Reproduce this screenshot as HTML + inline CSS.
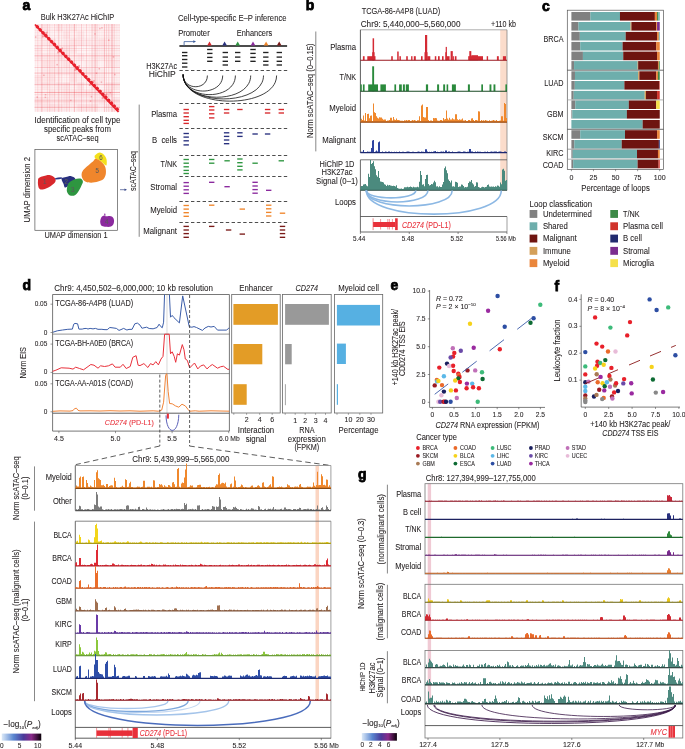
<!DOCTYPE html>
<html><head><meta charset="utf-8"><style>
html,body{margin:0;padding:0;background:#fff;width:685px;height:749px;overflow:hidden}
svg{display:block;will-change:transform}
svg{font-family:"Liberation Sans",sans-serif}
</style></head><body>
<svg width="685" height="749" viewBox="0 0 685 749">
<rect width="685" height="749" fill="#fff"/>
<text x="22.60" y="10.30" font-size="14" fill="#000" font-weight="bold" stroke="#000" stroke-width="0.75">a</text>
<text x="77.50" y="20.30" font-size="8.5" text-anchor="middle" fill="#231f20" stroke="#231f20" stroke-width="0.08" textLength="73.4" lengthAdjust="spacingAndGlyphs">Bulk H3K27Ac HiChIP</text>
<rect x="34.50" y="24.00" width="85.50" height="88.00" fill="#fef6f7"/>
<rect x="34.50" y="24.00" width="7.10" height="7.30" fill="rgba(236,60,72,0.02)"/>
<rect x="34.50" y="31.30" width="7.10" height="7.30" fill="rgba(236,60,72,0.04)"/>
<rect x="34.50" y="38.60" width="7.10" height="7.30" fill="rgba(236,60,72,0.03)"/>
<rect x="34.50" y="45.90" width="7.10" height="7.30" fill="rgba(236,60,72,0.05)"/>
<rect x="34.50" y="53.20" width="7.10" height="7.30" fill="rgba(236,60,72,0.05)"/>
<rect x="34.50" y="60.50" width="7.10" height="7.30" fill="rgba(236,60,72,0.01)"/>
<rect x="34.50" y="67.80" width="7.10" height="7.30" fill="rgba(236,60,72,0.00)"/>
<rect x="34.50" y="75.10" width="7.10" height="7.30" fill="rgba(236,60,72,0.07)"/>
<rect x="34.50" y="82.40" width="7.10" height="7.30" fill="rgba(236,60,72,0.02)"/>
<rect x="34.50" y="89.70" width="7.10" height="7.30" fill="rgba(236,60,72,0.02)"/>
<rect x="34.50" y="97.00" width="7.10" height="7.30" fill="rgba(236,60,72,0.08)"/>
<rect x="34.50" y="104.30" width="7.10" height="7.30" fill="rgba(236,60,72,0.04)"/>
<rect x="41.60" y="24.00" width="7.10" height="7.30" fill="rgba(236,60,72,0.07)"/>
<rect x="41.60" y="31.30" width="7.10" height="7.30" fill="rgba(236,60,72,0.04)"/>
<rect x="41.60" y="38.60" width="7.10" height="7.30" fill="rgba(236,60,72,0.05)"/>
<rect x="41.60" y="45.90" width="7.10" height="7.30" fill="rgba(236,60,72,0.01)"/>
<rect x="41.60" y="53.20" width="7.10" height="7.30" fill="rgba(236,60,72,0.05)"/>
<rect x="41.60" y="60.50" width="7.10" height="7.30" fill="rgba(236,60,72,0.07)"/>
<rect x="41.60" y="67.80" width="7.10" height="7.30" fill="rgba(236,60,72,0.04)"/>
<rect x="41.60" y="75.10" width="7.10" height="7.30" fill="rgba(236,60,72,0.06)"/>
<rect x="41.60" y="82.40" width="7.10" height="7.30" fill="rgba(236,60,72,0.05)"/>
<rect x="41.60" y="89.70" width="7.10" height="7.30" fill="rgba(236,60,72,0.01)"/>
<rect x="41.60" y="97.00" width="7.10" height="7.30" fill="rgba(236,60,72,0.06)"/>
<rect x="41.60" y="104.30" width="7.10" height="7.30" fill="rgba(236,60,72,0.05)"/>
<rect x="48.70" y="24.00" width="7.10" height="7.30" fill="rgba(236,60,72,0.02)"/>
<rect x="48.70" y="31.30" width="7.10" height="7.30" fill="rgba(236,60,72,0.00)"/>
<rect x="48.70" y="38.60" width="7.10" height="7.30" fill="rgba(236,60,72,0.07)"/>
<rect x="48.70" y="45.90" width="7.10" height="7.30" fill="rgba(236,60,72,0.04)"/>
<rect x="48.70" y="53.20" width="7.10" height="7.30" fill="rgba(236,60,72,0.06)"/>
<rect x="48.70" y="60.50" width="7.10" height="7.30" fill="rgba(236,60,72,0.07)"/>
<rect x="48.70" y="67.80" width="7.10" height="7.30" fill="rgba(236,60,72,0.06)"/>
<rect x="48.70" y="75.10" width="7.10" height="7.30" fill="rgba(236,60,72,0.07)"/>
<rect x="48.70" y="82.40" width="7.10" height="7.30" fill="rgba(236,60,72,0.03)"/>
<rect x="48.70" y="89.70" width="7.10" height="7.30" fill="rgba(236,60,72,0.06)"/>
<rect x="48.70" y="97.00" width="7.10" height="7.30" fill="rgba(236,60,72,0.04)"/>
<rect x="48.70" y="104.30" width="7.10" height="7.30" fill="rgba(236,60,72,0.07)"/>
<rect x="55.80" y="24.00" width="7.10" height="7.30" fill="rgba(236,60,72,0.07)"/>
<rect x="55.80" y="31.30" width="7.10" height="7.30" fill="rgba(236,60,72,0.01)"/>
<rect x="55.80" y="38.60" width="7.10" height="7.30" fill="rgba(236,60,72,0.01)"/>
<rect x="55.80" y="45.90" width="7.10" height="7.30" fill="rgba(236,60,72,0.02)"/>
<rect x="55.80" y="53.20" width="7.10" height="7.30" fill="rgba(236,60,72,0.08)"/>
<rect x="55.80" y="60.50" width="7.10" height="7.30" fill="rgba(236,60,72,0.03)"/>
<rect x="55.80" y="67.80" width="7.10" height="7.30" fill="rgba(236,60,72,0.05)"/>
<rect x="55.80" y="75.10" width="7.10" height="7.30" fill="rgba(236,60,72,0.02)"/>
<rect x="55.80" y="82.40" width="7.10" height="7.30" fill="rgba(236,60,72,0.04)"/>
<rect x="55.80" y="89.70" width="7.10" height="7.30" fill="rgba(236,60,72,0.03)"/>
<rect x="55.80" y="97.00" width="7.10" height="7.30" fill="rgba(236,60,72,0.03)"/>
<rect x="55.80" y="104.30" width="7.10" height="7.30" fill="rgba(236,60,72,0.05)"/>
<rect x="62.90" y="24.00" width="7.10" height="7.30" fill="rgba(236,60,72,0.05)"/>
<rect x="62.90" y="31.30" width="7.10" height="7.30" fill="rgba(236,60,72,0.07)"/>
<rect x="62.90" y="38.60" width="7.10" height="7.30" fill="rgba(236,60,72,0.05)"/>
<rect x="62.90" y="45.90" width="7.10" height="7.30" fill="rgba(236,60,72,0.07)"/>
<rect x="62.90" y="53.20" width="7.10" height="7.30" fill="rgba(236,60,72,0.07)"/>
<rect x="62.90" y="60.50" width="7.10" height="7.30" fill="rgba(236,60,72,0.08)"/>
<rect x="62.90" y="67.80" width="7.10" height="7.30" fill="rgba(236,60,72,0.05)"/>
<rect x="62.90" y="75.10" width="7.10" height="7.30" fill="rgba(236,60,72,0.01)"/>
<rect x="62.90" y="82.40" width="7.10" height="7.30" fill="rgba(236,60,72,0.07)"/>
<rect x="62.90" y="89.70" width="7.10" height="7.30" fill="rgba(236,60,72,0.08)"/>
<rect x="62.90" y="97.00" width="7.10" height="7.30" fill="rgba(236,60,72,0.07)"/>
<rect x="62.90" y="104.30" width="7.10" height="7.30" fill="rgba(236,60,72,0.05)"/>
<rect x="70.00" y="24.00" width="7.10" height="7.30" fill="rgba(236,60,72,0.06)"/>
<rect x="70.00" y="31.30" width="7.10" height="7.30" fill="rgba(236,60,72,0.02)"/>
<rect x="70.00" y="38.60" width="7.10" height="7.30" fill="rgba(236,60,72,0.07)"/>
<rect x="70.00" y="45.90" width="7.10" height="7.30" fill="rgba(236,60,72,0.05)"/>
<rect x="70.00" y="53.20" width="7.10" height="7.30" fill="rgba(236,60,72,0.02)"/>
<rect x="70.00" y="60.50" width="7.10" height="7.30" fill="rgba(236,60,72,0.01)"/>
<rect x="70.00" y="67.80" width="7.10" height="7.30" fill="rgba(236,60,72,0.07)"/>
<rect x="70.00" y="75.10" width="7.10" height="7.30" fill="rgba(236,60,72,0.08)"/>
<rect x="70.00" y="82.40" width="7.10" height="7.30" fill="rgba(236,60,72,0.01)"/>
<rect x="70.00" y="89.70" width="7.10" height="7.30" fill="rgba(236,60,72,0.06)"/>
<rect x="70.00" y="97.00" width="7.10" height="7.30" fill="rgba(236,60,72,0.03)"/>
<rect x="70.00" y="104.30" width="7.10" height="7.30" fill="rgba(236,60,72,0.01)"/>
<rect x="77.10" y="24.00" width="7.10" height="7.30" fill="rgba(236,60,72,0.02)"/>
<rect x="77.10" y="31.30" width="7.10" height="7.30" fill="rgba(236,60,72,0.06)"/>
<rect x="77.10" y="38.60" width="7.10" height="7.30" fill="rgba(236,60,72,0.07)"/>
<rect x="77.10" y="45.90" width="7.10" height="7.30" fill="rgba(236,60,72,0.00)"/>
<rect x="77.10" y="53.20" width="7.10" height="7.30" fill="rgba(236,60,72,0.05)"/>
<rect x="77.10" y="60.50" width="7.10" height="7.30" fill="rgba(236,60,72,0.00)"/>
<rect x="77.10" y="67.80" width="7.10" height="7.30" fill="rgba(236,60,72,0.06)"/>
<rect x="77.10" y="75.10" width="7.10" height="7.30" fill="rgba(236,60,72,0.03)"/>
<rect x="77.10" y="82.40" width="7.10" height="7.30" fill="rgba(236,60,72,0.07)"/>
<rect x="77.10" y="89.70" width="7.10" height="7.30" fill="rgba(236,60,72,0.08)"/>
<rect x="77.10" y="97.00" width="7.10" height="7.30" fill="rgba(236,60,72,0.04)"/>
<rect x="77.10" y="104.30" width="7.10" height="7.30" fill="rgba(236,60,72,0.08)"/>
<rect x="84.20" y="24.00" width="7.10" height="7.30" fill="rgba(236,60,72,0.02)"/>
<rect x="84.20" y="31.30" width="7.10" height="7.30" fill="rgba(236,60,72,0.01)"/>
<rect x="84.20" y="38.60" width="7.10" height="7.30" fill="rgba(236,60,72,0.05)"/>
<rect x="84.20" y="45.90" width="7.10" height="7.30" fill="rgba(236,60,72,0.00)"/>
<rect x="84.20" y="53.20" width="7.10" height="7.30" fill="rgba(236,60,72,0.02)"/>
<rect x="84.20" y="60.50" width="7.10" height="7.30" fill="rgba(236,60,72,0.03)"/>
<rect x="84.20" y="67.80" width="7.10" height="7.30" fill="rgba(236,60,72,0.05)"/>
<rect x="84.20" y="75.10" width="7.10" height="7.30" fill="rgba(236,60,72,0.01)"/>
<rect x="84.20" y="82.40" width="7.10" height="7.30" fill="rgba(236,60,72,0.00)"/>
<rect x="84.20" y="89.70" width="7.10" height="7.30" fill="rgba(236,60,72,0.07)"/>
<rect x="84.20" y="97.00" width="7.10" height="7.30" fill="rgba(236,60,72,0.03)"/>
<rect x="84.20" y="104.30" width="7.10" height="7.30" fill="rgba(236,60,72,0.08)"/>
<rect x="91.30" y="24.00" width="7.10" height="7.30" fill="rgba(236,60,72,0.07)"/>
<rect x="91.30" y="31.30" width="7.10" height="7.30" fill="rgba(236,60,72,0.03)"/>
<rect x="91.30" y="38.60" width="7.10" height="7.30" fill="rgba(236,60,72,0.04)"/>
<rect x="91.30" y="45.90" width="7.10" height="7.30" fill="rgba(236,60,72,0.04)"/>
<rect x="91.30" y="53.20" width="7.10" height="7.30" fill="rgba(236,60,72,0.05)"/>
<rect x="91.30" y="60.50" width="7.10" height="7.30" fill="rgba(236,60,72,0.05)"/>
<rect x="91.30" y="67.80" width="7.10" height="7.30" fill="rgba(236,60,72,0.04)"/>
<rect x="91.30" y="75.10" width="7.10" height="7.30" fill="rgba(236,60,72,0.05)"/>
<rect x="91.30" y="82.40" width="7.10" height="7.30" fill="rgba(236,60,72,0.08)"/>
<rect x="91.30" y="89.70" width="7.10" height="7.30" fill="rgba(236,60,72,0.04)"/>
<rect x="91.30" y="97.00" width="7.10" height="7.30" fill="rgba(236,60,72,0.03)"/>
<rect x="91.30" y="104.30" width="7.10" height="7.30" fill="rgba(236,60,72,0.06)"/>
<rect x="98.40" y="24.00" width="7.10" height="7.30" fill="rgba(236,60,72,0.02)"/>
<rect x="98.40" y="31.30" width="7.10" height="7.30" fill="rgba(236,60,72,0.02)"/>
<rect x="98.40" y="38.60" width="7.10" height="7.30" fill="rgba(236,60,72,0.08)"/>
<rect x="98.40" y="45.90" width="7.10" height="7.30" fill="rgba(236,60,72,0.04)"/>
<rect x="98.40" y="53.20" width="7.10" height="7.30" fill="rgba(236,60,72,0.04)"/>
<rect x="98.40" y="60.50" width="7.10" height="7.30" fill="rgba(236,60,72,0.00)"/>
<rect x="98.40" y="67.80" width="7.10" height="7.30" fill="rgba(236,60,72,0.03)"/>
<rect x="98.40" y="75.10" width="7.10" height="7.30" fill="rgba(236,60,72,0.05)"/>
<rect x="98.40" y="82.40" width="7.10" height="7.30" fill="rgba(236,60,72,0.00)"/>
<rect x="98.40" y="89.70" width="7.10" height="7.30" fill="rgba(236,60,72,0.05)"/>
<rect x="98.40" y="97.00" width="7.10" height="7.30" fill="rgba(236,60,72,0.05)"/>
<rect x="98.40" y="104.30" width="7.10" height="7.30" fill="rgba(236,60,72,0.00)"/>
<rect x="105.50" y="24.00" width="7.10" height="7.30" fill="rgba(236,60,72,0.05)"/>
<rect x="105.50" y="31.30" width="7.10" height="7.30" fill="rgba(236,60,72,0.04)"/>
<rect x="105.50" y="38.60" width="7.10" height="7.30" fill="rgba(236,60,72,0.05)"/>
<rect x="105.50" y="45.90" width="7.10" height="7.30" fill="rgba(236,60,72,0.03)"/>
<rect x="105.50" y="53.20" width="7.10" height="7.30" fill="rgba(236,60,72,0.06)"/>
<rect x="105.50" y="60.50" width="7.10" height="7.30" fill="rgba(236,60,72,0.06)"/>
<rect x="105.50" y="67.80" width="7.10" height="7.30" fill="rgba(236,60,72,0.00)"/>
<rect x="105.50" y="75.10" width="7.10" height="7.30" fill="rgba(236,60,72,0.00)"/>
<rect x="105.50" y="82.40" width="7.10" height="7.30" fill="rgba(236,60,72,0.05)"/>
<rect x="105.50" y="89.70" width="7.10" height="7.30" fill="rgba(236,60,72,0.08)"/>
<rect x="105.50" y="97.00" width="7.10" height="7.30" fill="rgba(236,60,72,0.02)"/>
<rect x="105.50" y="104.30" width="7.10" height="7.30" fill="rgba(236,60,72,0.04)"/>
<rect x="112.60" y="24.00" width="7.10" height="7.30" fill="rgba(236,60,72,0.05)"/>
<rect x="112.60" y="31.30" width="7.10" height="7.30" fill="rgba(236,60,72,0.03)"/>
<rect x="112.60" y="38.60" width="7.10" height="7.30" fill="rgba(236,60,72,0.03)"/>
<rect x="112.60" y="45.90" width="7.10" height="7.30" fill="rgba(236,60,72,0.03)"/>
<rect x="112.60" y="53.20" width="7.10" height="7.30" fill="rgba(236,60,72,0.03)"/>
<rect x="112.60" y="60.50" width="7.10" height="7.30" fill="rgba(236,60,72,0.05)"/>
<rect x="112.60" y="67.80" width="7.10" height="7.30" fill="rgba(236,60,72,0.02)"/>
<rect x="112.60" y="75.10" width="7.10" height="7.30" fill="rgba(236,60,72,0.03)"/>
<rect x="112.60" y="82.40" width="7.10" height="7.30" fill="rgba(236,60,72,0.06)"/>
<rect x="112.60" y="89.70" width="7.10" height="7.30" fill="rgba(236,60,72,0.00)"/>
<rect x="112.60" y="97.00" width="7.10" height="7.30" fill="rgba(236,60,72,0.05)"/>
<rect x="112.60" y="104.30" width="7.10" height="7.30" fill="rgba(236,60,72,0.06)"/>
<rect x="35.10" y="24.00" width="0.80" height="88.00" fill="rgba(232,32,44,0.05)"/>
<rect x="37.43" y="24.00" width="0.80" height="88.00" fill="rgba(232,32,44,0.15)"/>
<rect x="39.78" y="24.00" width="0.80" height="88.00" fill="rgba(232,32,44,0.04)"/>
<rect x="42.24" y="24.00" width="0.80" height="88.00" fill="rgba(232,32,44,0.12)"/>
<rect x="44.50" y="24.00" width="0.80" height="88.00" fill="rgba(232,32,44,0.05)"/>
<rect x="46.90" y="24.00" width="0.80" height="88.00" fill="rgba(232,32,44,0.16)"/>
<rect x="49.36" y="24.00" width="0.80" height="88.00" fill="rgba(232,32,44,0.17)"/>
<rect x="51.66" y="24.00" width="0.80" height="88.00" fill="rgba(232,32,44,0.05)"/>
<rect x="54.25" y="24.00" width="0.80" height="88.00" fill="rgba(232,32,44,0.18)"/>
<rect x="56.72" y="24.00" width="0.80" height="88.00" fill="rgba(232,32,44,0.04)"/>
<rect x="59.00" y="24.00" width="0.80" height="88.00" fill="rgba(232,32,44,0.08)"/>
<rect x="61.31" y="24.00" width="0.80" height="88.00" fill="rgba(232,32,44,0.15)"/>
<rect x="64.01" y="24.00" width="0.80" height="88.00" fill="rgba(232,32,44,0.03)"/>
<rect x="66.38" y="24.00" width="0.80" height="88.00" fill="rgba(232,32,44,0.15)"/>
<rect x="68.97" y="24.00" width="0.80" height="88.00" fill="rgba(232,32,44,0.15)"/>
<rect x="71.37" y="24.00" width="0.80" height="88.00" fill="rgba(232,32,44,0.03)"/>
<rect x="73.75" y="24.00" width="0.80" height="88.00" fill="rgba(232,32,44,0.15)"/>
<rect x="76.11" y="24.00" width="0.80" height="88.00" fill="rgba(232,32,44,0.05)"/>
<rect x="78.56" y="24.00" width="0.80" height="88.00" fill="rgba(232,32,44,0.06)"/>
<rect x="81.01" y="24.00" width="0.80" height="88.00" fill="rgba(232,32,44,0.20)"/>
<rect x="83.30" y="24.00" width="0.80" height="88.00" fill="rgba(232,32,44,0.03)"/>
<rect x="86.07" y="24.00" width="0.80" height="88.00" fill="rgba(232,32,44,0.18)"/>
<rect x="88.86" y="24.00" width="0.80" height="88.00" fill="rgba(232,32,44,0.06)"/>
<rect x="91.63" y="24.00" width="0.80" height="88.00" fill="rgba(232,32,44,0.20)"/>
<rect x="93.96" y="24.00" width="0.80" height="88.00" fill="rgba(232,32,44,0.13)"/>
<rect x="96.67" y="24.00" width="0.80" height="88.00" fill="rgba(232,32,44,0.11)"/>
<rect x="99.18" y="24.00" width="0.80" height="88.00" fill="rgba(232,32,44,0.04)"/>
<rect x="101.58" y="24.00" width="0.80" height="88.00" fill="rgba(232,32,44,0.04)"/>
<rect x="103.82" y="24.00" width="0.80" height="88.00" fill="rgba(232,32,44,0.09)"/>
<rect x="106.19" y="24.00" width="0.80" height="88.00" fill="rgba(232,32,44,0.16)"/>
<rect x="108.42" y="24.00" width="0.80" height="88.00" fill="rgba(232,32,44,0.19)"/>
<rect x="111.04" y="24.00" width="0.80" height="88.00" fill="rgba(232,32,44,0.20)"/>
<rect x="113.78" y="24.00" width="0.80" height="88.00" fill="rgba(232,32,44,0.19)"/>
<rect x="116.32" y="24.00" width="0.80" height="88.00" fill="rgba(232,32,44,0.03)"/>
<rect x="118.97" y="24.00" width="0.80" height="88.00" fill="rgba(232,32,44,0.03)"/>
<rect x="34.50" y="24.60" width="85.50" height="0.80" fill="rgba(232,32,44,0.11)"/>
<rect x="34.50" y="27.11" width="85.50" height="0.80" fill="rgba(232,32,44,0.06)"/>
<rect x="34.50" y="29.88" width="85.50" height="0.80" fill="rgba(232,32,44,0.10)"/>
<rect x="34.50" y="32.28" width="85.50" height="0.80" fill="rgba(232,32,44,0.04)"/>
<rect x="34.50" y="35.00" width="85.50" height="0.80" fill="rgba(232,32,44,0.07)"/>
<rect x="34.50" y="37.67" width="85.50" height="0.80" fill="rgba(232,32,44,0.05)"/>
<rect x="34.50" y="39.99" width="85.50" height="0.80" fill="rgba(232,32,44,0.08)"/>
<rect x="34.50" y="42.68" width="85.50" height="0.80" fill="rgba(232,32,44,0.03)"/>
<rect x="34.50" y="45.35" width="85.50" height="0.80" fill="rgba(232,32,44,0.20)"/>
<rect x="34.50" y="48.04" width="85.50" height="0.80" fill="rgba(232,32,44,0.16)"/>
<rect x="34.50" y="50.24" width="85.50" height="0.80" fill="rgba(232,32,44,0.10)"/>
<rect x="34.50" y="52.96" width="85.50" height="0.80" fill="rgba(232,32,44,0.03)"/>
<rect x="34.50" y="55.32" width="85.50" height="0.80" fill="rgba(232,32,44,0.04)"/>
<rect x="34.50" y="57.84" width="85.50" height="0.80" fill="rgba(232,32,44,0.06)"/>
<rect x="34.50" y="60.32" width="85.50" height="0.80" fill="rgba(232,32,44,0.14)"/>
<rect x="34.50" y="62.52" width="85.50" height="0.80" fill="rgba(232,32,44,0.03)"/>
<rect x="34.50" y="64.80" width="85.50" height="0.80" fill="rgba(232,32,44,0.03)"/>
<rect x="34.50" y="67.04" width="85.50" height="0.80" fill="rgba(232,32,44,0.22)"/>
<rect x="34.50" y="69.75" width="85.50" height="0.80" fill="rgba(232,32,44,0.03)"/>
<rect x="34.50" y="72.25" width="85.50" height="0.80" fill="rgba(232,32,44,0.05)"/>
<rect x="34.50" y="74.64" width="85.50" height="0.80" fill="rgba(232,32,44,0.05)"/>
<rect x="34.50" y="77.23" width="85.50" height="0.80" fill="rgba(232,32,44,0.09)"/>
<rect x="34.50" y="79.65" width="85.50" height="0.80" fill="rgba(232,32,44,0.04)"/>
<rect x="34.50" y="82.04" width="85.50" height="0.80" fill="rgba(232,32,44,0.03)"/>
<rect x="34.50" y="84.58" width="85.50" height="0.80" fill="rgba(232,32,44,0.13)"/>
<rect x="34.50" y="87.01" width="85.50" height="0.80" fill="rgba(232,32,44,0.03)"/>
<rect x="34.50" y="89.31" width="85.50" height="0.80" fill="rgba(232,32,44,0.05)"/>
<rect x="34.50" y="91.88" width="85.50" height="0.80" fill="rgba(232,32,44,0.15)"/>
<rect x="34.50" y="94.30" width="85.50" height="0.80" fill="rgba(232,32,44,0.15)"/>
<rect x="34.50" y="96.88" width="85.50" height="0.80" fill="rgba(232,32,44,0.06)"/>
<rect x="34.50" y="99.30" width="85.50" height="0.80" fill="rgba(232,32,44,0.07)"/>
<rect x="34.50" y="101.92" width="85.50" height="0.80" fill="rgba(232,32,44,0.06)"/>
<rect x="34.50" y="104.54" width="85.50" height="0.80" fill="rgba(232,32,44,0.07)"/>
<rect x="34.50" y="106.89" width="85.50" height="0.80" fill="rgba(232,32,44,0.08)"/>
<rect x="34.50" y="109.50" width="85.50" height="0.80" fill="rgba(232,32,44,0.03)"/>
<rect x="34.50" y="55.40" width="85.50" height="0.90" fill="rgba(232,32,44,0.25)"/>
<rect x="34.50" y="72.70" width="85.50" height="0.90" fill="rgba(232,32,44,0.25)"/>
<rect x="34.50" y="83.80" width="85.50" height="0.90" fill="rgba(232,32,44,0.25)"/>
<rect x="34.50" y="92.10" width="85.50" height="0.90" fill="rgba(232,32,44,0.25)"/>
<rect x="34.50" y="100.50" width="85.50" height="0.90" fill="rgba(232,32,44,0.25)"/>
<rect x="34.50" y="106.80" width="85.50" height="0.90" fill="rgba(232,32,44,0.25)"/>
<rect x="41.00" y="24.00" width="0.90" height="88.00" fill="rgba(232,32,44,0.18)"/>
<rect x="58.00" y="24.00" width="0.90" height="88.00" fill="rgba(232,32,44,0.18)"/>
<rect x="74.00" y="24.00" width="0.90" height="88.00" fill="rgba(232,32,44,0.18)"/>
<rect x="95.00" y="24.00" width="0.90" height="88.00" fill="rgba(232,32,44,0.18)"/>
<rect x="104.00" y="24.00" width="0.90" height="88.00" fill="rgba(232,32,44,0.18)"/>
<rect x="112.00" y="24.00" width="0.90" height="88.00" fill="rgba(232,32,44,0.18)"/>
<rect x="70.06" y="99.65" width="1.50" height="1.50" fill="rgba(232,40,52,0.3)"/>
<rect x="112.70" y="56.18" width="1.50" height="1.50" fill="rgba(232,40,52,0.3)"/>
<rect x="109.47" y="92.02" width="1.50" height="1.50" fill="rgba(232,40,52,0.3)"/>
<rect x="56.39" y="63.92" width="1.50" height="1.50" fill="rgba(232,40,52,0.3)"/>
<rect x="44.78" y="93.94" width="1.50" height="1.50" fill="rgba(232,40,52,0.3)"/>
<rect x="89.80" y="100.31" width="1.50" height="1.50" fill="rgba(232,40,52,0.3)"/>
<rect x="100.67" y="81.41" width="1.50" height="1.50" fill="rgba(232,40,52,0.3)"/>
<rect x="95.77" y="72.49" width="1.50" height="1.50" fill="rgba(232,40,52,0.3)"/>
<rect x="43.11" y="74.55" width="1.50" height="1.50" fill="rgba(232,40,52,0.3)"/>
<rect x="34.91" y="36.34" width="1.50" height="1.50" fill="rgba(232,40,52,0.3)"/>
<rect x="99.15" y="27.81" width="1.50" height="1.50" fill="rgba(232,40,52,0.3)"/>
<rect x="42.17" y="32.54" width="1.50" height="1.50" fill="rgba(232,40,52,0.3)"/>
<rect x="108.02" y="39.41" width="1.50" height="1.50" fill="rgba(232,40,52,0.3)"/>
<rect x="36.46" y="96.37" width="1.50" height="1.50" fill="rgba(232,40,52,0.3)"/>
<rect x="44.63" y="96.58" width="1.50" height="1.50" fill="rgba(232,40,52,0.3)"/>
<rect x="90.74" y="95.91" width="1.50" height="1.50" fill="rgba(232,40,52,0.3)"/>
<rect x="114.03" y="73.80" width="1.50" height="1.50" fill="rgba(232,40,52,0.3)"/>
<rect x="101.20" y="27.12" width="1.50" height="1.50" fill="rgba(232,40,52,0.3)"/>
<rect x="98.58" y="67.97" width="1.50" height="1.50" fill="rgba(232,40,52,0.3)"/>
<rect x="94.22" y="33.18" width="1.50" height="1.50" fill="rgba(232,40,52,0.3)"/>
<path d="M35.0,24.5L118.5,112.0" stroke="#e8202c" fill="none" stroke-width="1.7"/>
<ellipse cx="37.4" cy="26.9" rx="1.9" ry="1.7" transform="rotate(45 37.4 26.9)" fill="#e8202c"/>
<ellipse cx="40.2" cy="29.9" rx="1.9" ry="1.7" transform="rotate(45 40.2 29.9)" fill="#e8202c"/>
<ellipse cx="43.0" cy="32.8" rx="1.9" ry="1.7" transform="rotate(45 43.0 32.8)" fill="#e8202c"/>
<ellipse cx="45.9" cy="35.7" rx="1.9" ry="1.7" transform="rotate(45 45.9 35.7)" fill="#e8202c"/>
<ellipse cx="48.8" cy="38.7" rx="1.9" ry="1.7" transform="rotate(45 48.8 38.7)" fill="#e8202c"/>
<ellipse cx="51.6" cy="41.6" rx="1.9" ry="1.7" transform="rotate(45 51.6 41.6)" fill="#e8202c"/>
<ellipse cx="54.5" cy="44.5" rx="1.9" ry="1.7" transform="rotate(45 54.5 44.5)" fill="#e8202c"/>
<ellipse cx="57.3" cy="47.5" rx="1.9" ry="1.7" transform="rotate(45 57.3 47.5)" fill="#e8202c"/>
<ellipse cx="60.1" cy="50.4" rx="1.9" ry="1.7" transform="rotate(45 60.1 50.4)" fill="#e8202c"/>
<ellipse cx="63.0" cy="53.3" rx="1.9" ry="1.7" transform="rotate(45 63.0 53.3)" fill="#e8202c"/>
<ellipse cx="65.8" cy="56.3" rx="1.9" ry="1.7" transform="rotate(45 65.8 56.3)" fill="#e8202c"/>
<ellipse cx="68.7" cy="59.2" rx="1.9" ry="1.7" transform="rotate(45 68.7 59.2)" fill="#e8202c"/>
<ellipse cx="71.6" cy="62.1" rx="1.9" ry="1.7" transform="rotate(45 71.6 62.1)" fill="#e8202c"/>
<ellipse cx="74.4" cy="65.1" rx="1.9" ry="1.7" transform="rotate(45 74.4 65.1)" fill="#e8202c"/>
<ellipse cx="77.2" cy="68.0" rx="1.9" ry="1.7" transform="rotate(45 77.2 68.0)" fill="#e8202c"/>
<ellipse cx="80.1" cy="70.9" rx="1.9" ry="1.7" transform="rotate(45 80.1 70.9)" fill="#e8202c"/>
<ellipse cx="82.9" cy="73.9" rx="1.9" ry="1.7" transform="rotate(45 82.9 73.9)" fill="#e8202c"/>
<ellipse cx="85.8" cy="76.8" rx="1.9" ry="1.7" transform="rotate(45 85.8 76.8)" fill="#e8202c"/>
<ellipse cx="88.7" cy="79.7" rx="1.9" ry="1.7" transform="rotate(45 88.7 79.7)" fill="#e8202c"/>
<ellipse cx="91.5" cy="82.7" rx="1.9" ry="1.7" transform="rotate(45 91.5 82.7)" fill="#e8202c"/>
<ellipse cx="94.3" cy="85.6" rx="1.9" ry="1.7" transform="rotate(45 94.3 85.6)" fill="#e8202c"/>
<ellipse cx="97.2" cy="88.5" rx="1.9" ry="1.7" transform="rotate(45 97.2 88.5)" fill="#e8202c"/>
<ellipse cx="100.1" cy="91.5" rx="1.9" ry="1.7" transform="rotate(45 100.1 91.5)" fill="#e8202c"/>
<ellipse cx="102.9" cy="94.4" rx="1.9" ry="1.7" transform="rotate(45 102.9 94.4)" fill="#e8202c"/>
<ellipse cx="105.8" cy="97.3" rx="1.9" ry="1.7" transform="rotate(45 105.8 97.3)" fill="#e8202c"/>
<ellipse cx="108.6" cy="100.3" rx="1.9" ry="1.7" transform="rotate(45 108.6 100.3)" fill="#e8202c"/>
<ellipse cx="111.5" cy="103.2" rx="1.9" ry="1.7" transform="rotate(45 111.5 103.2)" fill="#e8202c"/>
<ellipse cx="114.3" cy="106.1" rx="1.9" ry="1.7" transform="rotate(45 114.3 106.1)" fill="#e8202c"/>
<ellipse cx="117.2" cy="109.1" rx="1.9" ry="1.7" transform="rotate(45 117.2 109.1)" fill="#e8202c"/>
<ellipse cx="44.8" cy="34.6" rx="4" ry="1.2" transform="rotate(-45 44.8 34.6)" fill="rgba(232,40,52,0.35)"/>
<ellipse cx="60.1" cy="50.4" rx="4" ry="1.2" transform="rotate(-45 60.1 50.4)" fill="rgba(232,40,52,0.35)"/>
<ellipse cx="77.2" cy="68.0" rx="4" ry="1.2" transform="rotate(-45 77.2 68.0)" fill="rgba(232,40,52,0.35)"/>
<ellipse cx="91.8" cy="83.0" rx="4" ry="1.2" transform="rotate(-45 91.8 83.0)" fill="rgba(232,40,52,0.35)"/>
<ellipse cx="104.6" cy="96.2" rx="4" ry="1.2" transform="rotate(-45 104.6 96.2)" fill="rgba(232,40,52,0.35)"/>
<text x="77.50" y="123.10" font-size="8.5" text-anchor="middle" fill="#231f20" stroke="#231f20" stroke-width="0.08" textLength="86" lengthAdjust="spacingAndGlyphs">Identification of cell type</text>
<text x="77.50" y="131.90" font-size="8.5" text-anchor="middle" fill="#231f20" stroke="#231f20" stroke-width="0.08" textLength="67" lengthAdjust="spacingAndGlyphs">specific peaks from</text>
<text x="77.50" y="140.80" font-size="8.5" text-anchor="middle" fill="#231f20" stroke="#231f20" stroke-width="0.08" textLength="42" lengthAdjust="spacingAndGlyphs">scATAC–seq</text>
<rect x="34.90" y="149.40" width="82.50" height="80.90" fill="none" stroke="#555" stroke-width="0.7"/>
<path d="M38.6,178.2C39.3,177.5 40.8,177.1 42.0,176.6C43.2,176.1 44.8,175.7 46.0,175.4C47.2,175.1 48.4,174.9 49.5,175.0C50.6,175.1 51.8,175.6 52.8,176.2C53.8,176.8 54.7,177.6 55.2,178.4C55.7,179.2 55.8,180.1 55.6,181.0C55.4,181.9 54.9,182.7 54.0,183.6C53.1,184.5 51.8,185.4 50.5,186.2C49.2,187.0 47.5,188.0 46.0,188.6C44.5,189.2 42.7,189.7 41.5,189.6C40.3,189.5 39.6,189.0 39.0,188.2C38.4,187.3 38.2,185.7 38.0,184.5C37.8,183.3 37.9,182.1 38.0,181.0C38.1,179.9 37.9,178.9 38.6,178.2Z" stroke="none" fill="#d8282c" stroke-width="0.8"/>
<path d="M55,178.2 L58,177.4 L61.5,177.2 L62.5,178.6 L59,179.2 L55.4,179.4Z" stroke="none" fill="#2a3486" stroke-width="0.8"/>
<path d="M61.9,178.0C62.5,177.3 64.7,177.2 66.0,176.9C67.3,176.6 68.8,175.9 70.0,175.9C71.2,175.9 72.6,176.6 73.5,177.1C74.4,177.6 75.5,178.5 75.3,179.2C75.1,179.9 73.3,180.7 72.4,181.5C71.5,182.3 70.9,183.0 70.0,183.9C69.1,184.8 68.0,186.2 67.1,186.8C66.2,187.4 65.4,187.9 64.8,187.4C64.2,186.9 64.0,185.0 63.6,183.9C63.2,182.8 62.4,182.0 62.1,181.0C61.8,180.0 61.2,178.7 61.9,178.0Z" stroke="none" fill="#28307e" stroke-width="0.8"/>
<path d="M68.9,182.7C70.2,181.3 72.8,179.9 74.7,179.2C76.6,178.5 79.1,178.2 80.5,178.6C81.9,179.0 82.7,180.4 82.9,181.5C83.1,182.6 82.3,183.6 81.7,185.0C81.1,186.4 80.5,188.0 79.4,189.7C78.3,191.4 76.9,194.0 75.3,195.0C73.7,196.0 71.4,196.0 70.0,195.5C68.6,195.0 67.6,193.3 67.1,192.0C66.6,190.7 66.8,189.0 67.1,187.4C67.4,185.8 67.6,184.1 68.9,182.7Z" stroke="none" fill="#2e9640" stroke-width="0.8"/>
<path d="M95.7,154.7C96.6,154.1 98.4,152.6 99.8,152.6C101.2,152.6 102.8,153.6 103.9,154.7C105.0,155.8 106.1,157.6 106.5,159.3C106.9,161.1 106.9,164.4 106.5,165.2C106.1,166.0 104.9,164.7 103.9,164.0C102.9,163.3 101.8,162.0 100.4,161.1C99.0,160.2 96.7,159.6 95.7,158.8C94.7,158.0 94.6,157.1 94.6,156.4C94.6,155.7 94.8,155.3 95.7,154.7Z" stroke="none" fill="#f4e01c" stroke-width="0.8"/>
<path d="M81.7,173.4C82.0,172.0 82.6,170.9 84.0,169.3C85.4,167.7 88.3,165.4 89.9,164.0C91.5,162.6 92.4,162.0 93.4,161.1C94.4,160.2 94.5,158.8 95.7,158.8C96.9,158.8 99.0,160.1 100.4,161.1C101.8,162.1 103.0,163.3 103.9,164.6C104.8,165.9 105.4,167.0 105.7,168.7C106.0,170.3 106.1,172.8 105.7,174.5C105.3,176.2 104.6,178.0 103.3,179.2C102.0,180.4 100.1,180.9 98.1,181.5C96.1,182.1 93.2,182.7 91.1,182.7C88.9,182.7 86.7,182.3 85.2,181.5C83.7,180.7 82.9,179.3 82.3,178.0C81.7,176.7 81.4,174.8 81.7,173.4Z" stroke="none" fill="#f0862c" stroke-width="0.8"/>
<path d="M100.5,219.5C100.8,218.4 101.3,217.2 102.0,216.5C102.7,215.8 103.8,215.5 104.5,215.5C105.2,215.5 105.2,216.2 106.0,216.3C106.8,216.4 107.9,215.9 109.0,216.0C110.1,216.1 111.7,216.3 112.5,217.0C113.3,217.7 113.8,218.8 114.0,220.0C114.2,221.2 114.0,222.9 113.5,224.0C113.0,225.1 112.2,226.0 111.0,226.5C109.8,227.0 107.5,226.9 106.0,226.8C104.5,226.7 103.0,226.6 102.0,226.0C101.0,225.4 100.5,224.1 100.3,223.0C100.0,221.9 100.2,220.6 100.5,219.5Z" stroke="none" fill="#8b2a9e" stroke-width="0.8"/>
<path d="M104.5,215.6 L104,213.8 L105.2,213.6 L105.6,215.5Z" stroke="none" fill="#8b2a9e" stroke-width="0.8"/>
<text x="44.60" y="183.80" font-size="6.65" text-anchor="middle" fill="#5a5a5a" stroke="#5a5a5a" stroke-width="0.08" textLength="3.42" lengthAdjust="spacingAndGlyphs">1</text>
<text x="66.30" y="183.50" font-size="6.65" text-anchor="middle" fill="#5a5a5a" stroke="#5a5a5a" stroke-width="0.08" textLength="3.42" lengthAdjust="spacingAndGlyphs">2</text>
<text x="72.60" y="191.70" font-size="6.65" text-anchor="middle" fill="#5a5a5a" stroke="#5a5a5a" stroke-width="0.08" textLength="3.42" lengthAdjust="spacingAndGlyphs">3</text>
<text x="106.70" y="223.70" font-size="6.65" text-anchor="middle" fill="#5a5a5a" stroke="#5a5a5a" stroke-width="0.08" textLength="3.42" lengthAdjust="spacingAndGlyphs">4</text>
<text x="97.20" y="172.80" font-size="6.65" text-anchor="middle" fill="#5a5a5a" stroke="#5a5a5a" stroke-width="0.08" textLength="3.42" lengthAdjust="spacingAndGlyphs">5</text>
<text x="101.00" y="160.20" font-size="6.65" text-anchor="middle" fill="#5a5a5a" stroke="#5a5a5a" stroke-width="0.08" textLength="3.42" lengthAdjust="spacingAndGlyphs">6</text>
<text x="30.50" y="189.70" font-size="8.5" text-anchor="middle" fill="#231f20" stroke="#231f20" stroke-width="0.08" textLength="65.4" lengthAdjust="spacingAndGlyphs" transform="rotate(-90 30.50 189.70)">UMAP dimension 2</text>
<text x="76.00" y="238.40" font-size="8.5" text-anchor="middle" fill="#231f20" stroke="#231f20" stroke-width="0.08" textLength="63.2" lengthAdjust="spacingAndGlyphs">UMAP dimension 1</text>
<line x1="120.00" y1="189.70" x2="125.50" y2="189.70" stroke="#3a4a8a" stroke-width="0.7"/>
<path d="M127,189.7 L124.5,188.5 L124.5,190.9Z" stroke="none" fill="#3a4a8a" stroke-width="0.8"/>
<text x="135.60" y="171.00" font-size="8.5" text-anchor="middle" fill="#231f20" stroke="#231f20" stroke-width="0.08" textLength="40" lengthAdjust="spacingAndGlyphs" transform="rotate(-90 135.60 171.00)">scATAC–seq</text>
<line x1="139.20" y1="104.60" x2="139.20" y2="236.80" stroke="#555" stroke-width="0.7"/>
<text x="178.00" y="21.20" font-size="8.5" fill="#231f20" stroke="#231f20" stroke-width="0.08" textLength="108.5" lengthAdjust="spacingAndGlyphs">Cell-type-specific E–P inference</text>
<text x="178.20" y="35.60" font-size="8.5" fill="#231f20" stroke="#231f20" stroke-width="0.08" textLength="31.5" lengthAdjust="spacingAndGlyphs">Promoter</text>
<text x="236.70" y="35.50" font-size="8.5" fill="#231f20" stroke="#231f20" stroke-width="0.08" textLength="35.5" lengthAdjust="spacingAndGlyphs">Enhancers</text>
<line x1="179.40" y1="46.00" x2="287.10" y2="46.00" stroke="#111" stroke-width="1.3"/>
<path d="M184.1,46 L184.1,41.6 L194,41.6" stroke="#3a5a9a" fill="none" stroke-width="0.8"/>
<path d="M196,41.6 L193.3,40.3 L193.3,42.9Z" stroke="none" fill="#3a5a9a" stroke-width="0.8"/>
<path d="M207.2,45.6 L209.5,41.6 L211.8,45.6Z" stroke="none" fill="#d8282c" stroke-width="0.8"/>
<path d="M222.29999999999998,45.6 L224.6,41.6 L226.9,45.6Z" stroke="none" fill="#28307e" stroke-width="0.8"/>
<path d="M235.39999999999998,45.6 L237.7,41.6 L240.0,45.6Z" stroke="none" fill="#2e9640" stroke-width="0.8"/>
<path d="M250.7,45.6 L253.0,41.6 L255.3,45.6Z" stroke="none" fill="#8b2a9e" stroke-width="0.8"/>
<path d="M263.8,45.6 L266.1,41.6 L268.40000000000003,45.6Z" stroke="none" fill="#f0862c" stroke-width="0.8"/>
<path d="M276.9,45.6 L279.2,41.6 L281.5,45.6Z" stroke="none" fill="#7a1a18" stroke-width="0.8"/>
<line x1="182.00" y1="52.50" x2="187.40" y2="52.50" stroke="#222" stroke-width="1.35"/>
<line x1="182.00" y1="55.70" x2="187.40" y2="55.70" stroke="#222" stroke-width="1.35"/>
<line x1="182.00" y1="59.50" x2="187.40" y2="59.50" stroke="#222" stroke-width="1.35"/>
<line x1="182.00" y1="63.20" x2="187.40" y2="63.20" stroke="#222" stroke-width="1.35"/>
<line x1="182.00" y1="67.00" x2="187.40" y2="67.00" stroke="#222" stroke-width="1.35"/>
<line x1="207.10" y1="49.50" x2="212.50" y2="49.50" stroke="#222" stroke-width="1.35"/>
<line x1="207.10" y1="53.40" x2="212.50" y2="53.40" stroke="#222" stroke-width="1.35"/>
<line x1="207.10" y1="57.40" x2="212.50" y2="57.40" stroke="#222" stroke-width="1.35"/>
<line x1="207.10" y1="61.30" x2="212.50" y2="61.30" stroke="#222" stroke-width="1.35"/>
<line x1="222.60" y1="52.50" x2="228.00" y2="52.50" stroke="#222" stroke-width="1.35"/>
<line x1="222.60" y1="57.10" x2="228.00" y2="57.10" stroke="#222" stroke-width="1.35"/>
<line x1="222.60" y1="61.30" x2="228.00" y2="61.30" stroke="#222" stroke-width="1.35"/>
<line x1="222.60" y1="65.00" x2="228.00" y2="65.00" stroke="#222" stroke-width="1.35"/>
<line x1="235.00" y1="52.50" x2="240.40" y2="52.50" stroke="#222" stroke-width="1.35"/>
<line x1="235.00" y1="57.10" x2="240.40" y2="57.10" stroke="#222" stroke-width="1.35"/>
<line x1="235.00" y1="61.30" x2="240.40" y2="61.30" stroke="#222" stroke-width="1.35"/>
<line x1="250.30" y1="49.50" x2="255.70" y2="49.50" stroke="#222" stroke-width="1.35"/>
<line x1="250.30" y1="53.40" x2="255.70" y2="53.40" stroke="#222" stroke-width="1.35"/>
<line x1="250.30" y1="57.40" x2="255.70" y2="57.40" stroke="#222" stroke-width="1.35"/>
<line x1="250.30" y1="61.30" x2="255.70" y2="61.30" stroke="#222" stroke-width="1.35"/>
<line x1="263.10" y1="52.50" x2="268.50" y2="52.50" stroke="#222" stroke-width="1.35"/>
<line x1="263.10" y1="57.10" x2="268.50" y2="57.10" stroke="#222" stroke-width="1.35"/>
<line x1="263.10" y1="61.30" x2="268.50" y2="61.30" stroke="#222" stroke-width="1.35"/>
<line x1="263.10" y1="65.00" x2="268.50" y2="65.00" stroke="#222" stroke-width="1.35"/>
<line x1="276.60" y1="52.50" x2="282.00" y2="52.50" stroke="#222" stroke-width="1.35"/>
<line x1="276.60" y1="57.10" x2="282.00" y2="57.10" stroke="#222" stroke-width="1.35"/>
<line x1="276.60" y1="61.30" x2="282.00" y2="61.30" stroke="#222" stroke-width="1.35"/>
<line x1="276.60" y1="65.00" x2="282.00" y2="65.00" stroke="#222" stroke-width="1.35"/>
<text x="177.20" y="68.60" font-size="8.5" text-anchor="end" fill="#231f20" stroke="#231f20" stroke-width="0.08" textLength="31" lengthAdjust="spacingAndGlyphs">H3K27Ac</text>
<text x="162.30" y="77.40" font-size="8.5" text-anchor="middle" fill="#231f20" stroke="#231f20" stroke-width="0.08" textLength="27" lengthAdjust="spacingAndGlyphs">HiChIP</text>
<line x1="179.40" y1="70.50" x2="287.50" y2="70.50" stroke="#3a3a3a" stroke-width="0.9" stroke-dasharray="3.4,2.4"/>
<line x1="179.40" y1="103.50" x2="287.50" y2="103.50" stroke="#3a3a3a" stroke-width="0.9" stroke-dasharray="3.4,2.4"/>
<line x1="179.40" y1="128.50" x2="287.50" y2="128.50" stroke="#3a3a3a" stroke-width="0.9" stroke-dasharray="3.4,2.4"/>
<line x1="179.40" y1="155.50" x2="287.50" y2="155.50" stroke="#3a3a3a" stroke-width="0.9" stroke-dasharray="3.4,2.4"/>
<line x1="179.40" y1="176.50" x2="287.50" y2="176.50" stroke="#3a3a3a" stroke-width="0.9" stroke-dasharray="3.4,2.4"/>
<line x1="179.40" y1="201.50" x2="287.50" y2="201.50" stroke="#3a3a3a" stroke-width="0.9" stroke-dasharray="3.4,2.4"/>
<line x1="179.40" y1="222.50" x2="287.50" y2="222.50" stroke="#3a3a3a" stroke-width="0.9" stroke-dasharray="3.4,2.4"/>
<path d="M183.1,74.5 C183.1,90.5 207.4,90.8 207.4,75.5" stroke="#111" fill="none" stroke-width="0.8"/>
<path d="M183.1,74.5 C183.1,96.4 222.7,96.4 222.7,75.5" stroke="#111" fill="none" stroke-width="0.8"/>
<path d="M183.1,74.5 C183.1,101.3 235.4,101.1 235.4,75.5" stroke="#111" fill="none" stroke-width="0.8"/>
<path d="M183.1,74.5 C183.1,104.8 250.7,104.5 250.7,75.5" stroke="#111" fill="none" stroke-width="0.8"/>
<path d="M183.1,74.5 C183.1,107.1 263.5,106.7 263.5,75.5" stroke="#111" fill="none" stroke-width="0.8"/>
<path d="M183.1,74.5 C183.1,110.1 276.6,109.6 276.6,75.5" stroke="#111" fill="none" stroke-width="0.8"/>
<text x="177.00" y="116.80" font-size="8.5" text-anchor="end" fill="#231f20" stroke="#231f20" stroke-width="0.08" textLength="25.86" lengthAdjust="spacingAndGlyphs">Plasma</text>
<line x1="183.50" y1="109.50" x2="188.90" y2="109.50" stroke="#d8282c" stroke-width="1.35"/>
<line x1="183.50" y1="113.00" x2="188.90" y2="113.00" stroke="#d8282c" stroke-width="1.35"/>
<line x1="183.50" y1="116.70" x2="188.90" y2="116.70" stroke="#d8282c" stroke-width="1.35"/>
<line x1="183.50" y1="120.30" x2="188.90" y2="120.30" stroke="#d8282c" stroke-width="1.35"/>
<line x1="183.50" y1="123.40" x2="188.90" y2="123.40" stroke="#d8282c" stroke-width="1.35"/>
<line x1="209.00" y1="106.60" x2="214.40" y2="106.60" stroke="#d8282c" stroke-width="1.35"/>
<line x1="209.00" y1="110.00" x2="214.40" y2="110.00" stroke="#d8282c" stroke-width="1.35"/>
<line x1="209.00" y1="113.80" x2="214.40" y2="113.80" stroke="#d8282c" stroke-width="1.35"/>
<line x1="209.00" y1="117.90" x2="214.40" y2="117.90" stroke="#d8282c" stroke-width="1.35"/>
<line x1="223.90" y1="109.50" x2="229.30" y2="109.50" stroke="#d8282c" stroke-width="1.35"/>
<line x1="223.90" y1="113.00" x2="229.30" y2="113.00" stroke="#d8282c" stroke-width="1.35"/>
<line x1="237.20" y1="109.50" x2="242.60" y2="109.50" stroke="#d8282c" stroke-width="1.35"/>
<line x1="264.90" y1="109.50" x2="270.30" y2="109.50" stroke="#d8282c" stroke-width="1.35"/>
<line x1="264.90" y1="113.00" x2="270.30" y2="113.00" stroke="#d8282c" stroke-width="1.35"/>
<line x1="278.60" y1="109.50" x2="284.00" y2="109.50" stroke="#d8282c" stroke-width="1.35"/>
<line x1="278.60" y1="113.00" x2="284.00" y2="113.00" stroke="#d8282c" stroke-width="1.35"/>
<text x="177.00" y="142.80" font-size="8.5" text-anchor="end" fill="#231f20" stroke="#231f20" stroke-width="0.08" textLength="25.0" lengthAdjust="spacingAndGlyphs">B  cells</text>
<line x1="183.50" y1="133.50" x2="188.90" y2="133.50" stroke="#28307e" stroke-width="1.35"/>
<line x1="183.50" y1="137.10" x2="188.90" y2="137.10" stroke="#28307e" stroke-width="1.35"/>
<line x1="183.50" y1="140.80" x2="188.90" y2="140.80" stroke="#28307e" stroke-width="1.35"/>
<line x1="183.50" y1="144.90" x2="188.90" y2="144.90" stroke="#28307e" stroke-width="1.35"/>
<line x1="223.90" y1="132.80" x2="229.30" y2="132.80" stroke="#28307e" stroke-width="1.35"/>
<line x1="223.90" y1="136.40" x2="229.30" y2="136.40" stroke="#28307e" stroke-width="1.35"/>
<line x1="223.90" y1="140.00" x2="229.30" y2="140.00" stroke="#28307e" stroke-width="1.35"/>
<line x1="223.90" y1="143.70" x2="229.30" y2="143.70" stroke="#28307e" stroke-width="1.35"/>
<line x1="237.20" y1="132.80" x2="242.60" y2="132.80" stroke="#28307e" stroke-width="1.35"/>
<line x1="237.20" y1="136.40" x2="242.60" y2="136.40" stroke="#28307e" stroke-width="1.35"/>
<line x1="252.40" y1="134.00" x2="257.80" y2="134.00" stroke="#28307e" stroke-width="1.35"/>
<line x1="264.90" y1="134.00" x2="270.30" y2="134.00" stroke="#28307e" stroke-width="1.35"/>
<text x="177.00" y="167.30" font-size="8.5" text-anchor="end" fill="#231f20" stroke="#231f20" stroke-width="0.08" textLength="16.46" lengthAdjust="spacingAndGlyphs">T/NK</text>
<line x1="183.50" y1="159.50" x2="188.90" y2="159.50" stroke="#2e9640" stroke-width="1.35"/>
<line x1="183.50" y1="163.20" x2="188.90" y2="163.20" stroke="#2e9640" stroke-width="1.35"/>
<line x1="183.50" y1="166.80" x2="188.90" y2="166.80" stroke="#2e9640" stroke-width="1.35"/>
<line x1="183.50" y1="170.40" x2="188.90" y2="170.40" stroke="#2e9640" stroke-width="1.35"/>
<line x1="183.50" y1="173.50" x2="188.90" y2="173.50" stroke="#2e9640" stroke-width="1.35"/>
<line x1="209.00" y1="159.50" x2="214.40" y2="159.50" stroke="#2e9640" stroke-width="1.35"/>
<line x1="209.00" y1="163.20" x2="214.40" y2="163.20" stroke="#2e9640" stroke-width="1.35"/>
<line x1="224.40" y1="160.80" x2="229.80" y2="160.80" stroke="#2e9640" stroke-width="1.35"/>
<line x1="237.20" y1="159.00" x2="242.60" y2="159.00" stroke="#2e9640" stroke-width="1.35"/>
<line x1="237.20" y1="162.70" x2="242.60" y2="162.70" stroke="#2e9640" stroke-width="1.35"/>
<line x1="237.20" y1="166.30" x2="242.60" y2="166.30" stroke="#2e9640" stroke-width="1.35"/>
<line x1="237.20" y1="169.90" x2="242.60" y2="169.90" stroke="#2e9640" stroke-width="1.35"/>
<line x1="252.40" y1="163.20" x2="257.80" y2="163.20" stroke="#2e9640" stroke-width="1.35"/>
<line x1="278.60" y1="160.80" x2="284.00" y2="160.80" stroke="#2e9640" stroke-width="1.35"/>
<text x="177.00" y="190.40" font-size="8.5" text-anchor="end" fill="#231f20" stroke="#231f20" stroke-width="0.08" textLength="26.77" lengthAdjust="spacingAndGlyphs">Stromal</text>
<line x1="183.50" y1="182.60" x2="188.90" y2="182.60" stroke="#8b2a9e" stroke-width="1.35"/>
<line x1="183.50" y1="186.20" x2="188.90" y2="186.20" stroke="#8b2a9e" stroke-width="1.35"/>
<line x1="183.50" y1="189.80" x2="188.90" y2="189.80" stroke="#8b2a9e" stroke-width="1.35"/>
<line x1="183.50" y1="193.40" x2="188.90" y2="193.40" stroke="#8b2a9e" stroke-width="1.35"/>
<line x1="209.00" y1="182.30" x2="214.40" y2="182.30" stroke="#8b2a9e" stroke-width="1.35"/>
<line x1="224.40" y1="186.70" x2="229.80" y2="186.70" stroke="#8b2a9e" stroke-width="1.35"/>
<line x1="252.40" y1="182.30" x2="257.80" y2="182.30" stroke="#8b2a9e" stroke-width="1.35"/>
<line x1="252.40" y1="186.00" x2="257.80" y2="186.00" stroke="#8b2a9e" stroke-width="1.35"/>
<line x1="252.40" y1="189.60" x2="257.80" y2="189.60" stroke="#8b2a9e" stroke-width="1.35"/>
<line x1="252.40" y1="193.20" x2="257.80" y2="193.20" stroke="#8b2a9e" stroke-width="1.35"/>
<line x1="266.00" y1="190.30" x2="271.40" y2="190.30" stroke="#8b2a9e" stroke-width="1.35"/>
<text x="177.00" y="212.80" font-size="8.5" text-anchor="end" fill="#231f20" stroke="#231f20" stroke-width="0.08" textLength="26.78" lengthAdjust="spacingAndGlyphs">Myeloid</text>
<line x1="183.50" y1="205.50" x2="188.90" y2="205.50" stroke="#f0862c" stroke-width="1.35"/>
<line x1="183.50" y1="209.10" x2="188.90" y2="209.10" stroke="#f0862c" stroke-width="1.35"/>
<line x1="183.50" y1="212.70" x2="188.90" y2="212.70" stroke="#f0862c" stroke-width="1.35"/>
<line x1="183.50" y1="216.30" x2="188.90" y2="216.30" stroke="#f0862c" stroke-width="1.35"/>
<line x1="209.00" y1="205.20" x2="214.40" y2="205.20" stroke="#f0862c" stroke-width="1.35"/>
<line x1="239.60" y1="209.10" x2="245.00" y2="209.10" stroke="#f0862c" stroke-width="1.35"/>
<line x1="266.00" y1="205.20" x2="271.40" y2="205.20" stroke="#f0862c" stroke-width="1.35"/>
<line x1="266.00" y1="208.80" x2="271.40" y2="208.80" stroke="#f0862c" stroke-width="1.35"/>
<line x1="266.00" y1="212.40" x2="271.40" y2="212.40" stroke="#f0862c" stroke-width="1.35"/>
<line x1="266.00" y1="216.00" x2="271.40" y2="216.00" stroke="#f0862c" stroke-width="1.35"/>
<line x1="279.80" y1="213.20" x2="285.20" y2="213.20" stroke="#f0862c" stroke-width="1.35"/>
<text x="177.00" y="233.70" font-size="8.5" text-anchor="end" fill="#231f20" stroke="#231f20" stroke-width="0.08" textLength="33.78" lengthAdjust="spacingAndGlyphs">Malignant</text>
<line x1="183.50" y1="226.40" x2="188.90" y2="226.40" stroke="#7a1a18" stroke-width="1.35"/>
<line x1="183.50" y1="230.00" x2="188.90" y2="230.00" stroke="#7a1a18" stroke-width="1.35"/>
<line x1="183.50" y1="233.60" x2="188.90" y2="233.60" stroke="#7a1a18" stroke-width="1.35"/>
<line x1="183.50" y1="237.30" x2="188.90" y2="237.30" stroke="#7a1a18" stroke-width="1.35"/>
<line x1="209.00" y1="226.40" x2="214.40" y2="226.40" stroke="#7a1a18" stroke-width="1.35"/>
<line x1="225.90" y1="230.00" x2="231.30" y2="230.00" stroke="#7a1a18" stroke-width="1.35"/>
<line x1="239.60" y1="234.10" x2="245.00" y2="234.10" stroke="#7a1a18" stroke-width="1.35"/>
<line x1="279.80" y1="226.40" x2="285.20" y2="226.40" stroke="#7a1a18" stroke-width="1.35"/>
<line x1="279.80" y1="230.00" x2="285.20" y2="230.00" stroke="#7a1a18" stroke-width="1.35"/>
<line x1="279.80" y1="233.60" x2="285.20" y2="233.60" stroke="#7a1a18" stroke-width="1.35"/>
<line x1="279.80" y1="237.30" x2="285.20" y2="237.30" stroke="#7a1a18" stroke-width="1.35"/>
<text x="305.80" y="10.20" font-size="14" fill="#000" font-weight="bold" stroke="#000" stroke-width="0.75">b</text>
<text x="361.70" y="14.20" font-size="8.5" fill="#231f20" stroke="#231f20" stroke-width="0.08" textLength="78.6" lengthAdjust="spacingAndGlyphs">TCGA-86-A4P8 (LUAD)</text>
<text x="360.70" y="26.80" font-size="8.5" fill="#231f20" stroke="#231f20" stroke-width="0.08" textLength="99.8" lengthAdjust="spacingAndGlyphs">Chr9: 5,440,000–5,560,000</text>
<text x="516.00" y="26.80" font-size="8.5" text-anchor="end" fill="#231f20" stroke="#231f20" stroke-width="0.08" textLength="25" lengthAdjust="spacingAndGlyphs">+110 kb</text>
<rect x="500.20" y="30.00" width="6.80" height="160.40" fill="#fbdccb"/>
<line x1="360.40" y1="29.80" x2="507.00" y2="29.80" stroke="#999" stroke-width="0.8"/>
<line x1="507.00" y1="29.80" x2="507.00" y2="190.40" stroke="#777" stroke-width="0.7"/>
<line x1="360.40" y1="29.80" x2="360.40" y2="152.90" stroke="#333" stroke-width="0.8"/>
<rect x="362.90" y="56.20" width="1.70" height="4.00" fill="#d42a34"/>
<rect x="367.30" y="56.20" width="8.20" height="4.00" fill="#d42a34"/>
<rect x="372.60" y="38.30" width="1.50" height="21.90" fill="#d42a34"/>
<rect x="372.20" y="52.20" width="2.40" height="8.00" fill="#d42a34"/>
<rect x="391.20" y="56.20" width="1.60" height="4.00" fill="#d42a34"/>
<rect x="397.20" y="51.50" width="1.50" height="8.70" fill="#d42a34"/>
<rect x="399.40" y="56.20" width="1.50" height="4.00" fill="#d42a34"/>
<rect x="406.20" y="56.20" width="1.60" height="4.00" fill="#d42a34"/>
<rect x="411.10" y="56.20" width="1.40" height="4.00" fill="#d42a34"/>
<rect x="413.80" y="56.20" width="2.00" height="4.00" fill="#d42a34"/>
<rect x="421.00" y="56.20" width="1.60" height="4.00" fill="#d42a34"/>
<rect x="425.00" y="35.00" width="2.20" height="25.20" fill="#d42a34"/>
<rect x="424.50" y="52.20" width="3.00" height="8.00" fill="#d42a34"/>
<rect x="427.20" y="56.20" width="3.10" height="4.00" fill="#d42a34"/>
<rect x="434.80" y="56.20" width="1.50" height="4.00" fill="#d42a34"/>
<rect x="438.00" y="56.20" width="1.70" height="4.00" fill="#d42a34"/>
<rect x="442.00" y="56.20" width="1.60" height="4.00" fill="#d42a34"/>
<rect x="445.30" y="52.20" width="1.50" height="8.00" fill="#d42a34"/>
<rect x="445.70" y="46.90" width="1.20" height="13.30" fill="#d42a34"/>
<rect x="446.80" y="56.20" width="2.80" height="4.00" fill="#d42a34"/>
<rect x="450.60" y="51.10" width="2.20" height="9.10" fill="#d42a34"/>
<rect x="452.80" y="56.20" width="1.10" height="4.00" fill="#d42a34"/>
<rect x="454.80" y="56.20" width="1.70" height="4.00" fill="#d42a34"/>
<rect x="468.20" y="56.20" width="14.80" height="4.00" fill="#d42a34"/>
<rect x="469.30" y="51.10" width="2.00" height="9.10" fill="#d42a34"/>
<rect x="471.30" y="55.20" width="6.70" height="5.00" fill="#d42a34"/>
<rect x="486.70" y="56.20" width="1.40" height="4.00" fill="#d42a34"/>
<rect x="496.90" y="56.20" width="1.90" height="4.00" fill="#d42a34"/>
<rect x="502.90" y="56.20" width="3.10" height="4.00" fill="#d42a34"/>
<line x1="360.40" y1="60.20" x2="507.00" y2="60.20" stroke="#9a1820" stroke-width="1.1"/>
<rect x="360.40" y="84.40" width="1.40" height="6.80" fill="#2a8a3c"/>
<rect x="362.90" y="84.40" width="1.70" height="6.80" fill="#2a8a3c"/>
<rect x="368.20" y="84.40" width="9.80" height="6.80" fill="#2a8a3c"/>
<rect x="372.20" y="66.30" width="1.90" height="24.90" fill="#2a8a3c"/>
<rect x="380.40" y="84.40" width="5.50" height="6.80" fill="#2a8a3c"/>
<rect x="394.40" y="84.40" width="1.70" height="6.80" fill="#2a8a3c"/>
<rect x="399.10" y="84.40" width="2.70" height="6.80" fill="#2a8a3c"/>
<rect x="402.90" y="84.40" width="2.00" height="6.80" fill="#2a8a3c"/>
<rect x="405.80" y="84.40" width="3.10" height="6.80" fill="#2a8a3c"/>
<rect x="425.90" y="84.40" width="2.20" height="6.80" fill="#2a8a3c"/>
<rect x="437.10" y="84.40" width="2.00" height="6.80" fill="#2a8a3c"/>
<rect x="443.20" y="84.40" width="1.90" height="6.80" fill="#2a8a3c"/>
<rect x="446.60" y="84.40" width="1.60" height="6.80" fill="#2a8a3c"/>
<rect x="451.90" y="84.40" width="4.00" height="6.80" fill="#2a8a3c"/>
<rect x="467.90" y="84.40" width="2.00" height="6.80" fill="#2a8a3c"/>
<rect x="481.30" y="84.40" width="1.70" height="6.80" fill="#2a8a3c"/>
<rect x="489.50" y="84.40" width="1.90" height="6.80" fill="#2a8a3c"/>
<rect x="493.50" y="84.40" width="1.90" height="6.80" fill="#2a8a3c"/>
<rect x="505.40" y="84.40" width="1.60" height="6.80" fill="#2a8a3c"/>
<line x1="360.40" y1="91.20" x2="507.00" y2="91.20" stroke="#1a4a24" stroke-width="1.1"/>
<path d="M360.4,122.2V120.6H361.0V118.8H362.0V120.0H363.0V115.4H364.0V120.5H365.0V113.0H366.0V120.9H367.0V113.9H368.0V113.8H369.0V118.2H370.0V115.7H371.0V115.6H372.0V121.0H373.0V103.6H374.0V112.3H375.0V113.0H376.0V116.3H377.0V117.7H378.0V118.4H379.0V117.2H380.0V117.5H381.0V117.6H382.0V118.7H383.0V119.8H384.0V119.5H385.0V119.4H386.0V121.1H387.0V120.5H388.0V120.6H389.0V120.1H390.0V117.8H391.0V117.7H392.0V120.5H393.0V116.9H394.0V119.6H395.0V119.9H396.0V118.6H397.0V119.9H398.0V120.1H399.0V120.3H400.0V120.7H401.0V120.8H402.0V120.8H403.0V121.0H404.0V120.2H405.0V120.6H406.0V120.1H407.0V120.6H408.0V120.0H409.0V120.1H410.0V121.1H411.0V120.8H412.0V120.0H413.0V120.5H414.0V119.9H415.0V120.6H416.0V121.0H417.0V120.3H418.0V120.2H419.0V116.2H420.0V121.0H421.0V105.6H422.0V104.4H423.0V117.0H424.0V117.4H425.0V117.4H426.0V106.9H427.0V107.0H428.0V120.1H429.0V120.9H430.0V120.4H431.0V120.6H432.0V120.9H433.0V118.0H434.0V118.3H435.0V118.0H436.0V118.3H437.0V120.6H438.0V120.8H439.0V120.8H440.0V119.9H441.0V120.1H442.0V120.7H443.0V118.0H444.0V119.6H445.0V119.1H446.0V110.6H447.0V118.6H448.0V119.8H449.0V117.8H450.0V119.6H451.0V119.5H452.0V118.3H453.0V119.3H454.0V119.4H455.0V114.3H456.0V114.3H457.0V119.3H458.0V120.0H459.0V119.3H460.0V119.7H461.0V119.6H462.0V118.6H463.0V120.5H464.0V120.4H465.0V120.1H466.0V120.9H467.0V120.9H468.0V120.0H469.0V120.1H470.0V120.8H471.0V118.4H472.0V118.2H473.0V120.0H474.0V120.9H475.0V120.0H476.0V120.0H477.0V120.4H478.0V111.2H479.0V111.6H480.0V121.0H481.0V119.9H482.0V120.8H483.0V120.3H484.0V120.8H485.0V120.1H486.0V120.4H487.0V120.7H488.0V120.9H489.0V120.2H490.0V121.0H491.0V120.8H492.0V120.4H493.0V120.1H494.0V120.4H495.0V120.8H496.0V120.0H497.0V120.9H498.0V121.1H499.0V120.8H500.0V120.6H501.0V116.3H502.0V116.2H503.0V120.7H504.0V103.0H505.0V104.0H506.0V117.9H507.0V122.2Z" stroke="none" fill="#f0882c" stroke-width="0.8"/>
<line x1="360.40" y1="122.20" x2="507.00" y2="122.20" stroke="#9a4a12" stroke-width="1.2"/>
<path d="M360.4,152.6V151.8H361.0V151.7H362.0V151.7H363.0V150.0H364.0V152.1H365.0V151.9H366.0V151.9H367.0V151.6H368.0V151.7H369.0V151.7H370.0V151.8H371.0V148.1H372.0V140.5H373.0V140.1H374.0V152.0H375.0V151.5H376.0V150.6H377.0V151.6H378.0V142.3H379.0V141.5H380.0V151.9H381.0V151.9H382.0V151.6H383.0V152.1H384.0V152.1H385.0V151.5H386.0V151.8H387.0V152.1H388.0V151.5H389.0V151.5H390.0V152.0H391.0V151.8H392.0V152.0H393.0V151.9H394.0V151.7H395.0V152.0H396.0V151.7H397.0V152.1H398.0V152.0H399.0V151.6H400.0V151.9H401.0V151.9H402.0V151.7H403.0V151.8H404.0V151.9H405.0V152.1H406.0V151.7H407.0V151.5H408.0V151.5H409.0V151.7H410.0V151.9H411.0V151.9H412.0V151.7H413.0V151.7H414.0V152.0H415.0V152.0H416.0V151.9H417.0V151.8H418.0V151.6H419.0V151.8H420.0V152.1H421.0V151.6H422.0V151.8H423.0V151.8H424.0V152.0H425.0V149.3H426.0V149.3H427.0V151.6H428.0V152.1H429.0V151.8H430.0V152.0H431.0V151.7H432.0V152.1H433.0V151.4H434.0V151.3H435.0V150.9H436.0V152.1H437.0V151.8H438.0V152.0H439.0V151.9H440.0V151.8H441.0V151.5H442.0V151.8H443.0V151.5H444.0V152.0H445.0V150.4H446.0V150.5H447.0V152.0H448.0V151.6H449.0V151.5H450.0V152.1H451.0V151.9H452.0V151.6H453.0V151.9H454.0V152.0H455.0V152.1H456.0V152.1H457.0V151.7H458.0V151.5H459.0V151.5H460.0V151.8H461.0V152.1H462.0V151.9H463.0V151.6H464.0V151.6H465.0V151.7H466.0V152.0H467.0V151.8H468.0V151.8H469.0V148.9H470.0V149.1H471.0V151.5H472.0V151.5H473.0V152.0H474.0V151.9H475.0V151.6H476.0V151.9H477.0V151.5H478.0V151.8H479.0V151.7H480.0V151.7H481.0V152.0H482.0V151.9H483.0V152.0H484.0V151.7H485.0V151.7H486.0V152.0H487.0V151.6H488.0V151.9H489.0V152.0H490.0V151.8H491.0V151.5H492.0V151.8H493.0V151.7H494.0V151.5H495.0V151.5H496.0V151.6H497.0V151.9H498.0V151.7H499.0V151.5H500.0V151.6H501.0V151.7H502.0V151.9H503.0V151.9H504.0V151.4H505.0V151.5H506.0V152.0H507.0V152.6Z" stroke="none" fill="#2e44a0" stroke-width="0.8"/>
<line x1="360.40" y1="152.60" x2="507.00" y2="152.60" stroke="#1c2870" stroke-width="1.1"/>
<line x1="360.40" y1="159.80" x2="507.00" y2="159.80" stroke="#555" stroke-width="0.8"/>
<line x1="360.40" y1="159.80" x2="360.40" y2="232.00" stroke="#444" stroke-width="0.8"/>
<path d="M360.4,190.3V186.7H361.0V186.0H362.0V186.0H363.0V184.4H364.0V184.3H365.0V184.1H366.0V185.4H367.0V186.3H368.0V173.8H369.0V177.0H370.0V160.0H371.0V164.1H372.0V163.0H373.0V161.2H374.0V166.3H375.0V169.3H376.0V175.2H377.0V176.8H378.0V170.9H379.0V178.1H380.0V181.5H381.0V181.7H382.0V182.0H383.0V182.5H384.0V184.3H385.0V184.7H386.0V185.9H387.0V184.7H388.0V185.5H389.0V185.0H390.0V185.4H391.0V185.7H392.0V185.9H393.0V185.8H394.0V186.1H395.0V186.5H396.0V185.2H397.0V188.0H398.0V188.5H399.0V188.7H400.0V188.8H401.0V188.6H402.0V189.0H403.0V188.7H404.0V187.2H405.0V187.3H406.0V187.3H407.0V186.8H408.0V187.2H409.0V186.9H410.0V186.6H411.0V187.0H412.0V187.4H413.0V186.8H414.0V187.2H415.0V187.2H416.0V187.3H417.0V186.8H418.0V187.2H419.0V181.8H420.0V171.1H421.0V175.1H422.0V184.8H423.0V184.3H424.0V186.3H425.0V178.9H426.0V175.0H427.0V174.8H428.0V184.0H429.0V185.4H430.0V185.0H431.0V184.1H432.0V184.3H433.0V182.4H434.0V180.7H435.0V182.2H436.0V186.6H437.0V186.2H438.0V187.3H439.0V186.2H440.0V187.0H441.0V187.0H442.0V184.5H443.0V181.9H444.0V168.2H445.0V166.4H446.0V170.2H447.0V173.2H448.0V179.4H449.0V180.9H450.0V182.6H451.0V180.6H452.0V186.6H453.0V186.3H454.0V186.7H455.0V181.8H456.0V182.1H457.0V182.8H458.0V187.1H459.0V186.4H460.0V186.6H461.0V184.4H462.0V184.7H463.0V186.0H464.0V187.4H465.0V187.1H466.0V187.2H467.0V186.7H468.0V183.0H469.0V181.4H470.0V181.8H471.0V180.0H472.0V183.3H473.0V184.5H474.0V186.8H475.0V186.1H476.0V182.2H477.0V182.4H478.0V187.1H479.0V187.6H480.0V187.9H481.0V187.3H482.0V186.8H483.0V187.0H484.0V187.6H485.0V187.1H486.0V186.8H487.0V184.9H488.0V184.4H489.0V186.5H490.0V186.7H491.0V186.6H492.0V186.7H493.0V186.4H494.0V186.9H495.0V186.2H496.0V186.7H497.0V185.4H498.0V185.7H499.0V186.8H500.0V182.5H501.0V184.3H502.0V169.5H503.0V168.8H504.0V170.8H505.0V180.8H506.0V180.1H507.0V190.3Z" stroke="none" fill="#4b8a7e" stroke-width="0.8"/>
<line x1="360.40" y1="190.30" x2="507.00" y2="190.30" stroke="#2b4a44" stroke-width="0.9"/>
<path d="M366.30,190.50C366.30,200.34 415.80,200.34 415.80,190.50" stroke="#8cb8e4" fill="none" stroke-width="1.6"/>
<path d="M366.30,190.50C366.30,205.80 427.90,205.80 427.90,190.50" stroke="#8cb8e4" fill="none" stroke-width="1.6"/>
<path d="M366.30,190.50C366.30,211.12 452.20,211.12 452.20,190.50" stroke="#8cb8e4" fill="none" stroke-width="1.6"/>
<path d="M366.30,190.50C366.30,222.02 501.30,222.02 501.30,190.50" stroke="#8cb8e4" fill="none" stroke-width="1.6"/>
<line x1="360.40" y1="216.50" x2="507.00" y2="216.50" stroke="#444" stroke-width="0.8"/>
<line x1="507.00" y1="216.50" x2="507.00" y2="232.00" stroke="#777" stroke-width="0.7"/>
<line x1="360.40" y1="232.00" x2="507.00" y2="232.00" stroke="#444" stroke-width="0.8"/>
<line x1="373.10" y1="218.30" x2="373.10" y2="230.10" stroke="#e8303a" stroke-width="0.6"/>
<rect x="373.10" y="222.00" width="22.00" height="5.00" fill="#e8303a"/>
<rect x="395.10" y="218.30" width="2.60" height="11.80" fill="#e8303a"/>
<line x1="380.60" y1="219.00" x2="380.60" y2="229.50" stroke="#e8303a" stroke-width="0.5"/>
<line x1="387.80" y1="219.00" x2="387.80" y2="229.50" stroke="#e8303a" stroke-width="0.5"/>
<line x1="389.40" y1="219.00" x2="389.40" y2="229.50" stroke="#e8303a" stroke-width="0.5"/>
<line x1="392.40" y1="219.00" x2="392.40" y2="229.50" stroke="#e8303a" stroke-width="0.5"/>
<text x="401.90" y="227.60" font-size="8.71" fill="#e8303a" stroke="#e8303a" stroke-width="0.08" textLength="49" lengthAdjust="spacingAndGlyphs"><tspan font-style="italic">CD274</tspan> (PD-L1)</text>
<line x1="360.40" y1="232.00" x2="360.40" y2="234.00" stroke="#444" stroke-width="0.6"/>
<text x="359.10" y="241.20" font-size="7.26" text-anchor="middle" fill="#231f20" stroke="#231f20" stroke-width="0.08" textLength="12.4" lengthAdjust="spacingAndGlyphs">5.44</text>
<line x1="409.25" y1="232.00" x2="409.25" y2="234.00" stroke="#444" stroke-width="0.6"/>
<text x="407.95" y="241.20" font-size="7.26" text-anchor="middle" fill="#231f20" stroke="#231f20" stroke-width="0.08" textLength="12.4" lengthAdjust="spacingAndGlyphs">5.48</text>
<line x1="458.10" y1="232.00" x2="458.10" y2="234.00" stroke="#444" stroke-width="0.6"/>
<text x="456.80" y="241.20" font-size="7.26" text-anchor="middle" fill="#231f20" stroke="#231f20" stroke-width="0.08" textLength="12.4" lengthAdjust="spacingAndGlyphs">5.52</text>
<line x1="506.95" y1="232.00" x2="506.95" y2="234.00" stroke="#444" stroke-width="0.6"/>
<text x="496.00" y="241.20" font-size="7.26" fill="#231f20" stroke="#231f20" stroke-width="0.08" textLength="19.8" lengthAdjust="spacingAndGlyphs">5.56 Mb</text>
<text x="356.00" y="49.50" font-size="8.5" text-anchor="end" fill="#231f20" stroke="#231f20" stroke-width="0.08" textLength="25.86" lengthAdjust="spacingAndGlyphs">Plasma</text>
<text x="356.00" y="79.60" font-size="8.5" text-anchor="end" fill="#231f20" stroke="#231f20" stroke-width="0.08" textLength="16.46" lengthAdjust="spacingAndGlyphs">T/NK</text>
<text x="356.00" y="110.90" font-size="8.5" text-anchor="end" fill="#231f20" stroke="#231f20" stroke-width="0.08" textLength="26.78" lengthAdjust="spacingAndGlyphs">Myeloid</text>
<text x="356.00" y="143.20" font-size="8.5" text-anchor="end" fill="#231f20" stroke="#231f20" stroke-width="0.08" textLength="33.78" lengthAdjust="spacingAndGlyphs">Malignant</text>
<text x="356.00" y="205.30" font-size="8.5" text-anchor="end" fill="#231f20" stroke="#231f20" stroke-width="0.08" textLength="21.07" lengthAdjust="spacingAndGlyphs">Loops</text>
<text x="337.00" y="166.60" font-size="8.5" text-anchor="middle" fill="#231f20" stroke="#231f20" stroke-width="0.08" textLength="34.85" lengthAdjust="spacingAndGlyphs">HiChIP 1D</text>
<text x="337.00" y="175.00" font-size="8.5" text-anchor="middle" fill="#231f20" stroke="#231f20" stroke-width="0.08" textLength="31.03" lengthAdjust="spacingAndGlyphs">H3K27ac</text>
<text x="337.00" y="183.80" font-size="8.5" text-anchor="middle" fill="#231f20" stroke="#231f20" stroke-width="0.08" textLength="41.82" lengthAdjust="spacingAndGlyphs">Signal (0–1)</text>
<line x1="315.80" y1="31.50" x2="315.80" y2="151.40" stroke="#555" stroke-width="0.7"/>
<text x="312.80" y="90.70" font-size="8.5" text-anchor="middle" fill="#231f20" stroke="#231f20" stroke-width="0.08" textLength="94.7" lengthAdjust="spacingAndGlyphs" transform="rotate(-90 312.80 90.70)">Norm scATAC–seq (0–0.15)</text>
<text x="542.00" y="10.50" font-size="14" fill="#000" font-weight="bold" stroke="#000" stroke-width="0.75">c</text>
<rect x="571.40" y="12.00" width="19.03" height="8.60" fill="#808080"/>
<rect x="590.38" y="12.00" width="29.63" height="8.60" fill="#6eaeac"/>
<rect x="619.97" y="12.00" width="34.93" height="8.60" fill="#6e1410"/>
<rect x="654.84" y="12.00" width="2.26" height="8.60" fill="#ea863c"/>
<rect x="657.05" y="12.00" width="1.37" height="8.60" fill="#3d8a47"/>
<rect x="658.38" y="12.00" width="1.37" height="8.60" fill="#6eaeac"/>
<rect x="571.40" y="22.00" width="7.11" height="8.60" fill="#808080"/>
<rect x="578.46" y="22.00" width="52.15" height="8.60" fill="#6eaeac"/>
<rect x="630.56" y="22.00" width="0.93" height="8.60" fill="#d4a05a"/>
<rect x="631.44" y="22.00" width="24.77" height="8.60" fill="#6e1410"/>
<rect x="656.17" y="22.00" width="0.93" height="8.60" fill="#ea863c"/>
<rect x="657.05" y="22.00" width="2.70" height="8.60" fill="#7b2d8e"/>
<rect x="571.40" y="31.90" width="8.44" height="8.60" fill="#808080"/>
<rect x="579.79" y="31.90" width="45.97" height="8.60" fill="#6eaeac"/>
<rect x="625.70" y="31.90" width="31.40" height="8.60" fill="#6e1410"/>
<rect x="657.05" y="31.90" width="1.82" height="8.60" fill="#ea863c"/>
<rect x="658.82" y="31.90" width="0.93" height="8.60" fill="#6eaeac"/>
<rect x="571.40" y="41.90" width="8.88" height="8.60" fill="#808080"/>
<rect x="580.23" y="41.90" width="42.43" height="8.60" fill="#6eaeac"/>
<rect x="622.61" y="41.90" width="33.60" height="8.60" fill="#6e1410"/>
<rect x="656.17" y="41.90" width="3.58" height="8.60" fill="#ea863c"/>
<rect x="571.40" y="51.60" width="11.53" height="8.60" fill="#808080"/>
<rect x="582.88" y="51.60" width="40.40" height="8.60" fill="#6eaeac"/>
<rect x="623.23" y="51.60" width="33.87" height="8.60" fill="#6e1410"/>
<rect x="657.05" y="51.60" width="2.70" height="8.60" fill="#ea863c"/>
<rect x="571.40" y="61.10" width="2.70" height="8.60" fill="#808080"/>
<rect x="574.05" y="61.10" width="63.63" height="8.60" fill="#6eaeac"/>
<rect x="637.62" y="61.10" width="0.58" height="8.60" fill="#d4a05a"/>
<rect x="638.15" y="61.10" width="19.83" height="8.60" fill="#6e1410"/>
<rect x="657.93" y="61.10" width="0.93" height="8.60" fill="#ea863c"/>
<rect x="658.82" y="61.10" width="0.93" height="8.60" fill="#3d8a47"/>
<rect x="571.40" y="71.30" width="3.58" height="8.60" fill="#808080"/>
<rect x="574.93" y="71.30" width="63.27" height="8.60" fill="#6eaeac"/>
<rect x="638.15" y="71.30" width="1.29" height="8.60" fill="#d4a05a"/>
<rect x="639.39" y="71.30" width="16.83" height="8.60" fill="#6e1410"/>
<rect x="656.17" y="71.30" width="1.82" height="8.60" fill="#ea863c"/>
<rect x="657.93" y="71.30" width="1.82" height="8.60" fill="#3d8a47"/>
<rect x="571.40" y="81.00" width="3.41" height="8.60" fill="#808080"/>
<rect x="574.76" y="81.00" width="49.67" height="8.60" fill="#6eaeac"/>
<rect x="624.38" y="81.00" width="34.93" height="8.60" fill="#6e1410"/>
<rect x="659.26" y="81.00" width="0.49" height="8.60" fill="#d0342c"/>
<rect x="571.40" y="90.90" width="2.35" height="8.60" fill="#808080"/>
<rect x="573.70" y="90.90" width="71.04" height="8.60" fill="#6eaeac"/>
<rect x="644.69" y="90.90" width="1.37" height="8.60" fill="#d4a05a"/>
<rect x="646.01" y="90.90" width="11.09" height="8.60" fill="#6e1410"/>
<rect x="657.05" y="90.90" width="2.70" height="8.60" fill="#d0342c"/>
<rect x="571.40" y="100.40" width="3.94" height="8.60" fill="#808080"/>
<rect x="575.29" y="100.40" width="53.56" height="8.60" fill="#6eaeac"/>
<rect x="628.80" y="100.40" width="27.42" height="8.60" fill="#6e1410"/>
<rect x="656.17" y="100.40" width="3.58" height="8.60" fill="#f5e04a"/>
<rect x="571.40" y="110.00" width="0.93" height="8.60" fill="#808080"/>
<rect x="572.28" y="110.00" width="54.62" height="8.60" fill="#6eaeac"/>
<rect x="626.85" y="110.00" width="32.90" height="8.60" fill="#6e1410"/>
<rect x="571.40" y="120.00" width="71.31" height="8.60" fill="#6eaeac"/>
<rect x="642.66" y="120.00" width="17.09" height="8.60" fill="#6e1410"/>
<rect x="571.40" y="130.20" width="8.88" height="8.60" fill="#808080"/>
<rect x="580.23" y="130.20" width="44.82" height="8.60" fill="#6eaeac"/>
<rect x="625.00" y="130.20" width="32.10" height="8.60" fill="#6e1410"/>
<rect x="657.05" y="130.20" width="2.70" height="8.60" fill="#ea863c"/>
<rect x="571.40" y="140.00" width="2.96" height="8.60" fill="#808080"/>
<rect x="574.31" y="140.00" width="47.47" height="8.60" fill="#6eaeac"/>
<rect x="621.73" y="140.00" width="37.14" height="8.60" fill="#6e1410"/>
<rect x="658.82" y="140.00" width="0.93" height="8.60" fill="#222a6e"/>
<rect x="571.40" y="149.70" width="1.37" height="8.60" fill="#808080"/>
<rect x="572.72" y="149.70" width="64.33" height="8.60" fill="#6eaeac"/>
<rect x="637.01" y="149.70" width="20.98" height="8.60" fill="#6e1410"/>
<rect x="657.93" y="149.70" width="1.82" height="8.60" fill="#ea863c"/>
<rect x="571.40" y="159.70" width="1.82" height="8.60" fill="#808080"/>
<rect x="573.17" y="159.70" width="64.51" height="8.60" fill="#6eaeac"/>
<rect x="637.62" y="159.70" width="20.89" height="8.60" fill="#6e1410"/>
<rect x="658.46" y="159.70" width="1.29" height="8.60" fill="#d0342c"/>
<rect x="567.30" y="10.20" width="96.20" height="159.20" fill="none" stroke="#555" stroke-width="0.7"/>
<line x1="567.30" y1="70.20" x2="663.50" y2="70.20" stroke="#333" stroke-width="0.7"/>
<line x1="567.30" y1="99.90" x2="663.50" y2="99.90" stroke="#999" stroke-width="0.7"/>
<line x1="567.30" y1="129.30" x2="663.50" y2="129.30" stroke="#333" stroke-width="0.7"/>
<line x1="567.30" y1="149.20" x2="663.50" y2="149.20" stroke="#777" stroke-width="0.7"/>
<line x1="567.30" y1="159.20" x2="663.50" y2="159.20" stroke="#999" stroke-width="0.7"/>
<text x="563.50" y="42.40" font-size="8.5" text-anchor="end" fill="#231f20" stroke="#231f20" stroke-width="0.08" textLength="20.07" lengthAdjust="spacingAndGlyphs">BRCA</text>
<text x="563.50" y="86.20" font-size="8.5" text-anchor="end" fill="#231f20" stroke="#231f20" stroke-width="0.08" textLength="19.27" lengthAdjust="spacingAndGlyphs">LUAD</text>
<text x="563.50" y="116.70" font-size="8.5" text-anchor="end" fill="#231f20" stroke="#231f20" stroke-width="0.08" textLength="16.46" lengthAdjust="spacingAndGlyphs">GBM</text>
<text x="563.50" y="140.40" font-size="8.5" text-anchor="end" fill="#231f20" stroke="#231f20" stroke-width="0.08" textLength="20.87" lengthAdjust="spacingAndGlyphs">SKCM</text>
<text x="563.50" y="155.50" font-size="8.5" text-anchor="end" fill="#231f20" stroke="#231f20" stroke-width="0.08" textLength="17.26" lengthAdjust="spacingAndGlyphs">KIRC</text>
<text x="563.50" y="167.60" font-size="8.5" text-anchor="end" fill="#231f20" stroke="#231f20" stroke-width="0.08" textLength="20.87" lengthAdjust="spacingAndGlyphs">COAD</text>
<line x1="571.40" y1="169.40" x2="571.40" y2="171.20" stroke="#555" stroke-width="0.6"/>
<text x="571.40" y="179.60" font-size="7.62" text-anchor="middle" fill="#231f20" stroke="#231f20" stroke-width="0.08" textLength="3.92" lengthAdjust="spacingAndGlyphs">0</text>
<line x1="593.48" y1="169.40" x2="593.48" y2="171.20" stroke="#555" stroke-width="0.6"/>
<text x="593.48" y="179.60" font-size="7.62" text-anchor="middle" fill="#231f20" stroke="#231f20" stroke-width="0.08" textLength="7.84" lengthAdjust="spacingAndGlyphs">25</text>
<line x1="615.55" y1="169.40" x2="615.55" y2="171.20" stroke="#555" stroke-width="0.6"/>
<text x="615.55" y="179.60" font-size="7.62" text-anchor="middle" fill="#231f20" stroke="#231f20" stroke-width="0.08" textLength="7.84" lengthAdjust="spacingAndGlyphs">50</text>
<line x1="637.62" y1="169.40" x2="637.62" y2="171.20" stroke="#555" stroke-width="0.6"/>
<text x="637.62" y="179.60" font-size="7.62" text-anchor="middle" fill="#231f20" stroke="#231f20" stroke-width="0.08" textLength="7.84" lengthAdjust="spacingAndGlyphs">75</text>
<line x1="659.70" y1="169.40" x2="659.70" y2="171.20" stroke="#555" stroke-width="0.6"/>
<text x="659.70" y="179.60" font-size="7.62" text-anchor="middle" fill="#231f20" stroke="#231f20" stroke-width="0.08" textLength="11.76" lengthAdjust="spacingAndGlyphs">100</text>
<text x="615.50" y="190.90" font-size="8.5" text-anchor="middle" fill="#231f20" stroke="#231f20" stroke-width="0.08" textLength="68.5" lengthAdjust="spacingAndGlyphs">Percentage of loops</text>
<text x="529.60" y="206.60" font-size="8.5" fill="#231f20" stroke="#231f20" stroke-width="0.08" textLength="62.5" lengthAdjust="spacingAndGlyphs">Loop classfication</text>
<rect x="529.60" y="210.00" width="7.70" height="7.90" fill="#808080"/>
<text x="542.90" y="216.60" font-size="8.5" fill="#231f20" stroke="#231f20" stroke-width="0.08" textLength="49.05" lengthAdjust="spacingAndGlyphs">Undetermined</text>
<rect x="610.30" y="210.00" width="7.70" height="7.90" fill="#3d8a47"/>
<text x="623.00" y="216.60" font-size="8.5" fill="#231f20" stroke="#231f20" stroke-width="0.08" textLength="16.46" lengthAdjust="spacingAndGlyphs">T/NK</text>
<rect x="529.60" y="222.30" width="7.70" height="7.90" fill="#6eaeac"/>
<text x="542.90" y="228.90" font-size="8.5" fill="#231f20" stroke="#231f20" stroke-width="0.08" textLength="25.01" lengthAdjust="spacingAndGlyphs">Shared</text>
<rect x="610.30" y="222.30" width="7.70" height="7.90" fill="#d0342c"/>
<text x="623.00" y="228.90" font-size="8.5" fill="#231f20" stroke="#231f20" stroke-width="0.08" textLength="39.87" lengthAdjust="spacingAndGlyphs">Plasma cell</text>
<rect x="529.60" y="234.60" width="7.70" height="7.90" fill="#6e1410"/>
<text x="542.90" y="241.20" font-size="8.5" fill="#231f20" stroke="#231f20" stroke-width="0.08" textLength="33.78" lengthAdjust="spacingAndGlyphs">Malignant</text>
<rect x="610.30" y="234.60" width="7.70" height="7.90" fill="#222a6e"/>
<text x="623.00" y="241.20" font-size="8.5" fill="#231f20" stroke="#231f20" stroke-width="0.08" textLength="18.91" lengthAdjust="spacingAndGlyphs">B cell</text>
<rect x="529.60" y="246.90" width="7.70" height="7.90" fill="#d4a05a"/>
<text x="542.90" y="253.50" font-size="8.5" fill="#231f20" stroke="#231f20" stroke-width="0.08" textLength="28.02" lengthAdjust="spacingAndGlyphs">Immune</text>
<rect x="610.30" y="246.90" width="7.70" height="7.90" fill="#7b2d8e"/>
<text x="623.00" y="253.50" font-size="8.5" fill="#231f20" stroke="#231f20" stroke-width="0.08" textLength="26.77" lengthAdjust="spacingAndGlyphs">Stromal</text>
<rect x="529.60" y="259.20" width="7.70" height="7.90" fill="#ea863c"/>
<text x="542.90" y="265.80" font-size="8.5" fill="#231f20" stroke="#231f20" stroke-width="0.08" textLength="26.78" lengthAdjust="spacingAndGlyphs">Myeloid</text>
<rect x="610.30" y="259.20" width="7.70" height="7.90" fill="#f5e04a"/>
<text x="623.00" y="265.80" font-size="8.5" fill="#231f20" stroke="#231f20" stroke-width="0.08" textLength="31.17" lengthAdjust="spacingAndGlyphs">Microglia</text>
<text x="22.40" y="290.00" font-size="14" fill="#000" font-weight="bold" stroke="#000" stroke-width="0.75">d</text>
<text x="54.30" y="290.70" font-size="8.5" fill="#231f20" stroke="#231f20" stroke-width="0.08" textLength="158.7" lengthAdjust="spacingAndGlyphs">Chr9: 4,450,502–6,000,000; 10 kb resolution</text>
<rect x="166.00" y="294.50" width="1.90" height="119.00" fill="#ebebeb"/>
<line x1="52.60" y1="294.50" x2="229.40" y2="294.50" stroke="#555" stroke-width="0.8"/>
<line x1="52.60" y1="334.10" x2="229.40" y2="334.10" stroke="#777" stroke-width="0.8"/>
<line x1="52.60" y1="373.60" x2="229.40" y2="373.60" stroke="#777" stroke-width="0.8"/>
<line x1="52.60" y1="413.20" x2="229.40" y2="413.20" stroke="#333" stroke-width="0.8"/>
<line x1="52.60" y1="294.50" x2="52.60" y2="431.10" stroke="#555" stroke-width="0.8"/>
<line x1="229.40" y1="294.50" x2="229.40" y2="431.10" stroke="#555" stroke-width="0.8"/>
<line x1="52.60" y1="431.10" x2="229.40" y2="431.10" stroke="#555" stroke-width="0.8"/>
<text x="47.30" y="306.20" font-size="7.02" text-anchor="end" fill="#231f20" stroke="#231f20" stroke-width="0.08" textLength="12.64" lengthAdjust="spacingAndGlyphs">0.05</text>
<text x="47.30" y="334.50" font-size="7.02" text-anchor="end" fill="#231f20" stroke="#231f20" stroke-width="0.08" textLength="3.61" lengthAdjust="spacingAndGlyphs">0</text>
<line x1="50.50" y1="304.20" x2="52.60" y2="304.20" stroke="#555" stroke-width="0.6"/>
<line x1="50.50" y1="332.50" x2="52.60" y2="332.50" stroke="#555" stroke-width="0.6"/>
<text x="55.20" y="306.00" font-size="8.5" fill="#231f20" stroke="#231f20" stroke-width="0.08" textLength="78" lengthAdjust="spacingAndGlyphs">TCGA-86-A4P8 (LUAD)</text>
<text x="47.30" y="346.10" font-size="7.02" text-anchor="end" fill="#231f20" stroke="#231f20" stroke-width="0.08" textLength="12.64" lengthAdjust="spacingAndGlyphs">0.05</text>
<text x="47.30" y="374.40" font-size="7.02" text-anchor="end" fill="#231f20" stroke="#231f20" stroke-width="0.08" textLength="3.61" lengthAdjust="spacingAndGlyphs">0</text>
<line x1="50.50" y1="344.10" x2="52.60" y2="344.10" stroke="#555" stroke-width="0.6"/>
<line x1="50.50" y1="372.40" x2="52.60" y2="372.40" stroke="#555" stroke-width="0.6"/>
<text x="55.20" y="345.90" font-size="8.5" fill="#231f20" stroke="#231f20" stroke-width="0.08" textLength="78" lengthAdjust="spacingAndGlyphs">TCGA-BH-A0E0 (BRCA)</text>
<text x="47.30" y="385.80" font-size="7.02" text-anchor="end" fill="#231f20" stroke="#231f20" stroke-width="0.08" textLength="12.64" lengthAdjust="spacingAndGlyphs">0.05</text>
<text x="47.30" y="413.80" font-size="7.02" text-anchor="end" fill="#231f20" stroke="#231f20" stroke-width="0.08" textLength="3.61" lengthAdjust="spacingAndGlyphs">0</text>
<line x1="50.50" y1="383.80" x2="52.60" y2="383.80" stroke="#555" stroke-width="0.6"/>
<line x1="50.50" y1="411.80" x2="52.60" y2="411.80" stroke="#555" stroke-width="0.6"/>
<text x="55.20" y="385.60" font-size="8.5" fill="#231f20" stroke="#231f20" stroke-width="0.08" textLength="78" lengthAdjust="spacingAndGlyphs">TCGA-AA-A01S (COAD)</text>
<text x="26.50" y="362.80" font-size="8.23" text-anchor="middle" fill="#231f20" stroke="#231f20" stroke-width="0.08" textLength="31.46" lengthAdjust="spacingAndGlyphs" transform="rotate(-90 26.50 362.80)">Norm EIS</text>
<clipPath id="cd"><rect x="52.6" y="294.5" width="176.8" height="136.6"/></clipPath>
<g clip-path="url(#cd)">
<path d="M52.70,332.30L57.30,330.80L62.50,330.00L67.80,329.30L72.40,329.10L73.70,324.20L75.00,323.40L77.60,323.80L78.90,329.10L82.20,329.10L84.00,328.60L86.20,328.40L88.00,329.00L90.10,328.40L93.00,328.90L95.40,328.40L98.00,329.30L101.90,329.30L104.00,329.60L107.20,329.70L109.80,327.50L113.00,327.90L116.40,328.40L119.00,330.40L121.00,329.60L123.60,328.40L126.90,330.00L129.00,329.40L132.10,329.30L134.80,323.80L137.40,323.10L140.00,325.10L142.00,328.40L142.60,328.10L146.60,327.20L149.20,328.50L153.10,328.80L157.10,327.50L159.10,324.20L161.00,326.80L162.30,327.70L163.60,322.20L164.70,290.00L169.20,290.00L170.50,317.20L172.20,315.40L173.90,317.60L179.40,322.90L182.70,295.90L189.30,326.80L191.90,327.20L194.00,326.60L196.50,327.50L202.40,330.40L205.00,328.00L208.30,326.40L211.00,327.00L214.20,326.40L217.50,330.10L226.70,330.10L228.70,328.10L229.50,328.00" stroke="#3a5ca8" fill="none" stroke-width="1.0" stroke-linejoin="round"/>
<path d="M52.00,371.50L55.90,370.20L61.20,367.80L69.10,368.20L73.00,369.10L75.70,367.20L79.60,368.50L83.50,369.80L88.10,366.50L90.80,364.50L94.00,365.20L98.00,368.20L100.60,365.80L104.60,366.50L108.50,365.80L112.40,363.90L115.10,367.20L120.30,367.20L123.00,364.30L126.20,368.50L130.20,366.50L132.80,357.30L136.10,355.70L138.10,365.20L140.00,365.60L143.90,363.60L147.90,367.50L150.50,363.60L153.10,364.90L155.80,361.60L158.40,364.90L161.00,359.00L163.00,356.40L164.60,334.20L169.20,334.20L170.50,353.80L172.20,351.80L174.20,356.40L175.70,362.30L177.40,353.80L179.40,355.10L182.30,344.60L184.00,349.80L185.30,359.00L187.30,360.30L189.70,367.90L194.50,363.00L197.80,368.90L200.50,366.00L203.70,364.90L207.00,368.90L209.50,366.50L212.30,364.50L217.50,368.20L220.50,366.80L223.40,366.20L228.00,369.50L229.50,369.00" stroke="#e8303a" fill="none" stroke-width="1.0" stroke-linejoin="round"/>
<path d="M52.70,411.30L60.00,410.90L70.00,411.10L73.00,410.60L74.50,408.70L76.40,408.20L78.00,410.30L80.00,410.90L90.00,410.80L100.00,411.00L110.00,410.70L120.00,411.00L130.00,410.80L140.00,411.20L153.10,410.80L158.40,411.20L161.70,410.10L163.60,402.20L165.60,376.00L166.30,373.80L166.90,374.00L168.20,391.70L169.60,403.50L172.20,403.80L175.50,405.90L178.80,407.20L182.00,404.20L185.30,405.90L188.00,409.40L189.70,411.20L195.20,410.80L199.10,411.20L211.00,410.80L229.50,411.20" stroke="#f08438" fill="none" stroke-width="1.0" stroke-linejoin="round"/>
</g>
<line x1="189.60" y1="295.00" x2="189.60" y2="446.00" stroke="#333" stroke-width="0.8" stroke-dasharray="3,2"/>
<line x1="159.80" y1="374.60" x2="159.80" y2="446.00" stroke="#333" stroke-width="0.8" stroke-dasharray="3,2"/>
<rect x="166.80" y="413.60" width="2.10" height="5.00" fill="#e8303a"/>
<path d="M166,415.4 C166.5,435.5 178.3,435.5 178.8,414.7" stroke="#4a50b0" fill="none" stroke-width="0.9"/>
<text x="153.80" y="424.60" font-size="7.99" text-anchor="end" fill="#e8303a" stroke="#e8303a" stroke-width="0.08" textLength="49" lengthAdjust="spacingAndGlyphs"><tspan font-style="italic">CD274</tspan> (PD-L1)</text>
<line x1="58.90" y1="431.10" x2="58.90" y2="433.20" stroke="#555" stroke-width="0.6"/>
<text x="58.90" y="440.70" font-size="7.62" text-anchor="middle" fill="#231f20" stroke="#231f20" stroke-width="0.08" textLength="9.8" lengthAdjust="spacingAndGlyphs">4.5</text>
<line x1="115.50" y1="431.10" x2="115.50" y2="433.20" stroke="#555" stroke-width="0.6"/>
<text x="115.50" y="440.70" font-size="7.62" text-anchor="middle" fill="#231f20" stroke="#231f20" stroke-width="0.08" textLength="9.8" lengthAdjust="spacingAndGlyphs">5.0</text>
<line x1="172.10" y1="431.10" x2="172.10" y2="433.20" stroke="#555" stroke-width="0.6"/>
<text x="172.10" y="440.70" font-size="7.62" text-anchor="middle" fill="#231f20" stroke="#231f20" stroke-width="0.08" textLength="9.8" lengthAdjust="spacingAndGlyphs">5.5</text>
<line x1="228.70" y1="431.10" x2="228.70" y2="433.20" stroke="#555" stroke-width="0.6"/>
<text x="219.00" y="440.70" font-size="7.62" fill="#231f20" stroke="#231f20" stroke-width="0.08" textLength="20.67" lengthAdjust="spacingAndGlyphs">6.0 Mb</text>
<rect x="231.70" y="294.50" width="48.50" height="118.50" fill="none" stroke="#666" stroke-width="0.8"/>
<text x="255.95" y="290.90" font-size="8.5" text-anchor="middle" fill="#231f20" stroke="#231f20" stroke-width="0.08" textLength="33.31" lengthAdjust="spacingAndGlyphs">Enhancer</text>
<rect x="233.40" y="304.00" width="44.50" height="20.80" fill="#e39c26"/>
<rect x="233.40" y="344.00" width="28.90" height="20.30" fill="#e39c26"/>
<rect x="233.40" y="384.20" width="13.30" height="20.60" fill="#e39c26"/>
<line x1="233.80" y1="413.00" x2="233.80" y2="414.80" stroke="#666" stroke-width="0.6"/>
<line x1="246.60" y1="413.00" x2="246.60" y2="414.80" stroke="#666" stroke-width="0.6"/>
<text x="246.60" y="422.20" font-size="7.62" text-anchor="middle" fill="#231f20" stroke="#231f20" stroke-width="0.08" textLength="3.92" lengthAdjust="spacingAndGlyphs">2</text>
<line x1="259.70" y1="413.00" x2="259.70" y2="414.80" stroke="#666" stroke-width="0.6"/>
<text x="259.70" y="422.20" font-size="7.62" text-anchor="middle" fill="#231f20" stroke="#231f20" stroke-width="0.08" textLength="3.92" lengthAdjust="spacingAndGlyphs">4</text>
<line x1="272.20" y1="413.00" x2="272.20" y2="414.80" stroke="#666" stroke-width="0.6"/>
<text x="272.20" y="422.20" font-size="7.62" text-anchor="middle" fill="#231f20" stroke="#231f20" stroke-width="0.08" textLength="3.92" lengthAdjust="spacingAndGlyphs">6</text>
<text x="255.95" y="432.90" font-size="8.5" text-anchor="middle" fill="#231f20" stroke="#231f20" stroke-width="0.08" textLength="36.44" lengthAdjust="spacingAndGlyphs">Interaction</text>
<text x="255.95" y="441.50" font-size="8.5" text-anchor="middle" fill="#231f20" stroke="#231f20" stroke-width="0.08" textLength="20.54" lengthAdjust="spacingAndGlyphs">signal</text>
<rect x="282.50" y="294.50" width="48.70" height="118.50" fill="none" stroke="#666" stroke-width="0.8"/>
<text x="306.85" y="290.90" font-size="8.5" text-anchor="middle" fill="#231f20" stroke="#231f20" stroke-width="0.08" font-style="italic" textLength="22.49" lengthAdjust="spacingAndGlyphs">CD274</text>
<rect x="285.10" y="304.00" width="43.80" height="20.80" fill="#999999"/>
<rect x="285.10" y="344.00" width="6.60" height="20.30" fill="#999999"/>
<rect x="284.90" y="384.20" width="0.90" height="21.00" fill="#999999"/>
<line x1="285.20" y1="413.00" x2="285.20" y2="414.80" stroke="#666" stroke-width="0.6"/>
<line x1="295.20" y1="413.00" x2="295.20" y2="414.80" stroke="#666" stroke-width="0.6"/>
<text x="295.20" y="423.40" font-size="7.62" text-anchor="middle" fill="#231f20" stroke="#231f20" stroke-width="0.08" textLength="3.92" lengthAdjust="spacingAndGlyphs">1</text>
<line x1="305.20" y1="413.00" x2="305.20" y2="414.80" stroke="#666" stroke-width="0.6"/>
<text x="305.20" y="423.40" font-size="7.62" text-anchor="middle" fill="#231f20" stroke="#231f20" stroke-width="0.08" textLength="3.92" lengthAdjust="spacingAndGlyphs">2</text>
<line x1="315.60" y1="413.00" x2="315.60" y2="414.80" stroke="#666" stroke-width="0.6"/>
<text x="315.60" y="423.40" font-size="7.62" text-anchor="middle" fill="#231f20" stroke="#231f20" stroke-width="0.08" textLength="3.92" lengthAdjust="spacingAndGlyphs">3</text>
<line x1="325.50" y1="413.00" x2="325.50" y2="414.80" stroke="#666" stroke-width="0.6"/>
<text x="325.50" y="423.40" font-size="7.62" text-anchor="middle" fill="#231f20" stroke="#231f20" stroke-width="0.08" textLength="3.92" lengthAdjust="spacingAndGlyphs">4</text>
<text x="306.85" y="432.90" font-size="8.5" text-anchor="middle" fill="#231f20" stroke="#231f20" stroke-width="0.08" textLength="15.25" lengthAdjust="spacingAndGlyphs">RNA</text>
<text x="306.85" y="441.60" font-size="8.5" text-anchor="middle" fill="#231f20" stroke="#231f20" stroke-width="0.08" textLength="38.02" lengthAdjust="spacingAndGlyphs">expression</text>
<text x="306.85" y="450.20" font-size="8.5" text-anchor="middle" fill="#231f20" stroke="#231f20" stroke-width="0.08" textLength="24.88" lengthAdjust="spacingAndGlyphs">(FPKM)</text>
<rect x="334.40" y="294.50" width="48.30" height="118.50" fill="none" stroke="#666" stroke-width="0.8"/>
<text x="358.55" y="290.90" font-size="8.5" text-anchor="middle" fill="#231f20" stroke="#231f20" stroke-width="0.08" textLength="40.77" lengthAdjust="spacingAndGlyphs">Myeloid cell</text>
<rect x="336.90" y="304.90" width="43.10" height="20.60" fill="#56b0e2"/>
<rect x="336.90" y="343.60" width="9.00" height="20.40" fill="#56b0e2"/>
<rect x="336.80" y="384.20" width="1.20" height="20.60" fill="#56b0e2"/>
<line x1="337.00" y1="413.00" x2="337.00" y2="414.80" stroke="#666" stroke-width="0.6"/>
<line x1="348.40" y1="413.00" x2="348.40" y2="414.80" stroke="#666" stroke-width="0.6"/>
<text x="348.40" y="422.20" font-size="7.62" text-anchor="middle" fill="#231f20" stroke="#231f20" stroke-width="0.08" textLength="7.84" lengthAdjust="spacingAndGlyphs">10</text>
<line x1="359.80" y1="413.00" x2="359.80" y2="414.80" stroke="#666" stroke-width="0.6"/>
<text x="359.80" y="422.20" font-size="7.62" text-anchor="middle" fill="#231f20" stroke="#231f20" stroke-width="0.08" textLength="7.84" lengthAdjust="spacingAndGlyphs">20</text>
<line x1="371.00" y1="413.00" x2="371.00" y2="414.80" stroke="#666" stroke-width="0.6"/>
<text x="371.00" y="422.20" font-size="7.62" text-anchor="middle" fill="#231f20" stroke="#231f20" stroke-width="0.08" textLength="7.84" lengthAdjust="spacingAndGlyphs">30</text>
<text x="358.55" y="432.90" font-size="8.5" text-anchor="middle" fill="#231f20" stroke="#231f20" stroke-width="0.08" textLength="39.89" lengthAdjust="spacingAndGlyphs">Percentage</text>
<text x="390.40" y="290.30" font-size="14" fill="#000" font-weight="bold" stroke="#000" stroke-width="0.75">e</text>
<line x1="429.60" y1="290.00" x2="429.60" y2="407.40" stroke="#444" stroke-width="0.7"/>
<line x1="429.60" y1="407.40" x2="545.00" y2="407.40" stroke="#444" stroke-width="0.7"/>
<line x1="427.80" y1="402.30" x2="429.60" y2="402.30" stroke="#444" stroke-width="0.6"/>
<text x="425.50" y="404.40" font-size="7.26" text-anchor="end" fill="#231f20" stroke="#231f20" stroke-width="0.08" textLength="3.73" lengthAdjust="spacingAndGlyphs">0</text>
<line x1="427.80" y1="374.50" x2="429.60" y2="374.50" stroke="#444" stroke-width="0.6"/>
<text x="425.50" y="376.60" font-size="7.26" text-anchor="end" fill="#231f20" stroke="#231f20" stroke-width="0.08" textLength="9.33" lengthAdjust="spacingAndGlyphs">2.5</text>
<line x1="427.80" y1="346.70" x2="429.60" y2="346.70" stroke="#444" stroke-width="0.6"/>
<text x="425.50" y="348.80" font-size="7.26" text-anchor="end" fill="#231f20" stroke="#231f20" stroke-width="0.08" textLength="9.33" lengthAdjust="spacingAndGlyphs">5.0</text>
<line x1="427.80" y1="318.90" x2="429.60" y2="318.90" stroke="#444" stroke-width="0.6"/>
<text x="425.50" y="321.00" font-size="7.26" text-anchor="end" fill="#231f20" stroke="#231f20" stroke-width="0.08" textLength="9.33" lengthAdjust="spacingAndGlyphs">7.5</text>
<line x1="427.80" y1="291.10" x2="429.60" y2="291.10" stroke="#444" stroke-width="0.6"/>
<text x="425.50" y="293.20" font-size="7.26" text-anchor="end" fill="#231f20" stroke="#231f20" stroke-width="0.08" textLength="13.07" lengthAdjust="spacingAndGlyphs">10.0</text>
<line x1="432.40" y1="407.40" x2="432.40" y2="409.20" stroke="#444" stroke-width="0.6"/>
<text x="432.40" y="416.80" font-size="7.26" text-anchor="middle" fill="#231f20" stroke="#231f20" stroke-width="0.08" textLength="3.73" lengthAdjust="spacingAndGlyphs">0</text>
<line x1="454.00" y1="407.40" x2="454.00" y2="409.20" stroke="#444" stroke-width="0.6"/>
<text x="454.00" y="416.80" font-size="7.26" text-anchor="middle" fill="#231f20" stroke="#231f20" stroke-width="0.08" textLength="9.33" lengthAdjust="spacingAndGlyphs">0.5</text>
<line x1="475.60" y1="407.40" x2="475.60" y2="409.20" stroke="#444" stroke-width="0.6"/>
<text x="475.60" y="416.80" font-size="7.26" text-anchor="middle" fill="#231f20" stroke="#231f20" stroke-width="0.08" textLength="9.33" lengthAdjust="spacingAndGlyphs">1.0</text>
<line x1="497.20" y1="407.40" x2="497.20" y2="409.20" stroke="#444" stroke-width="0.6"/>
<text x="497.20" y="416.80" font-size="7.26" text-anchor="middle" fill="#231f20" stroke="#231f20" stroke-width="0.08" textLength="9.33" lengthAdjust="spacingAndGlyphs">1.5</text>
<line x1="518.80" y1="407.40" x2="518.80" y2="409.20" stroke="#444" stroke-width="0.6"/>
<text x="518.80" y="416.80" font-size="7.26" text-anchor="middle" fill="#231f20" stroke="#231f20" stroke-width="0.08" textLength="9.33" lengthAdjust="spacingAndGlyphs">2.0</text>
<line x1="540.40" y1="407.40" x2="540.40" y2="409.20" stroke="#444" stroke-width="0.6"/>
<text x="540.40" y="416.80" font-size="7.26" text-anchor="middle" fill="#231f20" stroke="#231f20" stroke-width="0.08" textLength="9.33" lengthAdjust="spacingAndGlyphs">2.5</text>
<text x="487.40" y="428.20" font-size="8.5" text-anchor="middle" fill="#231f20" stroke="#231f20" stroke-width="0.08" textLength="104" lengthAdjust="spacingAndGlyphs"><tspan font-style="italic">CD274</tspan> RNA expression (FPKM)</text>
<text x="397.80" y="347.20" font-size="8.5" text-anchor="middle" fill="#231f20" stroke="#231f20" stroke-width="0.08" textLength="76.3" lengthAdjust="spacingAndGlyphs" transform="rotate(-90 397.80 347.20)">+140 kb H3K27ac peak/</text>
<text x="405.40" y="348.70" font-size="8.5" text-anchor="middle" fill="#231f20" stroke="#231f20" stroke-width="0.08" textLength="54.7" lengthAdjust="spacingAndGlyphs" transform="rotate(-90 405.40 348.70)">CDD274 TSS EIS</text>
<text x="435.90" y="301.20" font-size="7.02" fill="#231f20" stroke="#231f20" stroke-width="0.08"><tspan font-style="italic">R</tspan> = 0.72</text>
<text x="435.90" y="309.20" font-size="7.02" fill="#231f20" stroke="#231f20" stroke-width="0.08"><tspan font-style="italic">P</tspan> = 2 × 10<tspan font-size="4.4" dy="-2.8">−10</tspan></text>
<circle cx="497.60" cy="296.00" r="2.2" fill="#2d4ea3"/>
<circle cx="540.30" cy="304.70" r="2.2" fill="#3dbb7a"/>
<circle cx="488.10" cy="310.80" r="2.2" fill="#9a2aa0"/>
<circle cx="533.60" cy="318.20" r="2.2" fill="#2d4ea3"/>
<circle cx="530.50" cy="322.80" r="2.2" fill="#0d6b33"/>
<circle cx="504.70" cy="326.80" r="2.2" fill="#2d4ea3"/>
<circle cx="470.00" cy="323.70" r="2.2" fill="#f6d21a"/>
<circle cx="499.80" cy="349.20" r="2.2" fill="#e8202a"/>
<circle cx="473.70" cy="347.70" r="2.2" fill="#9a2aa0"/>
<circle cx="460.80" cy="350.70" r="2.2" fill="#6a4aa8"/>
<circle cx="452.80" cy="348.30" r="2.2" fill="#c070b8"/>
<circle cx="454.30" cy="352.90" r="2.2" fill="#e8202a"/>
<circle cx="453.10" cy="356.60" r="2.2" fill="#e8202a"/>
<circle cx="450.60" cy="357.50" r="2.2" fill="#6a4aa8"/>
<circle cx="447.00" cy="363.60" r="2.2" fill="#1a1f5e"/>
<circle cx="439.30" cy="367.60" r="2.2" fill="#e8202a"/>
<circle cx="453.10" cy="365.80" r="2.2" fill="#e8202a"/>
<circle cx="449.10" cy="366.00" r="2.2" fill="#e8bbd8"/>
<circle cx="453.70" cy="371.00" r="2.2" fill="#e8202a"/>
<circle cx="467.50" cy="370.40" r="2.2" fill="#9b1b23"/>
<circle cx="475.20" cy="370.40" r="2.2" fill="#c070b8"/>
<circle cx="482.00" cy="372.20" r="2.2" fill="#3dbb7a"/>
<circle cx="482.60" cy="379.00" r="2.2" fill="#0d6b33"/>
<circle cx="458.30" cy="373.80" r="2.2" fill="#e8202a"/>
<circle cx="458.90" cy="375.30" r="2.2" fill="#ea6a2a"/>
<circle cx="459.50" cy="377.00" r="2.2" fill="#e8202a"/>
<circle cx="443.90" cy="376.20" r="2.2" fill="#5bb8e8"/>
<circle cx="458.30" cy="378.40" r="2.2" fill="#0d6b33"/>
<circle cx="436.80" cy="379.90" r="2.2" fill="#ea6a2a"/>
<circle cx="437.10" cy="381.40" r="2.2" fill="#5bb8e8"/>
<circle cx="438.40" cy="380.90" r="2.2" fill="#f6d21a"/>
<circle cx="434.70" cy="385.40" r="2.2" fill="#9b1b23"/>
<circle cx="442.00" cy="385.10" r="2.2" fill="#ea6a2a"/>
<circle cx="459.90" cy="382.00" r="2.2" fill="#e8202a"/>
<circle cx="455.20" cy="380.50" r="2.2" fill="#f6d21a"/>
<circle cx="466.90" cy="383.60" r="2.2" fill="#9a2aa0"/>
<circle cx="472.20" cy="383.60" r="2.2" fill="#5bb8e8"/>
<circle cx="466.60" cy="388.20" r="2.2" fill="#e8202a"/>
<circle cx="473.10" cy="387.30" r="2.2" fill="#e8202a"/>
<circle cx="478.90" cy="388.20" r="2.2" fill="#e8202a"/>
<circle cx="455.90" cy="390.40" r="2.2" fill="#e8202a"/>
<circle cx="450.90" cy="390.40" r="2.2" fill="#f6d21a"/>
<circle cx="443.90" cy="391.60" r="2.2" fill="#1a1f5e"/>
<circle cx="441.40" cy="395.30" r="2.2" fill="#e8bbd8"/>
<circle cx="456.80" cy="398.00" r="2.2" fill="#c070b8"/>
<circle cx="438.40" cy="401.70" r="2.2" fill="#e8bbd8"/>
<circle cx="440.20" cy="401.70" r="2.2" fill="#6a4aa8"/>
<circle cx="443.60" cy="401.70" r="2.2" fill="#9b1b23"/>
<circle cx="444.80" cy="401.70" r="2.2" fill="#e8202a"/>
<circle cx="446.00" cy="401.70" r="2.2" fill="#1a1f5e"/>
<circle cx="450.60" cy="401.70" r="2.2" fill="#2d4ea3"/>
<circle cx="477.70" cy="401.70" r="2.2" fill="#3dbb7a"/>
<line x1="434.70" y1="394.30" x2="448.20" y2="383.90" stroke="#3a5aa8" stroke-width="0.9"/>
<line x1="462.30" y1="372.30" x2="476.70" y2="361.20" stroke="#3a5aa8" stroke-width="0.9"/>
<line x1="489.60" y1="350.80" x2="504.00" y2="339.70" stroke="#3a5aa8" stroke-width="0.9"/>
<line x1="517.20" y1="329.30" x2="531.60" y2="318.20" stroke="#3a5aa8" stroke-width="0.9"/>
<text x="416.20" y="440.40" font-size="8.23" fill="#231f20" stroke="#231f20" stroke-width="0.08" textLength="40.71" lengthAdjust="spacingAndGlyphs">Cancer type</text>
<circle cx="417.90" cy="448.00" r="1.9" fill="#e8202a"/>
<text x="422.40" y="450.10" font-size="6.41" fill="#231f20" stroke="#231f20" stroke-width="0.08" textLength="15.14" lengthAdjust="spacingAndGlyphs">BRCA</text>
<circle cx="417.90" cy="455.80" r="1.9" fill="#9b1b23"/>
<text x="422.40" y="457.90" font-size="6.41" fill="#231f20" stroke="#231f20" stroke-width="0.08" textLength="15.74" lengthAdjust="spacingAndGlyphs">SKCM</text>
<circle cx="417.90" cy="463.60" r="1.9" fill="#a87a55"/>
<text x="422.40" y="465.70" font-size="6.41" fill="#231f20" stroke="#231f20" stroke-width="0.08" textLength="12.41" lengthAdjust="spacingAndGlyphs">GBM</text>
<circle cx="455.40" cy="448.00" r="1.9" fill="#ea6a2a"/>
<text x="460.10" y="450.10" font-size="6.41" fill="#231f20" stroke="#231f20" stroke-width="0.08" textLength="15.74" lengthAdjust="spacingAndGlyphs">COAD</text>
<circle cx="455.40" cy="455.80" r="1.9" fill="#f6d21a"/>
<text x="460.10" y="457.90" font-size="6.41" fill="#231f20" stroke="#231f20" stroke-width="0.08" textLength="14.23" lengthAdjust="spacingAndGlyphs">BLCA</text>
<circle cx="455.40" cy="463.60" r="1.9" fill="#0d6b33"/>
<text x="460.10" y="465.70" font-size="6.41" fill="#231f20" stroke="#231f20" stroke-width="0.08" textLength="14.84" lengthAdjust="spacingAndGlyphs">ESCA</text>
<circle cx="492.60" cy="448.00" r="1.9" fill="#3dbb7a"/>
<text x="496.90" y="450.10" font-size="6.41" fill="#231f20" stroke="#231f20" stroke-width="0.08" textLength="14.53" lengthAdjust="spacingAndGlyphs">LUSC</text>
<circle cx="492.60" cy="455.80" r="1.9" fill="#5bb8e8"/>
<text x="496.90" y="457.90" font-size="6.41" fill="#231f20" stroke="#231f20" stroke-width="0.08" textLength="12.41" lengthAdjust="spacingAndGlyphs">LIHC</text>
<circle cx="492.60" cy="463.60" r="1.9" fill="#2d4ea3"/>
<text x="496.90" y="465.70" font-size="6.41" fill="#231f20" stroke="#231f20" stroke-width="0.08" textLength="14.53" lengthAdjust="spacingAndGlyphs">LUAD</text>
<circle cx="530.90" cy="448.00" r="1.9" fill="#1a1f5e"/>
<text x="534.80" y="450.10" font-size="6.41" fill="#231f20" stroke="#231f20" stroke-width="0.08" textLength="15.14" lengthAdjust="spacingAndGlyphs">PRAD</text>
<circle cx="530.90" cy="455.80" r="1.9" fill="#6a4aa8"/>
<text x="534.80" y="457.90" font-size="6.41" fill="#231f20" stroke="#231f20" stroke-width="0.08" textLength="13.02" lengthAdjust="spacingAndGlyphs">KIRC</text>
<circle cx="530.90" cy="463.60" r="1.9" fill="#9a2aa0"/>
<text x="534.80" y="465.70" font-size="6.41" fill="#231f20" stroke="#231f20" stroke-width="0.08" textLength="14.83" lengthAdjust="spacingAndGlyphs">THCA</text>
<circle cx="567.60" cy="448.00" r="1.9" fill="#c070b8"/>
<text x="571.80" y="450.10" font-size="6.41" fill="#231f20" stroke="#231f20" stroke-width="0.08" textLength="14.13" lengthAdjust="spacingAndGlyphs">STAD</text>
<circle cx="567.60" cy="455.80" r="1.9" fill="#e8bbd8"/>
<text x="571.80" y="457.90" font-size="6.41" fill="#231f20" stroke="#231f20" stroke-width="0.08" textLength="15.44" lengthAdjust="spacingAndGlyphs">UCEC</text>
<text x="554.50" y="290.60" font-size="14" fill="#000" font-weight="bold" stroke="#000" stroke-width="0.75">f</text>
<line x1="581.20" y1="294.30" x2="581.20" y2="407.10" stroke="#444" stroke-width="0.7"/>
<line x1="581.20" y1="407.10" x2="680.00" y2="407.10" stroke="#444" stroke-width="0.7"/>
<line x1="579.40" y1="380.10" x2="581.20" y2="380.10" stroke="#444" stroke-width="0.6"/>
<text x="577.50" y="382.20" font-size="7.26" text-anchor="end" fill="#231f20" stroke="#231f20" stroke-width="0.08" textLength="9.33" lengthAdjust="spacingAndGlyphs">0.1</text>
<line x1="579.40" y1="353.20" x2="581.20" y2="353.20" stroke="#444" stroke-width="0.6"/>
<text x="577.50" y="355.30" font-size="7.26" text-anchor="end" fill="#231f20" stroke="#231f20" stroke-width="0.08" textLength="9.33" lengthAdjust="spacingAndGlyphs">0.2</text>
<line x1="579.40" y1="326.30" x2="581.20" y2="326.30" stroke="#444" stroke-width="0.6"/>
<text x="577.50" y="328.40" font-size="7.26" text-anchor="end" fill="#231f20" stroke="#231f20" stroke-width="0.08" textLength="9.33" lengthAdjust="spacingAndGlyphs">0.3</text>
<line x1="579.40" y1="299.40" x2="581.20" y2="299.40" stroke="#444" stroke-width="0.6"/>
<text x="577.50" y="301.50" font-size="7.26" text-anchor="end" fill="#231f20" stroke="#231f20" stroke-width="0.08" textLength="9.33" lengthAdjust="spacingAndGlyphs">0.4</text>
<line x1="585.30" y1="407.10" x2="585.30" y2="408.90" stroke="#444" stroke-width="0.6"/>
<text x="585.30" y="416.50" font-size="7.26" text-anchor="middle" fill="#231f20" stroke="#231f20" stroke-width="0.08" textLength="3.73" lengthAdjust="spacingAndGlyphs">0</text>
<line x1="608.70" y1="407.10" x2="608.70" y2="408.90" stroke="#444" stroke-width="0.6"/>
<text x="608.70" y="416.50" font-size="7.26" text-anchor="middle" fill="#231f20" stroke="#231f20" stroke-width="0.08" textLength="9.33" lengthAdjust="spacingAndGlyphs">2.5</text>
<line x1="632.10" y1="407.10" x2="632.10" y2="408.90" stroke="#444" stroke-width="0.6"/>
<text x="632.10" y="416.50" font-size="7.26" text-anchor="middle" fill="#231f20" stroke="#231f20" stroke-width="0.08" textLength="9.33" lengthAdjust="spacingAndGlyphs">5.0</text>
<line x1="655.50" y1="407.10" x2="655.50" y2="408.90" stroke="#444" stroke-width="0.6"/>
<text x="655.50" y="416.50" font-size="7.26" text-anchor="middle" fill="#231f20" stroke="#231f20" stroke-width="0.08" textLength="9.33" lengthAdjust="spacingAndGlyphs">7.5</text>
<line x1="678.90" y1="407.10" x2="678.90" y2="408.90" stroke="#444" stroke-width="0.6"/>
<text x="678.90" y="416.50" font-size="7.26" text-anchor="middle" fill="#231f20" stroke="#231f20" stroke-width="0.08" textLength="13.07" lengthAdjust="spacingAndGlyphs">10.0</text>
<text x="560.30" y="350.50" font-size="8.47" text-anchor="middle" fill="#231f20" stroke="#231f20" stroke-width="0.08" textLength="62" lengthAdjust="spacingAndGlyphs" transform="rotate(-90 560.30 350.50)">Leukocyte fraction</text>
<text x="630.30" y="427.30" font-size="8.47" text-anchor="middle" fill="#231f20" stroke="#231f20" stroke-width="0.08" textLength="80.3" lengthAdjust="spacingAndGlyphs">+140 kb H3K27ac peak/</text>
<text x="630.40" y="436.00" font-size="8.47" text-anchor="middle" fill="#231f20" stroke="#231f20" stroke-width="0.08" textLength="56.2" lengthAdjust="spacingAndGlyphs"><tspan font-style="italic">CDD274</tspan> TSS EIS</text>
<text x="587.50" y="301.90" font-size="7.02" fill="#231f20" stroke="#231f20" stroke-width="0.08"><tspan font-style="italic">R</tspan> = 0.40</text>
<text x="587.50" y="310.70" font-size="7.02" fill="#231f20" stroke="#231f20" stroke-width="0.08"><tspan font-style="italic">P</tspan> = 8 × 10<tspan font-size="4.4" dy="-2.8">−4</tspan></text>
<circle cx="649.60" cy="299.40" r="2.2" fill="#2d4ea3"/>
<circle cx="656.60" cy="310.00" r="2.2" fill="#2d4ea3"/>
<circle cx="668.20" cy="307.40" r="2.2" fill="#3dbb7a"/>
<circle cx="595.10" cy="317.40" r="2.2" fill="#e8202a"/>
<circle cx="630.00" cy="322.10" r="2.2" fill="#e8202a"/>
<circle cx="610.40" cy="327.60" r="2.2" fill="#3dbb7a"/>
<circle cx="627.20" cy="335.40" r="2.2" fill="#e8202a"/>
<circle cx="596.50" cy="343.60" r="2.2" fill="#e8202a"/>
<circle cx="602.20" cy="346.60" r="2.2" fill="#e8202a"/>
<circle cx="608.00" cy="351.50" r="2.2" fill="#ea6a2a"/>
<circle cx="615.50" cy="351.50" r="2.2" fill="#e8bbd8"/>
<circle cx="585.30" cy="352.10" r="2.2" fill="#2d4ea3"/>
<circle cx="675.40" cy="355.20" r="2.2" fill="#2d4ea3"/>
<circle cx="605.30" cy="360.10" r="2.2" fill="#0d6b33"/>
<circle cx="585.30" cy="366.40" r="2.2" fill="#3dbb7a"/>
<circle cx="597.50" cy="361.70" r="2.2" fill="#e8202a"/>
<circle cx="600.20" cy="363.00" r="2.2" fill="#3dbb7a"/>
<circle cx="603.70" cy="364.80" r="2.2" fill="#f6d21a"/>
<circle cx="597.10" cy="365.80" r="2.2" fill="#e8202a"/>
<circle cx="611.40" cy="367.90" r="2.2" fill="#e8202a"/>
<circle cx="595.10" cy="368.50" r="2.2" fill="#f6d21a"/>
<circle cx="585.30" cy="374.40" r="2.2" fill="#e8202a"/>
<circle cx="596.70" cy="374.20" r="2.2" fill="#a87a55"/>
<circle cx="609.40" cy="376.00" r="2.2" fill="#e8202a"/>
<circle cx="600.60" cy="376.90" r="2.2" fill="#9a2aa0"/>
<circle cx="651.70" cy="366.90" r="2.2" fill="#f6d21a"/>
<circle cx="652.90" cy="379.50" r="2.2" fill="#0d6b33"/>
<circle cx="624.10" cy="379.10" r="2.2" fill="#e8202a"/>
<circle cx="610.40" cy="379.50" r="2.2" fill="#a87a55"/>
<circle cx="585.30" cy="382.20" r="2.2" fill="#1a1f5e"/>
<circle cx="585.30" cy="386.70" r="2.2" fill="#5bb8e8"/>
<circle cx="585.30" cy="391.00" r="2.2" fill="#5bb8e8"/>
<circle cx="588.50" cy="381.60" r="2.2" fill="#c070b8"/>
<circle cx="597.70" cy="382.20" r="2.2" fill="#ea6a2a"/>
<circle cx="602.60" cy="383.20" r="2.2" fill="#f6d21a"/>
<circle cx="606.90" cy="382.20" r="2.2" fill="#5bb8e8"/>
<circle cx="604.70" cy="386.30" r="2.2" fill="#0d6b33"/>
<circle cx="610.00" cy="386.70" r="2.2" fill="#c070b8"/>
<circle cx="615.10" cy="385.50" r="2.2" fill="#a87a55"/>
<circle cx="616.10" cy="383.20" r="2.2" fill="#e8202a"/>
<circle cx="623.30" cy="383.40" r="2.2" fill="#6a4aa8"/>
<circle cx="631.20" cy="383.20" r="2.2" fill="#9a2aa0"/>
<circle cx="599.20" cy="389.70" r="2.2" fill="#9b1b23"/>
<circle cx="604.30" cy="390.40" r="2.2" fill="#9a2aa0"/>
<circle cx="614.10" cy="392.40" r="2.2" fill="#e8202a"/>
<circle cx="618.00" cy="391.00" r="2.2" fill="#1a1f5e"/>
<circle cx="631.70" cy="393.40" r="2.2" fill="#9a2aa0"/>
<circle cx="585.30" cy="395.50" r="2.2" fill="#9b1b23"/>
<circle cx="585.30" cy="398.50" r="2.2" fill="#a87a55"/>
<circle cx="585.30" cy="400.60" r="2.2" fill="#888"/>
<circle cx="585.30" cy="402.00" r="2.2" fill="#888"/>
<circle cx="594.00" cy="396.50" r="2.2" fill="#1a1f5e"/>
<circle cx="596.50" cy="394.90" r="2.2" fill="#a87a55"/>
<circle cx="603.70" cy="397.90" r="2.2" fill="#ea6a2a"/>
<circle cx="602.20" cy="399.10" r="2.2" fill="#888"/>
<circle cx="612.00" cy="396.50" r="2.2" fill="#9b1b23"/>
<circle cx="612.40" cy="398.50" r="2.2" fill="#c070b8"/>
<circle cx="655.80" cy="392.60" r="2.2" fill="#888"/>
<circle cx="663.10" cy="392.00" r="2.2" fill="#9a2aa0"/>
<line x1="584.90" y1="383.80" x2="599.00" y2="377.80" stroke="#8b1a1a" stroke-width="0.9"/>
<line x1="608.00" y1="374.00" x2="618.00" y2="369.70" stroke="#8b1a1a" stroke-width="0.9"/>
<line x1="629.00" y1="365.00" x2="640.00" y2="360.30" stroke="#8b1a1a" stroke-width="0.9"/>
<line x1="650.00" y1="356.00" x2="661.00" y2="351.40" stroke="#8b1a1a" stroke-width="0.9"/>
<line x1="671.00" y1="347.40" x2="675.80" y2="345.40" stroke="#8b1a1a" stroke-width="0.9"/>
<text x="132.30" y="462.30" font-size="8.5" fill="#231f20" stroke="#231f20" stroke-width="0.08" textLength="97.2" lengthAdjust="spacingAndGlyphs">Chr9: 5,439,999–5,565,000</text>
<line x1="159.80" y1="446.00" x2="75.80" y2="464.60" stroke="#333" stroke-width="0.8" stroke-dasharray="5.5,3.5"/>
<line x1="189.30" y1="446.00" x2="330.90" y2="465.50" stroke="#333" stroke-width="0.8" stroke-dasharray="5.5,3.5"/>
<rect x="315.50" y="465.50" width="3.50" height="235.30" fill="#fbd5c2"/>
<line x1="75.30" y1="465.50" x2="330.90" y2="465.50" stroke="#888" stroke-width="0.8"/>
<line x1="75.30" y1="521.20" x2="330.90" y2="521.20" stroke="#666" stroke-width="0.8"/>
<line x1="75.30" y1="465.50" x2="75.30" y2="510.50" stroke="#444" stroke-width="0.8"/>
<line x1="75.30" y1="521.20" x2="75.30" y2="738.50" stroke="#444" stroke-width="0.8"/>
<line x1="330.90" y1="465.50" x2="330.90" y2="510.50" stroke="#777" stroke-width="0.7"/>
<line x1="330.90" y1="521.20" x2="330.90" y2="738.50" stroke="#777" stroke-width="0.7"/>
<path d="M75.3,488.3V487.0H76.0V485.5H77.0V486.6H78.0V486.6H79.0V477.7H80.0V476.6H81.0V487.4H82.0V477.0H83.0V476.6H84.0V486.9H85.0V487.4H86.0V480.1H87.0V483.1H88.0V486.7H89.0V486.9H90.0V485.6H91.0V486.4H92.0V487.1H93.0V487.3H94.0V479.9H95.0V487.2H96.0V472.3H97.0V470.3H98.0V478.2H99.0V479.3H100.0V479.9H101.0V485.3H102.0V485.3H103.0V484.8H104.0V485.9H105.0V487.2H106.0V483.9H107.0V483.9H108.0V486.9H109.0V486.1H110.0V485.5H111.0V485.3H112.0V485.6H113.0V487.6H114.0V477.8H115.0V481.1H116.0V487.0H117.0V487.5H118.0V487.6H119.0V487.4H120.0V487.0H121.0V486.8H122.0V485.7H123.0V486.9H124.0V487.2H125.0V479.2H126.0V479.9H127.0V487.1H128.0V486.7H129.0V483.3H130.0V481.8H131.0V486.9H132.0V486.9H133.0V487.6H134.0V487.5H135.0V487.6H136.0V487.3H137.0V486.6H138.0V486.7H139.0V486.7H140.0V487.5H141.0V486.9H142.0V486.8H143.0V480.7H144.0V480.7H145.0V487.5H146.0V487.4H147.0V486.8H148.0V486.8H149.0V486.7H150.0V487.2H151.0V486.7H152.0V487.5H153.0V480.2H154.0V480.4H155.0V487.3H156.0V487.6H157.0V487.0H158.0V486.9H159.0V484.0H160.0V484.7H161.0V484.2H162.0V485.5H163.0V486.9H164.0V485.2H165.0V486.6H166.0V486.7H167.0V486.9H168.0V485.1H169.0V485.3H170.0V486.5H171.0V486.9H172.0V482.6H173.0V482.0H174.0V484.3H175.0V487.0H176.0V486.7H177.0V469.0H178.0V467.9H179.0V486.8H180.0V487.4H181.0V483.6H182.0V482.6H183.0V482.9H184.0V477.6H185.0V469.6H186.0V463.4H187.0V487.3H188.0V486.9H189.0V486.7H190.0V485.2H191.0V485.7H192.0V485.5H193.0V487.6H194.0V487.5H195.0V487.5H196.0V487.3H197.0V485.2H198.0V485.1H199.0V484.7H200.0V484.7H201.0V486.9H202.0V487.2H203.0V486.9H204.0V487.0H205.0V487.5H206.0V487.1H207.0V487.3H208.0V486.9H209.0V486.8H210.0V487.4H211.0V487.2H212.0V487.1H213.0V487.3H214.0V487.6H215.0V485.7H216.0V484.2H217.0V484.6H218.0V474.9H219.0V473.4H220.0V484.2H221.0V483.2H222.0V482.7H223.0V483.1H224.0V483.8H225.0V482.6H226.0V486.6H227.0V487.6H228.0V487.2H229.0V487.2H230.0V484.2H231.0V483.4H232.0V487.5H233.0V486.8H234.0V476.6H235.0V480.6H236.0V486.9H237.0V487.4H238.0V487.0H239.0V486.9H240.0V486.6H241.0V484.5H242.0V485.3H243.0V486.9H244.0V487.5H245.0V486.9H246.0V487.2H247.0V487.4H248.0V487.4H249.0V487.4H250.0V486.8H251.0V485.7H252.0V485.4H253.0V487.4H254.0V487.5H255.0V486.9H256.0V487.0H257.0V485.8H258.0V485.3H259.0V486.2H260.0V487.6H261.0V487.4H262.0V482.8H263.0V482.2H264.0V486.6H265.0V487.1H266.0V487.4H267.0V487.0H268.0V486.6H269.0V485.3H270.0V484.3H271.0V486.7H272.0V476.3H273.0V476.8H274.0V487.5H275.0V487.5H276.0V487.6H277.0V487.0H278.0V486.9H279.0V486.6H280.0V487.0H281.0V486.6H282.0V487.2H283.0V487.5H284.0V487.6H285.0V487.3H286.0V487.1H287.0V484.2H288.0V485.3H289.0V485.4H290.0V486.9H291.0V487.2H292.0V487.0H293.0V487.5H294.0V486.7H295.0V486.6H296.0V486.8H297.0V486.6H298.0V487.3H299.0V484.8H300.0V484.1H301.0V486.7H302.0V487.1H303.0V487.4H304.0V487.5H305.0V487.5H306.0V487.2H307.0V486.6H308.0V486.7H309.0V486.8H310.0V486.8H311.0V487.4H312.0V486.8H313.0V482.6H314.0V485.7H315.0V486.8H316.0V484.9H317.0V471.7H318.0V485.2H319.0V485.1H320.0V485.1H321.0V474.2H322.0V476.2H323.0V485.0H324.0V484.7H325.0V485.4H326.0V479.4H327.0V479.8H328.0V486.7H329.0V485.3H330.0V486.7H330.9V488.3Z" stroke="none" fill="#f0882c" stroke-width="0.8"/>
<line x1="75.30" y1="488.30" x2="330.90" y2="488.30" stroke="#8a4a12" stroke-width="1.3"/>
<path d="M75.3,510.6V509.8H76.0V509.3H77.0V509.8H78.0V509.1H79.0V505.8H80.0V506.3H81.0V509.3H82.0V509.3H83.0V509.9H84.0V509.4H85.0V509.3H86.0V509.4H87.0V508.9H88.0V509.1H89.0V509.5H90.0V509.7H91.0V509.8H92.0V509.0H93.0V509.2H94.0V504.4H95.0V504.9H96.0V491.9H97.0V494.5H98.0V506.6H99.0V507.4H100.0V506.5H101.0V506.4H102.0V509.2H103.0V509.7H104.0V509.9H105.0V509.6H106.0V509.2H107.0V509.4H108.0V509.1H109.0V509.5H110.0V509.5H111.0V508.9H112.0V509.8H113.0V509.8H114.0V509.3H115.0V509.2H116.0V509.5H117.0V509.3H118.0V509.5H119.0V509.2H120.0V508.9H121.0V509.0H122.0V509.2H123.0V509.4H124.0V508.9H125.0V509.5H126.0V505.7H127.0V505.2H128.0V505.6H129.0V509.5H130.0V509.1H131.0V509.3H132.0V508.9H133.0V509.3H134.0V509.4H135.0V508.8H136.0V509.4H137.0V509.5H138.0V506.9H139.0V506.8H140.0V509.8H141.0V509.9H142.0V509.0H143.0V508.9H144.0V509.5H145.0V509.7H146.0V507.5H147.0V508.9H148.0V509.7H149.0V509.5H150.0V509.2H151.0V509.7H152.0V509.5H153.0V509.8H154.0V509.4H155.0V509.7H156.0V509.9H157.0V509.5H158.0V509.8H159.0V509.9H160.0V509.8H161.0V509.5H162.0V509.6H163.0V509.1H164.0V509.5H165.0V509.7H166.0V509.8H167.0V509.6H168.0V509.1H169.0V509.8H170.0V509.4H171.0V509.0H172.0V509.0H173.0V509.4H174.0V509.0H175.0V509.2H176.0V508.7H177.0V509.1H178.0V508.9H179.0V509.1H180.0V509.5H181.0V509.0H182.0V508.8H183.0V508.9H184.0V503.1H185.0V504.9H186.0V503.8H187.0V509.7H188.0V509.2H189.0V509.2H190.0V508.9H191.0V509.2H192.0V508.8H193.0V509.2H194.0V509.4H195.0V509.0H196.0V509.7H197.0V505.4H198.0V505.5H199.0V505.2H200.0V509.9H201.0V509.8H202.0V508.9H203.0V509.8H204.0V509.5H205.0V509.3H206.0V509.4H207.0V508.9H208.0V508.9H209.0V509.6H210.0V509.8H211.0V508.9H212.0V506.1H213.0V506.6H214.0V506.8H215.0V510.0H216.0V506.5H217.0V507.1H218.0V506.6H219.0V497.0H220.0V499.5H221.0V508.9H222.0V509.9H223.0V506.9H224.0V506.9H225.0V506.5H226.0V508.1H227.0V509.4H228.0V509.3H229.0V509.3H230.0V509.4H231.0V509.7H232.0V508.9H233.0V507.0H234.0V507.5H235.0V506.8H236.0V507.9H237.0V509.1H238.0V509.2H239.0V509.9H240.0V509.1H241.0V509.2H242.0V509.8H243.0V509.8H244.0V509.9H245.0V509.8H246.0V508.8H247.0V509.7H248.0V508.9H249.0V509.8H250.0V509.6H251.0V508.3H252.0V508.5H253.0V508.8H254.0V509.7H255.0V509.4H256.0V509.8H257.0V509.9H258.0V506.0H259.0V506.7H260.0V509.4H261.0V509.2H262.0V509.9H263.0V509.9H264.0V509.2H265.0V508.8H266.0V510.0H267.0V509.5H268.0V508.8H269.0V509.0H270.0V508.8H271.0V509.4H272.0V508.8H273.0V507.1H274.0V509.4H275.0V509.0H276.0V509.5H277.0V509.5H278.0V509.5H279.0V509.5H280.0V509.0H281.0V508.8H282.0V509.7H283.0V509.6H284.0V507.5H285.0V507.6H286.0V509.0H287.0V509.2H288.0V508.9H289.0V509.0H290.0V509.2H291.0V509.7H292.0V509.9H293.0V509.0H294.0V509.0H295.0V508.9H296.0V509.7H297.0V509.1H298.0V508.9H299.0V507.8H300.0V508.1H301.0V509.8H302.0V509.7H303.0V509.2H304.0V509.0H305.0V509.0H306.0V509.2H307.0V508.8H308.0V508.8H309.0V509.5H310.0V508.9H311.0V509.1H312.0V509.7H313.0V509.3H314.0V509.8H315.0V509.5H316.0V509.0H317.0V505.6H318.0V509.4H319.0V509.5H320.0V509.7H321.0V508.0H322.0V507.3H323.0V509.6H324.0V509.9H325.0V509.5H326.0V505.6H327.0V507.0H328.0V509.1H329.0V509.9H330.0V509.4H330.9V510.6Z" stroke="none" fill="#7c7c7c" stroke-width="0.8"/>
<line x1="75.30" y1="510.60" x2="330.90" y2="510.60" stroke="#555" stroke-width="1.1"/>
<path d="M75.3,543.4V543.0H76.0V541.4H77.0V540.7H78.0V542.9H79.0V534.7H80.0V536.9H81.0V543.0H82.0V542.7H83.0V542.9H84.0V543.0H85.0V542.8H86.0V542.6H87.0V542.9H88.0V539.4H89.0V540.3H90.0V542.4H91.0V542.7H92.0V543.0H93.0V542.7H94.0V537.3H95.0V525.1H96.0V523.7H97.0V528.5H98.0V541.4H99.0V541.4H100.0V541.0H101.0V540.6H102.0V542.7H103.0V542.3H104.0V542.9H105.0V542.8H106.0V542.4H107.0V542.3H108.0V542.3H109.0V542.9H110.0V542.6H111.0V542.8H112.0V542.4H113.0V542.5H114.0V541.5H115.0V541.3H116.0V542.2H117.0V542.6H118.0V542.2H119.0V542.8H120.0V542.3H121.0V542.9H122.0V542.4H123.0V542.3H124.0V542.6H125.0V542.7H126.0V542.3H127.0V541.2H128.0V541.4H129.0V542.7H130.0V542.6H131.0V543.0H132.0V542.6H133.0V542.8H134.0V542.4H135.0V543.0H136.0V542.6H137.0V542.9H138.0V542.7H139.0V542.2H140.0V541.5H141.0V541.7H142.0V542.7H143.0V543.0H144.0V543.0H145.0V542.6H146.0V542.2H147.0V542.4H148.0V542.9H149.0V542.2H150.0V542.8H151.0V543.0H152.0V542.6H153.0V542.6H154.0V543.0H155.0V542.2H156.0V542.8H157.0V542.7H158.0V543.0H159.0V543.0H160.0V542.2H161.0V542.2H162.0V542.5H163.0V543.0H164.0V542.9H165.0V542.9H166.0V543.0H167.0V542.3H168.0V542.6H169.0V543.0H170.0V542.8H171.0V542.6H172.0V542.6H173.0V542.6H174.0V542.9H175.0V542.3H176.0V543.0H177.0V542.7H178.0V542.4H179.0V542.9H180.0V543.0H181.0V542.2H182.0V542.4H183.0V542.9H184.0V542.5H185.0V543.0H186.0V542.3H187.0V543.0H188.0V542.9H189.0V542.8H190.0V542.5H191.0V542.3H192.0V542.8H193.0V542.4H194.0V542.7H195.0V542.6H196.0V542.4H197.0V542.8H198.0V542.4H199.0V542.7H200.0V542.5H201.0V541.8H202.0V542.6H203.0V543.0H204.0V542.2H205.0V542.4H206.0V542.6H207.0V542.3H208.0V542.4H209.0V543.0H210.0V543.0H211.0V542.6H212.0V542.7H213.0V542.4H214.0V542.9H215.0V542.9H216.0V542.7H217.0V542.2H218.0V543.0H219.0V542.2H220.0V542.5H221.0V542.7H222.0V543.0H223.0V542.7H224.0V542.7H225.0V543.0H226.0V542.7H227.0V542.2H228.0V542.2H229.0V542.4H230.0V542.7H231.0V542.3H232.0V543.0H233.0V542.4H234.0V542.4H235.0V542.9H236.0V542.7H237.0V542.7H238.0V542.3H239.0V542.5H240.0V542.8H241.0V542.3H242.0V542.6H243.0V542.4H244.0V542.7H245.0V542.7H246.0V542.7H247.0V542.9H248.0V542.4H249.0V542.5H250.0V542.7H251.0V542.5H252.0V542.4H253.0V542.2H254.0V542.9H255.0V543.0H256.0V542.3H257.0V542.2H258.0V542.4H259.0V542.6H260.0V542.2H261.0V542.3H262.0V543.0H263.0V542.4H264.0V542.3H265.0V542.8H266.0V542.3H267.0V542.2H268.0V542.6H269.0V542.7H270.0V542.5H271.0V542.3H272.0V542.5H273.0V542.2H274.0V542.6H275.0V542.8H276.0V542.9H277.0V542.4H278.0V542.6H279.0V542.5H280.0V542.2H281.0V542.3H282.0V542.4H283.0V542.5H284.0V542.8H285.0V542.6H286.0V542.8H287.0V542.6H288.0V542.2H289.0V542.5H290.0V542.3H291.0V542.5H292.0V542.7H293.0V542.3H294.0V542.5H295.0V542.7H296.0V542.7H297.0V542.4H298.0V542.3H299.0V543.0H300.0V542.6H301.0V541.8H302.0V542.8H303.0V542.9H304.0V542.3H305.0V542.5H306.0V542.9H307.0V542.2H308.0V542.7H309.0V543.0H310.0V543.0H311.0V542.9H312.0V542.3H313.0V542.5H314.0V542.4H315.0V542.5H316.0V542.4H317.0V542.8H318.0V542.7H319.0V542.6H320.0V542.4H321.0V542.7H322.0V542.4H323.0V542.8H324.0V542.6H325.0V542.6H326.0V542.0H327.0V542.0H328.0V542.5H329.0V542.9H330.0V542.6H330.9V543.4Z" stroke="none" fill="#f2d51a" stroke-width="0.8"/>
<line x1="75.30" y1="543.40" x2="330.90" y2="543.40" stroke="#a89a1a" stroke-width="1.1"/>
<path d="M75.3,566.0V562.7H76.0V562.2H77.0V565.6H78.0V565.3H79.0V557.9H80.0V558.1H81.0V565.1H82.0V564.8H83.0V565.1H84.0V564.7H85.0V565.0H86.0V565.5H87.0V565.0H88.0V565.1H89.0V565.1H90.0V564.3H91.0V563.8H92.0V564.3H93.0V565.3H94.0V562.8H95.0V562.7H96.0V550.0H97.0V544.6H98.0V564.9H99.0V565.6H100.0V565.0H101.0V565.5H102.0V565.0H103.0V565.2H104.0V565.1H105.0V564.8H106.0V564.8H107.0V564.9H108.0V565.3H109.0V565.5H110.0V565.0H111.0V565.1H112.0V563.6H113.0V563.6H114.0V564.3H115.0V565.2H116.0V564.9H117.0V565.2H118.0V564.6H119.0V565.6H120.0V565.2H121.0V564.8H122.0V564.7H123.0V565.1H124.0V565.3H125.0V565.0H126.0V565.3H127.0V564.9H128.0V565.3H129.0V565.4H130.0V565.0H131.0V564.8H132.0V565.1H133.0V565.0H134.0V565.0H135.0V565.1H136.0V565.6H137.0V565.2H138.0V564.7H139.0V565.1H140.0V564.8H141.0V564.6H142.0V565.6H143.0V564.9H144.0V565.1H145.0V565.6H146.0V565.4H147.0V565.1H148.0V565.1H149.0V564.7H150.0V565.2H151.0V563.7H152.0V564.1H153.0V564.7H154.0V564.6H155.0V565.4H156.0V564.8H157.0V565.5H158.0V565.3H159.0V564.7H160.0V565.2H161.0V565.6H162.0V565.6H163.0V564.6H164.0V564.7H165.0V564.6H166.0V565.3H167.0V565.3H168.0V564.9H169.0V565.5H170.0V565.0H171.0V565.4H172.0V565.4H173.0V564.8H174.0V565.4H175.0V564.6H176.0V564.9H177.0V565.0H178.0V565.0H179.0V565.4H180.0V564.6H181.0V565.6H182.0V564.7H183.0V565.1H184.0V565.0H185.0V565.1H186.0V565.2H187.0V565.4H188.0V565.2H189.0V565.0H190.0V565.3H191.0V564.8H192.0V564.9H193.0V565.6H194.0V565.5H195.0V564.8H196.0V565.1H197.0V565.5H198.0V565.1H199.0V565.1H200.0V563.8H201.0V564.2H202.0V564.7H203.0V565.6H204.0V564.7H205.0V564.9H206.0V565.2H207.0V565.5H208.0V565.5H209.0V564.9H210.0V564.9H211.0V565.1H212.0V565.5H213.0V565.5H214.0V565.1H215.0V565.5H216.0V565.3H217.0V565.6H218.0V565.4H219.0V565.0H220.0V564.8H221.0V565.6H222.0V565.3H223.0V565.3H224.0V565.4H225.0V565.2H226.0V565.6H227.0V565.4H228.0V565.3H229.0V564.7H230.0V565.3H231.0V564.9H232.0V564.8H233.0V564.9H234.0V565.2H235.0V565.3H236.0V565.1H237.0V565.2H238.0V564.6H239.0V564.5H240.0V565.5H241.0V565.0H242.0V565.2H243.0V565.5H244.0V565.3H245.0V565.5H246.0V565.1H247.0V565.1H248.0V564.6H249.0V565.4H250.0V565.0H251.0V564.8H252.0V565.4H253.0V565.1H254.0V565.0H255.0V565.5H256.0V565.2H257.0V564.7H258.0V564.7H259.0V564.7H260.0V565.6H261.0V564.9H262.0V564.9H263.0V565.3H264.0V565.4H265.0V564.9H266.0V565.3H267.0V564.7H268.0V565.3H269.0V564.7H270.0V564.9H271.0V565.2H272.0V564.9H273.0V564.7H274.0V564.9H275.0V565.3H276.0V565.5H277.0V565.0H278.0V564.8H279.0V565.0H280.0V565.4H281.0V564.9H282.0V564.9H283.0V565.2H284.0V564.9H285.0V564.9H286.0V564.6H287.0V565.6H288.0V564.7H289.0V564.9H290.0V565.5H291.0V565.4H292.0V565.2H293.0V565.0H294.0V565.0H295.0V565.2H296.0V564.7H297.0V565.1H298.0V565.0H299.0V564.9H300.0V564.8H301.0V565.4H302.0V565.5H303.0V565.1H304.0V564.8H305.0V564.7H306.0V565.1H307.0V565.4H308.0V565.0H309.0V564.8H310.0V564.9H311.0V565.4H312.0V565.5H313.0V565.1H314.0V564.3H315.0V564.2H316.0V564.9H317.0V564.8H318.0V565.0H319.0V564.7H320.0V564.9H321.0V565.4H322.0V565.2H323.0V565.3H324.0V564.6H325.0V565.2H326.0V560.3H327.0V558.5H328.0V564.6H329.0V565.2H330.0V565.3H330.9V566.0Z" stroke="none" fill="#e02a34" stroke-width="0.8"/>
<line x1="75.30" y1="566.00" x2="330.90" y2="566.00" stroke="#b01c26" stroke-width="1.1"/>
<path d="M75.3,588.3V587.1H76.0V587.3H77.0V587.5H78.0V587.7H79.0V581.1H80.0V580.2H81.0V587.5H82.0V587.1H83.0V587.9H84.0V587.4H85.0V587.7H86.0V587.4H87.0V587.3H88.0V584.4H89.0V587.4H90.0V587.0H91.0V587.6H92.0V587.8H93.0V587.4H94.0V587.2H95.0V566.2H96.0V572.9H97.0V570.8H98.0V587.6H99.0V587.4H100.0V587.0H101.0V587.6H102.0V587.8H103.0V587.0H104.0V587.0H105.0V587.1H106.0V587.9H107.0V587.6H108.0V587.7H109.0V587.0H110.0V587.8H111.0V587.8H112.0V587.7H113.0V587.1H114.0V587.7H115.0V586.9H116.0V587.6H117.0V587.3H118.0V587.7H119.0V587.6H120.0V587.0H121.0V586.9H122.0V587.7H123.0V587.5H124.0V586.7H125.0V586.6H126.0V587.5H127.0V587.4H128.0V587.3H129.0V587.5H130.0V587.7H131.0V587.3H132.0V587.5H133.0V587.6H134.0V586.9H135.0V587.3H136.0V587.9H137.0V586.9H138.0V586.9H139.0V587.5H140.0V586.9H141.0V587.8H142.0V587.0H143.0V587.7H144.0V587.0H145.0V587.2H146.0V586.9H147.0V587.6H148.0V587.2H149.0V587.0H150.0V587.8H151.0V587.7H152.0V587.3H153.0V587.8H154.0V587.8H155.0V587.9H156.0V587.6H157.0V587.3H158.0V587.4H159.0V587.3H160.0V587.9H161.0V587.8H162.0V587.3H163.0V587.7H164.0V587.9H165.0V587.8H166.0V587.2H167.0V586.9H168.0V587.4H169.0V587.9H170.0V587.7H171.0V587.2H172.0V587.1H173.0V587.7H174.0V587.4H175.0V587.4H176.0V586.4H177.0V587.1H178.0V587.4H179.0V587.1H180.0V587.7H181.0V587.2H182.0V587.4H183.0V587.3H184.0V587.8H185.0V587.4H186.0V587.3H187.0V587.7H188.0V587.3H189.0V587.9H190.0V587.5H191.0V587.0H192.0V587.3H193.0V587.4H194.0V587.0H195.0V587.2H196.0V587.4H197.0V587.5H198.0V587.0H199.0V587.3H200.0V587.4H201.0V587.5H202.0V587.7H203.0V587.7H204.0V587.3H205.0V586.4H206.0V586.0H207.0V587.5H208.0V587.5H209.0V587.3H210.0V587.6H211.0V586.9H212.0V587.3H213.0V587.6H214.0V587.4H215.0V587.1H216.0V587.0H217.0V587.2H218.0V587.0H219.0V587.1H220.0V587.5H221.0V587.5H222.0V587.4H223.0V587.8H224.0V587.3H225.0V587.3H226.0V587.1H227.0V587.6H228.0V586.9H229.0V587.2H230.0V587.3H231.0V587.7H232.0V587.0H233.0V587.2H234.0V587.3H235.0V587.7H236.0V587.7H237.0V587.7H238.0V587.0H239.0V587.5H240.0V587.2H241.0V587.2H242.0V587.1H243.0V587.6H244.0V587.7H245.0V586.9H246.0V587.8H247.0V586.9H248.0V587.5H249.0V587.9H250.0V587.6H251.0V587.1H252.0V587.5H253.0V587.8H254.0V587.8H255.0V587.8H256.0V587.3H257.0V587.5H258.0V587.2H259.0V587.8H260.0V587.6H261.0V587.3H262.0V587.6H263.0V587.2H264.0V587.6H265.0V587.2H266.0V587.2H267.0V587.5H268.0V587.2H269.0V587.6H270.0V587.0H271.0V587.2H272.0V587.6H273.0V587.1H274.0V587.3H275.0V587.0H276.0V587.2H277.0V587.0H278.0V587.4H279.0V587.6H280.0V587.2H281.0V587.0H282.0V587.4H283.0V587.2H284.0V587.3H285.0V587.6H286.0V587.7H287.0V587.3H288.0V587.7H289.0V587.5H290.0V587.1H291.0V587.5H292.0V587.5H293.0V586.9H294.0V587.3H295.0V587.4H296.0V587.7H297.0V587.2H298.0V587.5H299.0V583.2H300.0V587.0H301.0V587.1H302.0V587.7H303.0V587.0H304.0V587.2H305.0V587.7H306.0V587.9H307.0V587.6H308.0V587.3H309.0V587.4H310.0V587.9H311.0V587.0H312.0V587.8H313.0V587.1H314.0V587.4H315.0V587.1H316.0V587.1H317.0V586.1H318.0V586.7H319.0V587.4H320.0V587.7H321.0V587.6H322.0V587.9H323.0V587.5H324.0V587.0H325.0V587.2H326.0V587.8H327.0V587.6H328.0V587.5H329.0V587.4H330.0V587.4H330.9V588.3Z" stroke="none" fill="#ec6e2a" stroke-width="0.8"/>
<line x1="75.30" y1="588.30" x2="330.90" y2="588.30" stroke="#c0521c" stroke-width="1.1"/>
<path d="M75.3,611.0V610.5H76.0V608.7H77.0V610.0H78.0V610.4H79.0V606.6H80.0V606.9H81.0V609.8H82.0V610.0H83.0V609.9H84.0V609.8H85.0V610.3H86.0V610.5H87.0V609.7H88.0V610.5H89.0V610.0H90.0V609.6H91.0V610.2H92.0V610.3H93.0V610.2H94.0V610.4H95.0V599.2H96.0V601.6H97.0V602.7H98.0V610.0H99.0V610.3H100.0V610.4H101.0V610.6H102.0V609.8H103.0V610.2H104.0V610.0H105.0V608.0H106.0V607.4H107.0V610.5H108.0V610.0H109.0V609.8H110.0V610.3H111.0V610.2H112.0V610.3H113.0V610.3H114.0V606.2H115.0V607.6H116.0V609.9H117.0V610.6H118.0V609.8H119.0V610.5H120.0V609.8H121.0V610.5H122.0V610.4H123.0V610.3H124.0V609.0H125.0V608.4H126.0V610.1H127.0V610.5H128.0V610.4H129.0V610.2H130.0V609.9H131.0V610.0H132.0V610.1H133.0V609.8H134.0V609.7H135.0V609.7H136.0V609.6H137.0V609.7H138.0V609.6H139.0V609.9H140.0V609.9H141.0V610.0H142.0V610.2H143.0V609.8H144.0V610.2H145.0V609.7H146.0V610.2H147.0V610.6H148.0V609.8H149.0V610.1H150.0V610.6H151.0V609.8H152.0V609.8H153.0V609.7H154.0V610.1H155.0V610.4H156.0V610.4H157.0V610.1H158.0V609.9H159.0V610.0H160.0V610.4H161.0V610.4H162.0V609.6H163.0V609.6H164.0V609.7H165.0V610.1H166.0V610.5H167.0V610.4H168.0V610.0H169.0V609.7H170.0V609.9H171.0V610.5H172.0V609.7H173.0V610.0H174.0V608.6H175.0V608.2H176.0V608.6H177.0V610.1H178.0V610.6H179.0V610.5H180.0V609.7H181.0V610.2H182.0V609.8H183.0V610.2H184.0V610.2H185.0V610.5H186.0V609.7H187.0V610.3H188.0V609.8H189.0V610.4H190.0V610.3H191.0V610.5H192.0V609.9H193.0V609.7H194.0V610.0H195.0V610.0H196.0V610.3H197.0V609.7H198.0V610.5H199.0V610.3H200.0V610.0H201.0V610.0H202.0V610.3H203.0V610.0H204.0V610.5H205.0V610.5H206.0V610.2H207.0V610.0H208.0V609.7H209.0V610.1H210.0V609.7H211.0V609.8H212.0V609.6H213.0V609.9H214.0V610.2H215.0V610.0H216.0V609.9H217.0V605.4H218.0V605.6H219.0V605.2H220.0V610.1H221.0V610.5H222.0V610.2H223.0V610.5H224.0V609.7H225.0V610.1H226.0V610.0H227.0V610.5H228.0V610.1H229.0V609.6H230.0V609.8H231.0V609.7H232.0V610.4H233.0V609.7H234.0V609.8H235.0V610.2H236.0V610.3H237.0V609.7H238.0V610.3H239.0V610.3H240.0V610.0H241.0V610.1H242.0V610.2H243.0V610.2H244.0V609.9H245.0V609.9H246.0V610.2H247.0V609.7H248.0V610.3H249.0V610.3H250.0V610.2H251.0V610.6H252.0V610.1H253.0V610.1H254.0V610.3H255.0V610.1H256.0V610.1H257.0V610.0H258.0V610.1H259.0V610.3H260.0V610.2H261.0V609.7H262.0V610.5H263.0V609.7H264.0V610.5H265.0V610.4H266.0V610.2H267.0V609.6H268.0V610.4H269.0V610.5H270.0V609.8H271.0V610.1H272.0V610.5H273.0V609.7H274.0V610.0H275.0V609.9H276.0V610.5H277.0V610.0H278.0V610.5H279.0V610.3H280.0V610.0H281.0V609.6H282.0V609.7H283.0V610.4H284.0V609.7H285.0V609.7H286.0V610.5H287.0V610.5H288.0V610.4H289.0V609.6H290.0V610.3H291.0V610.1H292.0V609.9H293.0V610.2H294.0V610.3H295.0V610.0H296.0V609.8H297.0V610.4H298.0V610.6H299.0V610.1H300.0V609.7H301.0V609.7H302.0V610.5H303.0V609.9H304.0V609.7H305.0V609.8H306.0V610.6H307.0V610.6H308.0V610.1H309.0V609.7H310.0V609.7H311.0V610.3H312.0V609.7H313.0V609.8H314.0V610.2H315.0V610.4H316.0V608.6H317.0V608.2H318.0V610.5H319.0V610.1H320.0V610.0H321.0V609.6H322.0V610.5H323.0V610.5H324.0V610.0H325.0V610.4H326.0V606.9H327.0V605.8H328.0V609.9H329.0V609.8H330.0V610.2H330.9V611.0Z" stroke="none" fill="#a07050" stroke-width="0.8"/>
<line x1="75.30" y1="611.00" x2="330.90" y2="611.00" stroke="#7a5038" stroke-width="1.1"/>
<path d="M75.3,633.3V632.6H76.0V632.9H77.0V632.4H78.0V632.8H79.0V624.2H80.0V624.9H81.0V632.3H82.0V632.8H83.0V632.1H84.0V632.9H85.0V632.9H86.0V632.3H87.0V632.1H88.0V632.2H89.0V632.2H90.0V632.8H91.0V632.8H92.0V632.7H93.0V632.7H94.0V632.8H95.0V632.7H96.0V614.5H97.0V615.1H98.0V632.2H99.0V632.2H100.0V632.8H101.0V632.5H102.0V632.3H103.0V632.9H104.0V632.1H105.0V632.4H106.0V632.5H107.0V632.6H108.0V632.1H109.0V632.5H110.0V632.6H111.0V632.1H112.0V632.8H113.0V632.5H114.0V630.8H115.0V631.0H116.0V632.3H117.0V632.2H118.0V632.8H119.0V632.3H120.0V632.5H121.0V632.1H122.0V632.1H123.0V632.6H124.0V632.2H125.0V632.6H126.0V632.6H127.0V632.3H128.0V632.2H129.0V632.3H130.0V632.8H131.0V632.9H132.0V632.1H133.0V632.5H134.0V632.4H135.0V632.3H136.0V632.1H137.0V632.3H138.0V632.4H139.0V632.5H140.0V632.3H141.0V632.3H142.0V632.4H143.0V632.1H144.0V632.6H145.0V632.2H146.0V632.1H147.0V632.3H148.0V632.6H149.0V632.5H150.0V632.6H151.0V632.2H152.0V632.3H153.0V632.8H154.0V632.6H155.0V632.3H156.0V632.8H157.0V632.3H158.0V632.4H159.0V632.8H160.0V632.6H161.0V632.1H162.0V632.8H163.0V632.5H164.0V632.1H165.0V632.7H166.0V632.2H167.0V632.6H168.0V632.1H169.0V632.1H170.0V632.3H171.0V632.8H172.0V632.1H173.0V632.6H174.0V632.2H175.0V632.4H176.0V632.4H177.0V632.6H178.0V632.3H179.0V632.1H180.0V632.2H181.0V632.2H182.0V632.7H183.0V632.7H184.0V632.3H185.0V632.5H186.0V631.2H187.0V631.8H188.0V632.1H189.0V632.9H190.0V632.1H191.0V632.7H192.0V632.3H193.0V632.4H194.0V632.4H195.0V632.5H196.0V632.3H197.0V632.2H198.0V632.6H199.0V632.3H200.0V632.5H201.0V632.4H202.0V632.5H203.0V632.3H204.0V632.8H205.0V632.6H206.0V632.2H207.0V632.8H208.0V632.3H209.0V632.5H210.0V632.5H211.0V632.7H212.0V632.3H213.0V632.8H214.0V632.6H215.0V632.9H216.0V632.5H217.0V632.9H218.0V632.5H219.0V632.5H220.0V632.8H221.0V632.9H222.0V632.6H223.0V632.1H224.0V632.5H225.0V632.4H226.0V632.8H227.0V632.3H228.0V632.9H229.0V632.1H230.0V632.4H231.0V632.6H232.0V632.2H233.0V632.8H234.0V632.6H235.0V632.2H236.0V632.2H237.0V632.7H238.0V632.8H239.0V632.3H240.0V632.5H241.0V632.2H242.0V632.1H243.0V632.1H244.0V632.4H245.0V632.1H246.0V632.3H247.0V632.7H248.0V632.1H249.0V632.9H250.0V632.5H251.0V632.7H252.0V632.4H253.0V632.5H254.0V632.4H255.0V632.2H256.0V632.6H257.0V632.5H258.0V632.1H259.0V632.6H260.0V632.8H261.0V632.5H262.0V632.5H263.0V632.5H264.0V630.7H265.0V632.6H266.0V632.6H267.0V632.1H268.0V632.4H269.0V632.2H270.0V632.8H271.0V632.4H272.0V632.8H273.0V632.8H274.0V632.4H275.0V632.3H276.0V632.4H277.0V632.6H278.0V632.8H279.0V632.2H280.0V632.4H281.0V632.9H282.0V632.1H283.0V632.9H284.0V632.9H285.0V632.6H286.0V632.1H287.0V632.7H288.0V632.7H289.0V632.3H290.0V632.4H291.0V632.1H292.0V632.5H293.0V632.6H294.0V632.4H295.0V632.9H296.0V632.7H297.0V632.3H298.0V632.7H299.0V632.2H300.0V632.6H301.0V632.8H302.0V632.7H303.0V632.7H304.0V632.6H305.0V632.3H306.0V632.1H307.0V632.6H308.0V632.6H309.0V632.3H310.0V632.7H311.0V632.7H312.0V632.3H313.0V632.9H314.0V632.2H315.0V632.8H316.0V630.6H317.0V632.5H318.0V632.8H319.0V632.8H320.0V632.1H321.0V632.5H322.0V632.4H323.0V632.1H324.0V632.3H325.0V632.3H326.0V632.3H327.0V632.1H328.0V632.2H329.0V632.7H330.0V632.3H330.9V633.3Z" stroke="none" fill="#6a3aa8" stroke-width="0.8"/>
<line x1="75.30" y1="633.30" x2="330.90" y2="633.30" stroke="#4a2a80" stroke-width="1.1"/>
<path d="M75.3,655.7V654.7H76.0V654.3H77.0V654.6H78.0V654.6H79.0V644.2H80.0V647.2H81.0V654.0H82.0V651.8H83.0V652.6H84.0V654.3H85.0V654.9H86.0V654.0H87.0V654.4H88.0V654.2H89.0V652.4H90.0V653.9H91.0V652.4H92.0V654.7H93.0V654.0H94.0V650.8H95.0V651.6H96.0V637.6H97.0V639.9H98.0V650.9H99.0V654.2H100.0V654.8H101.0V654.4H102.0V654.6H103.0V654.4H104.0V654.0H105.0V652.3H106.0V652.6H107.0V654.6H108.0V654.3H109.0V654.0H110.0V654.0H111.0V654.8H112.0V655.1H113.0V654.1H114.0V655.0H115.0V654.4H116.0V655.0H117.0V654.6H118.0V654.3H119.0V654.1H120.0V654.8H121.0V654.7H122.0V654.2H123.0V654.6H124.0V655.1H125.0V654.8H126.0V654.9H127.0V654.3H128.0V654.4H129.0V655.1H130.0V654.6H131.0V654.3H132.0V654.2H133.0V654.3H134.0V654.5H135.0V654.6H136.0V654.1H137.0V654.6H138.0V654.9H139.0V654.8H140.0V654.8H141.0V654.7H142.0V654.9H143.0V654.7H144.0V654.2H145.0V655.0H146.0V655.0H147.0V654.9H148.0V655.0H149.0V654.0H150.0V654.2H151.0V654.2H152.0V655.2H153.0V654.4H154.0V654.3H155.0V655.0H156.0V654.9H157.0V654.6H158.0V654.7H159.0V654.7H160.0V654.6H161.0V654.3H162.0V654.3H163.0V654.1H164.0V654.2H165.0V655.0H166.0V654.5H167.0V654.9H168.0V654.5H169.0V654.8H170.0V654.1H171.0V654.6H172.0V654.6H173.0V654.8H174.0V654.6H175.0V654.5H176.0V655.1H177.0V654.0H178.0V654.6H179.0V654.9H180.0V654.2H181.0V655.1H182.0V654.3H183.0V654.7H184.0V654.1H185.0V653.3H186.0V652.1H187.0V654.4H188.0V654.3H189.0V654.7H190.0V654.8H191.0V654.5H192.0V654.9H193.0V654.1H194.0V654.6H195.0V654.3H196.0V654.3H197.0V655.0H198.0V654.6H199.0V655.1H200.0V655.1H201.0V655.1H202.0V654.0H203.0V654.6H204.0V654.7H205.0V654.3H206.0V654.9H207.0V655.1H208.0V655.1H209.0V655.0H210.0V654.9H211.0V654.9H212.0V654.7H213.0V654.8H214.0V654.1H215.0V654.6H216.0V654.2H217.0V654.5H218.0V653.6H219.0V652.6H220.0V654.7H221.0V652.7H222.0V654.1H223.0V655.1H224.0V655.2H225.0V654.8H226.0V654.9H227.0V654.4H228.0V654.8H229.0V654.3H230.0V654.6H231.0V654.8H232.0V654.9H233.0V654.4H234.0V655.0H235.0V654.6H236.0V655.0H237.0V654.4H238.0V654.4H239.0V654.6H240.0V654.3H241.0V654.3H242.0V655.1H243.0V654.5H244.0V654.6H245.0V654.5H246.0V654.6H247.0V654.2H248.0V654.3H249.0V654.3H250.0V655.1H251.0V654.7H252.0V654.9H253.0V654.0H254.0V654.5H255.0V655.1H256.0V654.3H257.0V655.2H258.0V654.7H259.0V655.0H260.0V655.0H261.0V654.4H262.0V654.1H263.0V651.7H264.0V651.7H265.0V654.0H266.0V654.1H267.0V654.2H268.0V654.3H269.0V655.0H270.0V655.1H271.0V655.0H272.0V654.5H273.0V655.2H274.0V654.4H275.0V655.2H276.0V654.0H277.0V654.3H278.0V654.3H279.0V654.7H280.0V654.3H281.0V654.1H282.0V654.4H283.0V654.7H284.0V654.5H285.0V654.2H286.0V655.1H287.0V654.4H288.0V655.1H289.0V654.6H290.0V655.2H291.0V654.2H292.0V654.7H293.0V654.5H294.0V654.4H295.0V654.7H296.0V654.8H297.0V654.2H298.0V654.8H299.0V654.6H300.0V654.6H301.0V654.9H302.0V654.0H303.0V654.2H304.0V654.1H305.0V654.9H306.0V654.3H307.0V654.1H308.0V654.4H309.0V654.1H310.0V654.9H311.0V654.2H312.0V654.8H313.0V654.3H314.0V655.0H315.0V655.1H316.0V654.6H317.0V654.3H318.0V654.9H319.0V654.3H320.0V655.0H321.0V654.0H322.0V654.8H323.0V654.5H324.0V654.9H325.0V654.4H326.0V655.1H327.0V654.2H328.0V654.9H329.0V654.4H330.0V654.5H330.9V655.7Z" stroke="none" fill="#8cc83c" stroke-width="0.8"/>
<line x1="75.30" y1="655.70" x2="330.90" y2="655.70" stroke="#5a8a2a" stroke-width="1.1"/>
<path d="M75.3,678.4V678.3H76.0V676.5H77.0V676.1H78.0V678.0H79.0V666.2H80.0V665.8H81.0V678.2H82.0V678.2H83.0V678.1H84.0V678.1H85.0V676.6H86.0V676.0H87.0V678.2H88.0V669.4H89.0V678.1H90.0V676.5H91.0V676.4H92.0V676.1H93.0V676.2H94.0V664.4H95.0V653.9H96.0V659.9H97.0V660.1H98.0V672.1H99.0V673.6H100.0V674.1H101.0V674.2H102.0V674.5H103.0V676.6H104.0V678.3H105.0V663.8H106.0V661.9H107.0V660.7H108.0V676.7H109.0V676.8H110.0V676.8H111.0V676.7H112.0V676.0H113.0V676.1H114.0V664.8H115.0V667.3H116.0V676.6H117.0V675.9H118.0V675.8H119.0V678.2H120.0V678.2H121.0V678.2H122.0V676.5H123.0V676.1H124.0V676.1H125.0V676.6H126.0V676.6H127.0V676.3H128.0V675.8H129.0V675.8H130.0V678.2H131.0V678.2H132.0V678.3H133.0V678.1H134.0V678.1H135.0V676.0H136.0V676.5H137.0V678.0H138.0V678.0H139.0V678.2H140.0V678.0H141.0V678.1H142.0V678.3H143.0V676.0H144.0V676.1H145.0V678.0H146.0V678.1H147.0V678.1H148.0V676.1H149.0V676.2H150.0V676.8H151.0V676.4H152.0V676.3H153.0V676.5H154.0V676.1H155.0V676.6H156.0V678.0H157.0V678.1H158.0V678.2H159.0V678.1H160.0V676.6H161.0V676.3H162.0V676.4H163.0V676.6H164.0V676.5H165.0V676.5H166.0V675.8H167.0V676.7H168.0V673.5H169.0V674.9H170.0V678.1H171.0V678.2H172.0V678.1H173.0V678.0H174.0V678.1H175.0V676.5H176.0V675.9H177.0V676.4H178.0V676.4H179.0V676.3H180.0V675.7H181.0V676.3H182.0V675.5H183.0V675.9H184.0V676.3H185.0V676.5H186.0V673.8H187.0V674.4H188.0V675.5H189.0V676.3H190.0V678.0H191.0V678.0H192.0V675.4H193.0V674.7H194.0V675.2H195.0V675.6H196.0V674.8H197.0V675.2H198.0V672.9H199.0V672.4H200.0V672.3H201.0V678.1H202.0V678.1H203.0V678.0H204.0V678.0H205.0V678.2H206.0V677.9H207.0V678.0H208.0V678.1H209.0V678.2H210.0V675.8H211.0V676.0H212.0V676.1H213.0V676.2H214.0V675.8H215.0V676.1H216.0V676.0H217.0V676.4H218.0V678.3H219.0V678.2H220.0V678.3H221.0V678.0H222.0V676.4H223.0V676.5H224.0V675.5H225.0V675.8H226.0V676.6H227.0V676.6H228.0V675.7H229.0V675.4H230.0V675.7H231.0V675.7H232.0V678.1H233.0V678.2H234.0V677.9H235.0V677.9H236.0V678.1H237.0V678.2H238.0V678.0H239.0V678.1H240.0V675.6H241.0V676.2H242.0V676.6H243.0V675.5H244.0V676.4H245.0V675.5H246.0V674.8H247.0V674.6H248.0V675.7H249.0V675.6H250.0V676.6H251.0V676.5H252.0V675.9H253.0V676.4H254.0V675.9H255.0V675.6H256.0V675.0H257.0V675.7H258.0V669.9H259.0V669.5H260.0V675.3H261.0V675.6H262.0V678.1H263.0V676.5H264.0V676.3H265.0V676.4H266.0V676.7H267.0V676.1H268.0V676.4H269.0V676.2H270.0V676.3H271.0V676.4H272.0V678.0H273.0V678.2H274.0V678.1H275.0V678.2H276.0V678.0H277.0V678.2H278.0V678.1H279.0V678.1H280.0V678.1H281.0V678.0H282.0V676.8H283.0V676.0H284.0V675.8H285.0V676.0H286.0V676.1H287.0V678.0H288.0V678.1H289.0V678.0H290.0V676.6H291.0V676.3H292.0V676.0H293.0V675.8H294.0V676.2H295.0V676.5H296.0V675.8H297.0V678.0H298.0V678.0H299.0V678.3H300.0V675.6H301.0V675.7H302.0V676.6H303.0V675.7H304.0V676.6H305.0V676.0H306.0V676.3H307.0V675.7H308.0V676.2H309.0V675.5H310.0V676.0H311.0V675.9H312.0V676.4H313.0V676.6H314.0V676.6H315.0V675.7H316.0V678.0H317.0V678.1H318.0V676.5H319.0V676.2H320.0V676.2H321.0V676.0H322.0V676.0H323.0V675.7H324.0V675.6H325.0V676.0H326.0V675.9H327.0V675.5H328.0V676.4H329.0V676.5H330.0V676.4H330.9V678.4Z" stroke="none" fill="#2e4ea8" stroke-width="0.8"/>
<line x1="75.30" y1="678.40" x2="330.90" y2="678.40" stroke="#1c2a70" stroke-width="1.1"/>
<path d="M75.3,700.3V699.5H76.0V699.4H77.0V699.2H78.0V699.7H79.0V695.2H80.0V693.6H81.0V699.6H82.0V693.5H83.0V693.0H84.0V699.9H85.0V699.6H86.0V699.8H87.0V699.7H88.0V699.1H89.0V699.8H90.0V699.6H91.0V699.8H92.0V699.8H93.0V699.8H94.0V699.9H95.0V699.2H96.0V679.5H97.0V682.8H98.0V699.3H99.0V699.1H100.0V699.7H101.0V699.4H102.0V699.8H103.0V699.7H104.0V699.6H105.0V699.5H106.0V699.4H107.0V699.6H108.0V699.6H109.0V699.3H110.0V699.6H111.0V699.3H112.0V699.3H113.0V699.1H114.0V699.7H115.0V699.7H116.0V699.3H117.0V699.7H118.0V699.5H119.0V699.7H120.0V699.1H121.0V699.5H122.0V699.8H123.0V699.1H124.0V699.9H125.0V699.7H126.0V699.4H127.0V699.6H128.0V699.2H129.0V699.1H130.0V698.7H131.0V698.8H132.0V699.1H133.0V699.4H134.0V699.3H135.0V699.5H136.0V699.2H137.0V699.2H138.0V699.9H139.0V699.8H140.0V699.9H141.0V699.7H142.0V699.7H143.0V699.6H144.0V699.6H145.0V699.5H146.0V699.4H147.0V699.9H148.0V699.8H149.0V699.2H150.0V699.1H151.0V699.9H152.0V699.7H153.0V699.4H154.0V699.5H155.0V699.8H156.0V699.2H157.0V699.4H158.0V699.6H159.0V699.7H160.0V699.8H161.0V699.7H162.0V699.1H163.0V699.1H164.0V699.7H165.0V699.5H166.0V699.9H167.0V699.1H168.0V699.8H169.0V699.3H170.0V699.2H171.0V699.5H172.0V699.1H173.0V699.8H174.0V699.9H175.0V699.9H176.0V699.9H177.0V699.8H178.0V699.6H179.0V699.8H180.0V699.9H181.0V699.8H182.0V699.2H183.0V699.1H184.0V699.1H185.0V699.2H186.0V699.2H187.0V699.6H188.0V699.3H189.0V699.4H190.0V699.7H191.0V699.1H192.0V699.3H193.0V699.5H194.0V699.9H195.0V699.3H196.0V699.2H197.0V699.4H198.0V699.6H199.0V699.1H200.0V699.6H201.0V699.2H202.0V699.5H203.0V699.9H204.0V699.7H205.0V699.1H206.0V699.8H207.0V699.9H208.0V699.4H209.0V699.6H210.0V699.6H211.0V699.7H212.0V699.9H213.0V699.7H214.0V699.9H215.0V699.8H216.0V699.9H217.0V698.2H218.0V698.4H219.0V699.3H220.0V699.5H221.0V699.9H222.0V699.4H223.0V699.4H224.0V699.2H225.0V699.8H226.0V699.8H227.0V699.7H228.0V699.3H229.0V699.4H230.0V699.2H231.0V699.7H232.0V699.9H233.0V699.3H234.0V699.6H235.0V699.3H236.0V699.2H237.0V699.6H238.0V699.2H239.0V699.1H240.0V699.4H241.0V699.6H242.0V699.3H243.0V699.3H244.0V699.2H245.0V699.4H246.0V699.8H247.0V699.5H248.0V699.5H249.0V699.2H250.0V699.6H251.0V699.7H252.0V699.7H253.0V699.8H254.0V699.2H255.0V699.3H256.0V699.4H257.0V699.4H258.0V699.9H259.0V699.6H260.0V699.4H261.0V699.5H262.0V699.5H263.0V699.7H264.0V699.5H265.0V699.5H266.0V699.8H267.0V699.5H268.0V699.4H269.0V699.1H270.0V699.7H271.0V699.3H272.0V699.1H273.0V699.8H274.0V699.2H275.0V699.9H276.0V699.9H277.0V699.5H278.0V699.7H279.0V699.5H280.0V699.1H281.0V699.3H282.0V699.1H283.0V699.6H284.0V699.4H285.0V699.6H286.0V699.5H287.0V699.9H288.0V699.7H289.0V699.1H290.0V699.3H291.0V699.3H292.0V699.9H293.0V699.4H294.0V699.5H295.0V699.3H296.0V699.2H297.0V699.9H298.0V699.4H299.0V699.5H300.0V698.0H301.0V698.7H302.0V699.2H303.0V699.6H304.0V699.3H305.0V699.9H306.0V699.9H307.0V699.7H308.0V696.0H309.0V696.4H310.0V699.5H311.0V699.7H312.0V699.7H313.0V699.7H314.0V699.9H315.0V699.2H316.0V699.5H317.0V699.1H318.0V699.8H319.0V699.7H320.0V699.3H321.0V699.3H322.0V699.2H323.0V699.9H324.0V699.7H325.0V699.7H326.0V693.4H327.0V694.2H328.0V699.8H329.0V699.9H330.0V699.5H330.9V700.3Z" stroke="none" fill="#a82a30" stroke-width="0.8"/>
<line x1="75.30" y1="700.30" x2="330.90" y2="700.30" stroke="#8a1a20" stroke-width="1.1"/>
<text x="71.80" y="480.30" font-size="8.29" text-anchor="end" fill="#231f20" stroke="#231f20" stroke-width="0.08" textLength="26.12" lengthAdjust="spacingAndGlyphs">Myeloid</text>
<text x="71.80" y="503.90" font-size="8.29" text-anchor="end" fill="#231f20" stroke="#231f20" stroke-width="0.08" textLength="18.87" lengthAdjust="spacingAndGlyphs">Other</text>
<text x="71.80" y="538.10" font-size="8.29" text-anchor="end" fill="#231f20" stroke="#231f20" stroke-width="0.08" textLength="18.41" lengthAdjust="spacingAndGlyphs">BLCA</text>
<text x="71.80" y="561.20" font-size="8.29" text-anchor="end" fill="#231f20" stroke="#231f20" stroke-width="0.08" textLength="19.58" lengthAdjust="spacingAndGlyphs">BRCA</text>
<text x="71.80" y="583.50" font-size="8.29" text-anchor="end" fill="#231f20" stroke="#231f20" stroke-width="0.08" textLength="20.36" lengthAdjust="spacingAndGlyphs">COAD</text>
<text x="71.80" y="604.00" font-size="8.29" text-anchor="end" fill="#231f20" stroke="#231f20" stroke-width="0.08" textLength="16.05" lengthAdjust="spacingAndGlyphs">GBM</text>
<text x="71.80" y="627.30" font-size="8.29" text-anchor="end" fill="#231f20" stroke="#231f20" stroke-width="0.08" textLength="16.84" lengthAdjust="spacingAndGlyphs">KIRC</text>
<text x="71.80" y="646.90" font-size="8.29" text-anchor="end" fill="#231f20" stroke="#231f20" stroke-width="0.08" textLength="16.45" lengthAdjust="spacingAndGlyphs">KIRP</text>
<text x="71.80" y="672.00" font-size="8.29" text-anchor="end" fill="#231f20" stroke="#231f20" stroke-width="0.08" textLength="18.8" lengthAdjust="spacingAndGlyphs">LUAD</text>
<text x="71.80" y="695.40" font-size="8.29" text-anchor="end" fill="#231f20" stroke="#231f20" stroke-width="0.08" textLength="20.36" lengthAdjust="spacingAndGlyphs">SKCM</text>
<text x="71.80" y="715.10" font-size="8.29" text-anchor="end" fill="#231f20" stroke="#231f20" stroke-width="0.08" textLength="20.55" lengthAdjust="spacingAndGlyphs">Loops</text>
<line x1="34.50" y1="466.40" x2="34.50" y2="510.70" stroke="#555" stroke-width="0.7"/>
<line x1="34.50" y1="521.60" x2="34.50" y2="701.20" stroke="#555" stroke-width="0.7"/>
<text x="19.30" y="488.20" font-size="8.23" text-anchor="middle" fill="#231f20" stroke="#231f20" stroke-width="0.08" textLength="63.6" lengthAdjust="spacingAndGlyphs" transform="rotate(-90 19.30 488.20)">Norm scATAC–seq</text>
<text x="28.00" y="488.20" font-size="8.23" text-anchor="middle" fill="#231f20" stroke="#231f20" stroke-width="0.08" textLength="23" lengthAdjust="spacingAndGlyphs" transform="rotate(-90 28.00 488.20)">(0–0.1)</text>
<text x="19.30" y="611.40" font-size="8.23" text-anchor="middle" fill="#231f20" stroke="#231f20" stroke-width="0.08" textLength="124" lengthAdjust="spacingAndGlyphs" transform="rotate(-90 19.30 611.40)">Norm scATAC–seq (malignant cells)</text>
<text x="28.00" y="610.00" font-size="8.23" text-anchor="middle" fill="#231f20" stroke="#231f20" stroke-width="0.08" textLength="23" lengthAdjust="spacingAndGlyphs" transform="rotate(-90 28.00 610.00)">(0–0.1)</text>
<path d="M84.60,701.00C84.60,716.29 200.00,716.29 200.00,701.00" stroke="#c4d8f2" fill="none" stroke-width="1.1"/>
<path d="M84.60,701.00C84.60,710.98 168.00,710.98 168.00,701.00" stroke="#a8c6ec" fill="none" stroke-width="1.4"/>
<path d="M84.60,701.00C84.60,714.97 188.10,714.97 188.10,701.00" stroke="#7ea8dc" fill="none" stroke-width="1.4"/>
<path d="M84.60,701.00C84.60,719.62 228.70,719.62 228.70,701.00" stroke="#a4c4ea" fill="none" stroke-width="1.4"/>
<path d="M84.60,701.00C84.60,733.59 310.30,733.59 310.30,701.00" stroke="#4a6cbc" fill="none" stroke-width="1.5"/>
<line x1="75.30" y1="727.40" x2="330.90" y2="727.40" stroke="#333" stroke-width="0.8"/>
<line x1="75.30" y1="738.20" x2="330.90" y2="738.20" stroke="#333" stroke-width="0.8"/>
<line x1="96.60" y1="727.80" x2="96.60" y2="738.00" stroke="#e8303a" stroke-width="0.5"/>
<rect x="96.60" y="730.40" width="36.00" height="5.50" fill="#e8303a"/>
<rect x="132.60" y="727.80" width="5.20" height="10.20" fill="#e8303a"/>
<line x1="108.90" y1="728.00" x2="108.90" y2="737.80" stroke="#e8303a" stroke-width="0.5"/>
<line x1="110.40" y1="728.00" x2="110.40" y2="737.80" stroke="#e8303a" stroke-width="0.5"/>
<line x1="122.20" y1="728.00" x2="122.20" y2="737.80" stroke="#e8303a" stroke-width="0.5"/>
<line x1="127.90" y1="728.00" x2="127.90" y2="737.80" stroke="#e8303a" stroke-width="0.5"/>
<text x="139.80" y="735.70" font-size="8.71" fill="#e8303a" stroke="#e8303a" stroke-width="0.08" textLength="47.3" lengthAdjust="spacingAndGlyphs"><tspan font-style="italic">CD274</tspan> (PD-L1)</text>
<line x1="75.30" y1="738.20" x2="75.30" y2="740.20" stroke="#444" stroke-width="0.6"/>
<text x="75.30" y="748.30" font-size="7.62" text-anchor="middle" fill="#231f20" stroke="#231f20" stroke-width="0.08" textLength="13.72" lengthAdjust="spacingAndGlyphs">5.44</text>
<line x1="157.30" y1="738.20" x2="157.30" y2="740.20" stroke="#444" stroke-width="0.6"/>
<text x="157.30" y="748.30" font-size="7.62" text-anchor="middle" fill="#231f20" stroke="#231f20" stroke-width="0.08" textLength="13.72" lengthAdjust="spacingAndGlyphs">5.48</text>
<line x1="239.30" y1="738.20" x2="239.30" y2="740.20" stroke="#444" stroke-width="0.6"/>
<text x="239.30" y="748.30" font-size="7.62" text-anchor="middle" fill="#231f20" stroke="#231f20" stroke-width="0.08" textLength="13.72" lengthAdjust="spacingAndGlyphs">5.52</text>
<line x1="321.30" y1="738.20" x2="321.30" y2="740.20" stroke="#444" stroke-width="0.6"/>
<text x="314.30" y="748.30" font-size="7.62" fill="#231f20" stroke="#231f20" stroke-width="0.08" textLength="24.43" lengthAdjust="spacingAndGlyphs">5.56 Mb</text>
<linearGradient id="cb1" x1="0" x2="1" y1="0" y2="0"><stop offset="0" stop-color="#dbe9f8"/><stop offset="0.3" stop-color="#5a86d0"/><stop offset="0.55" stop-color="#4a3a9a"/><stop offset="0.75" stop-color="#8a2a8a"/><stop offset="1" stop-color="#0a0008"/></linearGradient>
<rect x="1.75" y="733.60" width="39.50" height="7.00" fill="url(#cb1)"/>
<text x="3.50" y="727.10" font-size="8.23" fill="#231f20" stroke="#231f20" stroke-width="0.08">−log<tspan font-size="4.3" dy="1.5">10</tspan><tspan dy="-1.5">(</tspan><tspan font-style="italic">P</tspan><tspan font-size="4.3" font-style="italic" dy="1.5">adj</tspan><tspan dy="-1.5">)</tspan></text>
<text x="1.90" y="748.00" font-size="7.02" text-anchor="middle" fill="#231f20" stroke="#231f20" stroke-width="0.08" textLength="3.61" lengthAdjust="spacingAndGlyphs">0</text>
<text x="19.60" y="748.00" font-size="7.02" text-anchor="middle" fill="#231f20" stroke="#231f20" stroke-width="0.08" textLength="3.61" lengthAdjust="spacingAndGlyphs">5</text>
<text x="37.70" y="748.00" font-size="7.02" text-anchor="middle" fill="#231f20" stroke="#231f20" stroke-width="0.08" textLength="7.22" lengthAdjust="spacingAndGlyphs">10</text>
<text x="358.00" y="479.20" font-size="14" fill="#000" font-weight="bold" stroke="#000" stroke-width="0.75">g</text>
<text x="425.70" y="480.90" font-size="8.5" fill="#231f20" stroke="#231f20" stroke-width="0.08" textLength="110" lengthAdjust="spacingAndGlyphs">Chr8: 127,394,999–127,755,000</text>
<rect x="427.70" y="483.70" width="3.40" height="220.60" fill="#f0cad4"/>
<rect x="425.00" y="483.70" width="257.80" height="90.30" fill="none" stroke="#777" stroke-width="0.8"/>
<rect x="425.00" y="584.30" width="257.80" height="54.00" fill="none" stroke="#777" stroke-width="0.8"/>
<rect x="425.00" y="650.50" width="257.80" height="87.50" fill="none" stroke="#777" stroke-width="0.8"/>
<path d="M425.0,501.2V500.8H426.0V500.9H427.0V501.1H428.0V500.9H429.0V500.7H430.0V500.9H431.0V500.8H432.0V501.0H433.0V500.9H434.0V500.9H435.0V501.0H436.0V501.0H437.0V501.0H438.0V500.7H439.0V500.8H440.0V500.8H441.0V500.7H442.0V500.8H443.0V500.9H444.0V500.7H445.0V500.8H446.0V500.7H447.0V500.9H448.0V500.9H449.0V501.0H450.0V500.7H451.0V500.8H452.0V500.7H453.0V500.9H454.0V500.7H455.0V500.7H456.0V500.7H457.0V501.0H458.0V500.7H459.0V500.7H460.0V500.8H461.0V500.9H462.0V500.8H463.0V500.9H464.0V501.0H465.0V500.7H466.0V500.8H467.0V500.7H468.0V501.0H469.0V500.9H470.0V500.7H471.0V501.0H472.0V500.8H473.0V500.9H474.0V501.0H475.0V500.7H476.0V500.8H477.0V500.9H478.0V500.7H479.0V500.6H480.0V501.0H481.0V500.6H482.0V500.9H483.0V500.9H484.0V501.0H485.0V501.0H486.0V500.8H487.0V501.0H488.0V500.8H489.0V500.7H490.0V500.7H491.0V501.0H492.0V501.0H493.0V500.7H494.0V500.8H495.0V500.6H496.0V500.9H497.0V500.8H498.0V500.9H499.0V501.0H500.0V500.9H501.0V500.8H502.0V500.9H503.0V500.6H504.0V500.8H505.0V501.0H506.0V501.1H507.0V501.0H508.0V501.0H509.0V501.0H510.0V501.0H511.0V500.7H512.0V500.9H513.0V500.9H514.0V500.9H515.0V500.9H516.0V500.9H517.0V500.8H518.0V500.8H519.0V500.9H520.0V500.8H521.0V501.0H522.0V501.0H523.0V500.9H524.0V500.9H525.0V500.9H526.0V500.8H527.0V500.8H528.0V500.8H529.0V501.0H530.0V501.1H531.0V501.0H532.0V501.0H533.0V500.7H534.0V500.7H535.0V501.0H536.0V500.7H537.0V500.7H538.0V500.8H539.0V500.8H540.0V500.9H541.0V500.8H542.0V500.9H543.0V500.9H544.0V500.8H545.0V501.0H546.0V500.7H547.0V500.9H548.0V501.0H549.0V500.8H550.0V500.9H551.0V500.9H552.0V500.8H553.0V501.0H554.0V501.0H555.0V500.8H556.0V500.7H557.0V501.0H558.0V501.0H559.0V501.0H560.0V501.0H561.0V501.0H562.0V500.8H563.0V500.8H564.0V500.9H565.0V500.9H566.0V500.9H567.0V500.9H568.0V500.7H569.0V501.0H570.0V500.9H571.0V500.9H572.0V501.0H573.0V500.9H574.0V501.0H575.0V500.8H576.0V501.0H577.0V501.0H578.0V501.0H579.0V501.0H580.0V500.8H581.0V501.0H582.0V500.7H583.0V500.9H584.0V501.1H585.0V500.9H586.0V500.7H587.0V500.7H588.0V500.7H589.0V501.0H590.0V501.0H591.0V501.0H592.0V500.8H593.0V500.7H594.0V501.0H595.0V501.0H596.0V500.8H597.0V500.9H598.0V500.9H599.0V500.9H600.0V500.7H601.0V501.0H602.0V500.7H603.0V501.0H604.0V500.8H605.0V500.9H606.0V501.0H607.0V500.7H608.0V500.8H609.0V500.8H610.0V500.7H611.0V500.8H612.0V501.0H613.0V500.9H614.0V501.0H615.0V500.6H616.0V500.7H617.0V500.8H618.0V500.7H619.0V500.9H620.0V501.0H621.0V500.6H622.0V500.7H623.0V500.7H624.0V500.7H625.0V500.9H626.0V500.8H627.0V501.0H628.0V500.7H629.0V500.7H630.0V501.0H631.0V500.8H632.0V501.0H633.0V500.9H634.0V500.8H635.0V500.9H636.0V500.9H637.0V500.7H638.0V500.7H639.0V500.7H640.0V500.7H641.0V500.9H642.0V500.8H643.0V500.8H644.0V500.7H645.0V501.0H646.0V500.7H647.0V500.8H648.0V500.8H649.0V500.9H650.0V500.8H651.0V500.7H652.0V500.9H653.0V500.8H654.0V500.9H655.0V500.7H656.0V500.8H657.0V500.7H658.0V500.9H659.0V500.7H660.0V500.9H661.0V500.7H662.0V500.7H663.0V501.0H664.0V500.9H665.0V500.9H666.0V501.0H667.0V495.3H668.0V495.5H669.0V494.9H670.0V496.4H671.0V497.0H672.0V500.8H673.0V500.9H674.0V500.9H675.0V500.7H676.0V500.9H677.0V501.0H678.0V500.9H679.0V500.8H680.0V501.1H681.0V500.8H682.0V501.0H682.8V501.2Z" stroke="none" fill="#c8283a" stroke-width="0.8"/>
<line x1="425.00" y1="501.20" x2="682.80" y2="501.20" stroke="#8a1a28" stroke-width="1.1"/>
<path d="M425.0,519.4V519.1H426.0V518.9H427.0V519.1H428.0V519.1H429.0V519.2H430.0V519.0H431.0V519.2H432.0V518.9H433.0V519.2H434.0V518.9H435.0V519.2H436.0V519.1H437.0V519.0H438.0V518.9H439.0V518.9H440.0V519.1H441.0V519.0H442.0V518.9H443.0V519.2H444.0V518.9H445.0V518.9H446.0V518.9H447.0V519.2H448.0V519.0H449.0V519.1H450.0V518.9H451.0V518.9H452.0V519.3H453.0V518.9H454.0V518.9H455.0V519.1H456.0V518.9H457.0V519.2H458.0V518.9H459.0V519.0H460.0V519.3H461.0V518.9H462.0V519.1H463.0V519.2H464.0V519.2H465.0V519.2H466.0V519.1H467.0V519.1H468.0V518.9H469.0V519.1H470.0V519.2H471.0V519.3H472.0V519.0H473.0V519.2H474.0V518.9H475.0V518.9H476.0V519.0H477.0V519.0H478.0V519.1H479.0V518.9H480.0V519.1H481.0V519.2H482.0V519.0H483.0V518.9H484.0V518.9H485.0V519.1H486.0V519.2H487.0V519.1H488.0V519.2H489.0V519.0H490.0V519.2H491.0V519.1H492.0V518.9H493.0V518.9H494.0V519.0H495.0V519.1H496.0V518.9H497.0V519.0H498.0V519.0H499.0V519.1H500.0V518.9H501.0V519.1H502.0V519.2H503.0V519.1H504.0V519.1H505.0V519.2H506.0V519.2H507.0V519.0H508.0V519.2H509.0V518.9H510.0V519.0H511.0V518.9H512.0V519.0H513.0V519.2H514.0V518.9H515.0V519.2H516.0V519.1H517.0V518.9H518.0V519.0H519.0V518.9H520.0V519.0H521.0V518.9H522.0V519.1H523.0V519.1H524.0V519.0H525.0V519.1H526.0V519.1H527.0V518.9H528.0V519.1H529.0V518.9H530.0V519.0H531.0V519.1H532.0V518.9H533.0V519.0H534.0V519.1H535.0V519.0H536.0V519.0H537.0V519.2H538.0V519.2H539.0V519.1H540.0V519.0H541.0V519.1H542.0V519.1H543.0V519.1H544.0V518.9H545.0V519.1H546.0V519.2H547.0V519.2H548.0V518.9H549.0V519.1H550.0V519.1H551.0V519.2H552.0V519.2H553.0V518.9H554.0V519.2H555.0V519.2H556.0V519.2H557.0V519.1H558.0V518.9H559.0V519.2H560.0V518.9H561.0V519.1H562.0V519.1H563.0V519.0H564.0V518.9H565.0V519.2H566.0V519.1H567.0V519.2H568.0V519.0H569.0V519.2H570.0V518.9H571.0V519.0H572.0V518.8H573.0V518.9H574.0V519.0H575.0V519.3H576.0V518.4H577.0V518.4H578.0V519.0H579.0V519.0H580.0V519.2H581.0V519.2H582.0V519.1H583.0V519.0H584.0V519.2H585.0V518.9H586.0V519.1H587.0V519.1H588.0V519.0H589.0V519.0H590.0V519.2H591.0V519.0H592.0V518.9H593.0V519.1H594.0V518.9H595.0V518.9H596.0V518.9H597.0V519.0H598.0V519.0H599.0V519.3H600.0V519.1H601.0V518.8H602.0V518.9H603.0V519.2H604.0V518.8H605.0V519.2H606.0V519.1H607.0V519.2H608.0V519.2H609.0V519.0H610.0V518.9H611.0V519.1H612.0V518.9H613.0V519.0H614.0V519.2H615.0V519.2H616.0V518.9H617.0V519.1H618.0V518.9H619.0V519.1H620.0V519.2H621.0V518.9H622.0V518.9H623.0V518.8H624.0V519.1H625.0V518.9H626.0V519.2H627.0V518.9H628.0V519.0H629.0V519.1H630.0V519.2H631.0V519.0H632.0V519.0H633.0V519.1H634.0V518.9H635.0V519.2H636.0V519.1H637.0V519.2H638.0V519.2H639.0V518.9H640.0V518.9H641.0V518.9H642.0V519.1H643.0V519.0H644.0V519.2H645.0V519.2H646.0V519.0H647.0V519.2H648.0V518.9H649.0V518.9H650.0V519.2H651.0V519.1H652.0V519.2H653.0V519.2H654.0V518.9H655.0V519.0H656.0V519.0H657.0V519.1H658.0V519.0H659.0V519.0H660.0V519.2H661.0V519.2H662.0V519.2H663.0V519.1H664.0V519.1H665.0V519.0H666.0V519.2H667.0V513.5H668.0V513.2H669.0V513.3H670.0V515.6H671.0V519.1H672.0V519.0H673.0V515.2H674.0V519.2H675.0V519.2H676.0V519.0H677.0V518.9H678.0V519.2H679.0V518.4H680.0V518.4H681.0V519.1H682.0V519.2H682.8V519.4Z" stroke="none" fill="#28307e" stroke-width="0.8"/>
<line x1="425.00" y1="519.40" x2="682.80" y2="519.40" stroke="#1c2260" stroke-width="1.1"/>
<path d="M425.0,537.4V536.9H426.0V537.0H427.0V537.0H428.0V537.1H429.0V537.2H430.0V537.2H431.0V537.1H432.0V537.0H433.0V536.9H434.0V537.1H435.0V536.9H436.0V537.2H437.0V537.0H438.0V537.2H439.0V537.2H440.0V537.2H441.0V536.8H442.0V537.0H443.0V537.0H444.0V536.9H445.0V536.9H446.0V537.1H447.0V536.9H448.0V537.1H449.0V537.0H450.0V536.9H451.0V537.1H452.0V537.0H453.0V537.0H454.0V537.2H455.0V536.9H456.0V537.2H457.0V537.1H458.0V537.2H459.0V537.1H460.0V536.9H461.0V537.1H462.0V536.9H463.0V537.2H464.0V537.2H465.0V537.3H466.0V537.1H467.0V536.9H468.0V537.0H469.0V537.0H470.0V537.2H471.0V537.2H472.0V537.2H473.0V536.9H474.0V537.0H475.0V536.9H476.0V536.9H477.0V537.2H478.0V537.2H479.0V537.0H480.0V537.2H481.0V537.1H482.0V537.0H483.0V537.2H484.0V536.9H485.0V537.2H486.0V536.9H487.0V537.2H488.0V536.9H489.0V537.1H490.0V537.2H491.0V537.0H492.0V537.0H493.0V537.1H494.0V537.1H495.0V537.0H496.0V537.1H497.0V537.1H498.0V537.0H499.0V537.1H500.0V536.9H501.0V537.1H502.0V537.0H503.0V537.0H504.0V537.2H505.0V537.1H506.0V537.0H507.0V537.1H508.0V537.0H509.0V537.0H510.0V537.0H511.0V537.2H512.0V536.9H513.0V536.9H514.0V537.1H515.0V536.9H516.0V537.1H517.0V537.1H518.0V537.2H519.0V537.0H520.0V537.0H521.0V537.0H522.0V537.1H523.0V537.2H524.0V537.3H525.0V537.0H526.0V537.0H527.0V536.9H528.0V536.9H529.0V537.0H530.0V536.8H531.0V537.3H532.0V536.9H533.0V537.0H534.0V537.1H535.0V537.0H536.0V537.1H537.0V537.0H538.0V536.9H539.0V537.0H540.0V536.9H541.0V537.1H542.0V537.2H543.0V537.1H544.0V536.9H545.0V537.1H546.0V537.0H547.0V537.0H548.0V537.1H549.0V537.3H550.0V537.0H551.0V537.1H552.0V536.8H553.0V537.3H554.0V537.0H555.0V537.0H556.0V536.9H557.0V536.9H558.0V536.9H559.0V537.0H560.0V537.0H561.0V537.0H562.0V537.0H563.0V537.1H564.0V537.1H565.0V537.2H566.0V537.1H567.0V537.0H568.0V536.9H569.0V537.2H570.0V536.9H571.0V536.9H572.0V537.1H573.0V537.0H574.0V536.8H575.0V536.9H576.0V536.9H577.0V537.1H578.0V537.1H579.0V537.1H580.0V537.1H581.0V537.1H582.0V536.9H583.0V537.0H584.0V537.1H585.0V537.0H586.0V537.0H587.0V537.2H588.0V537.2H589.0V537.2H590.0V537.2H591.0V537.0H592.0V537.0H593.0V537.1H594.0V536.9H595.0V537.1H596.0V537.2H597.0V537.1H598.0V537.1H599.0V537.2H600.0V537.1H601.0V537.0H602.0V537.0H603.0V537.2H604.0V537.0H605.0V537.0H606.0V537.2H607.0V537.1H608.0V537.0H609.0V536.9H610.0V536.9H611.0V537.1H612.0V536.9H613.0V537.0H614.0V537.0H615.0V537.1H616.0V537.1H617.0V537.2H618.0V537.2H619.0V537.0H620.0V537.2H621.0V537.0H622.0V537.1H623.0V537.1H624.0V537.1H625.0V536.9H626.0V537.0H627.0V537.1H628.0V537.0H629.0V537.0H630.0V537.2H631.0V537.2H632.0V536.9H633.0V536.9H634.0V537.0H635.0V536.9H636.0V537.0H637.0V537.0H638.0V536.9H639.0V537.2H640.0V537.1H641.0V536.9H642.0V537.2H643.0V537.0H644.0V537.2H645.0V537.2H646.0V537.1H647.0V537.0H648.0V536.9H649.0V537.1H650.0V537.0H651.0V537.1H652.0V537.1H653.0V537.2H654.0V537.1H655.0V536.9H656.0V537.0H657.0V537.1H658.0V537.0H659.0V537.0H660.0V536.9H661.0V537.0H662.0V537.0H663.0V537.1H664.0V536.9H665.0V536.9H666.0V537.0H667.0V533.6H668.0V531.5H669.0V531.3H670.0V534.5H671.0V535.3H672.0V537.2H673.0V536.9H674.0V536.9H675.0V537.0H676.0V537.0H677.0V536.9H678.0V537.1H679.0V536.9H680.0V536.8H681.0V537.2H682.0V536.9H682.8V537.4Z" stroke="none" fill="#2e8a3c" stroke-width="0.8"/>
<line x1="425.00" y1="537.40" x2="682.80" y2="537.40" stroke="#1e6a2c" stroke-width="1.1"/>
<path d="M425.0,555.3V555.1H426.0V554.8H427.0V555.1H428.0V554.7H429.0V554.8H430.0V555.1H431.0V554.9H432.0V555.0H433.0V555.0H434.0V554.8H435.0V554.8H436.0V555.1H437.0V554.9H438.0V554.9H439.0V554.9H440.0V555.1H441.0V555.0H442.0V555.0H443.0V554.8H444.0V554.8H445.0V554.9H446.0V555.0H447.0V554.8H448.0V555.1H449.0V555.0H450.0V555.1H451.0V554.9H452.0V554.8H453.0V554.9H454.0V554.8H455.0V554.3H456.0V554.3H457.0V555.1H458.0V554.8H459.0V554.7H460.0V554.9H461.0V554.7H462.0V554.8H463.0V554.8H464.0V554.8H465.0V554.8H466.0V554.9H467.0V555.1H468.0V554.8H469.0V555.0H470.0V554.9H471.0V554.8H472.0V555.0H473.0V555.0H474.0V554.9H475.0V554.8H476.0V554.8H477.0V554.7H478.0V554.8H479.0V554.8H480.0V555.0H481.0V555.1H482.0V554.8H483.0V555.1H484.0V554.8H485.0V554.9H486.0V555.1H487.0V555.1H488.0V554.9H489.0V555.1H490.0V555.0H491.0V555.1H492.0V555.1H493.0V555.1H494.0V554.3H495.0V554.4H496.0V554.8H497.0V554.9H498.0V555.1H499.0V554.9H500.0V555.1H501.0V555.1H502.0V554.9H503.0V554.8H504.0V554.9H505.0V555.1H506.0V554.8H507.0V555.1H508.0V555.1H509.0V554.9H510.0V555.1H511.0V555.0H512.0V555.1H513.0V555.0H514.0V555.0H515.0V555.0H516.0V555.0H517.0V555.0H518.0V554.9H519.0V555.0H520.0V554.9H521.0V555.0H522.0V555.0H523.0V555.1H524.0V555.0H525.0V554.9H526.0V555.1H527.0V555.0H528.0V554.9H529.0V555.0H530.0V554.9H531.0V555.1H532.0V554.8H533.0V555.1H534.0V554.8H535.0V555.0H536.0V555.0H537.0V555.0H538.0V554.8H539.0V554.9H540.0V554.8H541.0V554.7H542.0V555.0H543.0V554.8H544.0V555.1H545.0V554.8H546.0V555.1H547.0V555.0H548.0V554.9H549.0V554.9H550.0V554.9H551.0V555.0H552.0V555.0H553.0V554.8H554.0V555.1H555.0V555.2H556.0V554.9H557.0V555.1H558.0V555.1H559.0V555.0H560.0V555.1H561.0V555.0H562.0V554.8H563.0V554.8H564.0V555.1H565.0V554.7H566.0V554.8H567.0V554.8H568.0V555.1H569.0V555.0H570.0V555.1H571.0V554.9H572.0V554.9H573.0V555.0H574.0V554.8H575.0V554.9H576.0V554.9H577.0V555.0H578.0V554.8H579.0V554.9H580.0V554.8H581.0V554.8H582.0V555.1H583.0V555.1H584.0V555.1H585.0V554.8H586.0V555.0H587.0V555.0H588.0V554.9H589.0V554.9H590.0V555.0H591.0V554.8H592.0V555.0H593.0V554.8H594.0V555.1H595.0V554.8H596.0V555.0H597.0V554.9H598.0V555.1H599.0V554.8H600.0V555.1H601.0V554.8H602.0V554.9H603.0V555.2H604.0V554.8H605.0V554.8H606.0V555.1H607.0V555.1H608.0V554.8H609.0V555.0H610.0V554.9H611.0V555.0H612.0V555.2H613.0V555.1H614.0V555.0H615.0V555.1H616.0V555.0H617.0V555.0H618.0V554.8H619.0V555.1H620.0V554.9H621.0V555.1H622.0V554.9H623.0V555.0H624.0V555.1H625.0V554.9H626.0V555.1H627.0V554.8H628.0V555.0H629.0V555.1H630.0V554.9H631.0V554.9H632.0V554.7H633.0V555.1H634.0V555.1H635.0V554.8H636.0V555.0H637.0V554.9H638.0V554.9H639.0V554.7H640.0V554.9H641.0V554.8H642.0V555.1H643.0V554.8H644.0V555.0H645.0V554.8H646.0V554.9H647.0V555.1H648.0V555.0H649.0V554.9H650.0V555.1H651.0V555.0H652.0V555.0H653.0V555.0H654.0V554.8H655.0V554.8H656.0V554.9H657.0V554.9H658.0V554.8H659.0V554.8H660.0V554.9H661.0V555.1H662.0V555.0H663.0V555.0H664.0V554.9H665.0V555.0H666.0V555.1H667.0V551.2H668.0V550.3H669.0V550.3H670.0V552.2H671.0V554.8H672.0V555.1H673.0V552.3H674.0V554.9H675.0V555.1H676.0V555.0H677.0V554.8H678.0V554.8H679.0V554.9H680.0V555.0H681.0V554.9H682.0V554.8H682.8V555.3Z" stroke="none" fill="#7a2a8e" stroke-width="0.8"/>
<line x1="425.00" y1="555.30" x2="682.80" y2="555.30" stroke="#5a1a6e" stroke-width="1.1"/>
<path d="M425.0,573.3V573.1H426.0V573.0H427.0V572.9H428.0V573.0H429.0V573.1H430.0V572.9H431.0V573.1H432.0V573.0H433.0V573.1H434.0V572.9H435.0V573.2H436.0V573.1H437.0V572.8H438.0V573.1H439.0V573.0H440.0V573.1H441.0V573.0H442.0V573.0H443.0V572.8H444.0V572.8H445.0V573.1H446.0V572.9H447.0V571.8H448.0V571.9H449.0V573.1H450.0V573.1H451.0V573.0H452.0V572.8H453.0V572.9H454.0V573.1H455.0V573.0H456.0V573.1H457.0V573.1H458.0V572.9H459.0V573.2H460.0V572.9H461.0V572.9H462.0V573.2H463.0V573.1H464.0V572.9H465.0V573.2H466.0V573.0H467.0V573.1H468.0V572.9H469.0V572.9H470.0V572.9H471.0V573.1H472.0V573.1H473.0V572.9H474.0V573.1H475.0V573.1H476.0V573.2H477.0V572.9H478.0V573.0H479.0V573.1H480.0V573.2H481.0V573.0H482.0V573.2H483.0V573.2H484.0V573.0H485.0V573.0H486.0V573.0H487.0V572.8H488.0V573.2H489.0V573.2H490.0V573.1H491.0V573.0H492.0V572.9H493.0V573.1H494.0V573.0H495.0V573.2H496.0V573.1H497.0V573.1H498.0V573.1H499.0V573.1H500.0V573.1H501.0V573.0H502.0V572.9H503.0V572.9H504.0V572.9H505.0V573.1H506.0V572.9H507.0V573.0H508.0V572.9H509.0V573.0H510.0V572.9H511.0V573.0H512.0V573.2H513.0V573.1H514.0V573.1H515.0V573.1H516.0V572.9H517.0V573.0H518.0V573.1H519.0V572.9H520.0V573.1H521.0V573.1H522.0V573.0H523.0V573.1H524.0V573.0H525.0V572.9H526.0V572.9H527.0V573.0H528.0V573.0H529.0V573.1H530.0V572.9H531.0V572.9H532.0V572.9H533.0V572.9H534.0V572.9H535.0V573.2H536.0V573.1H537.0V573.1H538.0V572.9H539.0V572.9H540.0V573.0H541.0V573.1H542.0V573.0H543.0V573.1H544.0V573.0H545.0V573.2H546.0V572.9H547.0V572.8H548.0V573.1H549.0V572.9H550.0V573.2H551.0V573.1H552.0V573.0H553.0V573.2H554.0V573.0H555.0V573.0H556.0V572.9H557.0V572.9H558.0V573.0H559.0V573.2H560.0V573.1H561.0V573.1H562.0V573.0H563.0V573.1H564.0V573.1H565.0V573.0H566.0V573.0H567.0V573.1H568.0V572.9H569.0V573.1H570.0V573.1H571.0V573.0H572.0V572.9H573.0V573.1H574.0V573.2H575.0V573.0H576.0V572.9H577.0V573.0H578.0V573.0H579.0V573.1H580.0V573.2H581.0V573.0H582.0V573.1H583.0V572.8H584.0V573.1H585.0V573.0H586.0V573.1H587.0V573.0H588.0V573.0H589.0V572.9H590.0V572.8H591.0V573.1H592.0V572.9H593.0V573.1H594.0V573.0H595.0V572.9H596.0V573.0H597.0V573.1H598.0V573.0H599.0V573.1H600.0V573.1H601.0V573.0H602.0V573.0H603.0V573.0H604.0V573.1H605.0V573.1H606.0V573.1H607.0V573.1H608.0V573.0H609.0V573.0H610.0V572.8H611.0V572.9H612.0V572.9H613.0V573.1H614.0V573.0H615.0V572.9H616.0V573.2H617.0V572.8H618.0V573.0H619.0V573.1H620.0V572.9H621.0V572.9H622.0V573.0H623.0V572.9H624.0V573.0H625.0V573.1H626.0V573.1H627.0V572.8H628.0V573.0H629.0V572.8H630.0V572.9H631.0V572.8H632.0V573.0H633.0V572.9H634.0V573.0H635.0V573.0H636.0V573.0H637.0V572.9H638.0V573.1H639.0V573.1H640.0V572.9H641.0V572.9H642.0V572.8H643.0V572.9H644.0V573.1H645.0V573.0H646.0V573.1H647.0V573.2H648.0V573.0H649.0V573.1H650.0V573.1H651.0V573.1H652.0V573.0H653.0V573.1H654.0V573.0H655.0V573.1H656.0V573.1H657.0V573.0H658.0V572.9H659.0V572.9H660.0V572.9H661.0V573.2H662.0V572.9H663.0V572.9H664.0V573.0H665.0V573.1H666.0V572.9H667.0V570.3H668.0V568.3H669.0V568.6H670.0V570.2H671.0V573.1H672.0V573.1H673.0V572.9H674.0V572.9H675.0V572.9H676.0V572.9H677.0V572.8H678.0V573.2H679.0V573.1H680.0V573.1H681.0V573.2H682.0V572.8H682.8V573.3Z" stroke="none" fill="#ea8030" stroke-width="0.8"/>
<line x1="425.00" y1="573.30" x2="682.80" y2="573.30" stroke="#c06020" stroke-width="1.1"/>
<path d="M425.0,602.3V602.1H426.0V601.9H427.0V601.8H428.0V598.4H429.0V600.4H430.0V600.2H431.0V600.3H432.0V600.4H433.0V601.9H434.0V601.8H435.0V601.8H436.0V601.7H437.0V601.7H438.0V601.8H439.0V601.7H440.0V601.9H441.0V602.0H442.0V601.7H443.0V602.0H444.0V602.1H445.0V602.1H446.0V601.9H447.0V599.2H448.0V599.4H449.0V601.7H450.0V601.7H451.0V602.0H452.0V601.9H453.0V601.9H454.0V601.8H455.0V601.8H456.0V602.1H457.0V601.8H458.0V602.1H459.0V601.9H460.0V600.3H461.0V600.4H462.0V601.8H463.0V601.9H464.0V602.0H465.0V601.8H466.0V602.1H467.0V601.7H468.0V602.1H469.0V601.8H470.0V601.9H471.0V602.1H472.0V602.0H473.0V601.7H474.0V601.8H475.0V601.9H476.0V601.8H477.0V602.1H478.0V601.9H479.0V601.7H480.0V602.0H481.0V601.9H482.0V601.7H483.0V601.7H484.0V602.0H485.0V601.7H486.0V600.4H487.0V600.3H488.0V600.2H489.0V600.2H490.0V601.8H491.0V602.0H492.0V601.7H493.0V601.9H494.0V601.7H495.0V601.7H496.0V601.8H497.0V601.9H498.0V601.8H499.0V602.1H500.0V602.0H501.0V601.7H502.0V602.1H503.0V602.1H504.0V601.7H505.0V601.9H506.0V602.0H507.0V601.7H508.0V601.8H509.0V601.9H510.0V600.3H511.0V600.3H512.0V601.9H513.0V601.8H514.0V601.8H515.0V602.0H516.0V601.7H517.0V602.1H518.0V601.7H519.0V601.8H520.0V602.1H521.0V601.8H522.0V601.7H523.0V601.8H524.0V601.9H525.0V601.7H526.0V600.3H527.0V600.2H528.0V602.1H529.0V601.9H530.0V601.7H531.0V601.9H532.0V601.7H533.0V601.9H534.0V602.1H535.0V601.8H536.0V602.1H537.0V602.0H538.0V601.7H539.0V601.8H540.0V602.1H541.0V602.1H542.0V600.3H543.0V600.4H544.0V602.1H545.0V601.9H546.0V602.0H547.0V601.9H548.0V601.8H549.0V602.0H550.0V601.9H551.0V602.1H552.0V601.8H553.0V601.8H554.0V601.7H555.0V602.1H556.0V601.7H557.0V601.8H558.0V601.7H559.0V601.9H560.0V601.8H561.0V602.1H562.0V600.2H563.0V600.4H564.0V601.9H565.0V602.0H566.0V601.7H567.0V601.9H568.0V601.9H569.0V601.9H570.0V601.8H571.0V602.1H572.0V602.0H573.0V602.0H574.0V601.8H575.0V602.1H576.0V601.8H577.0V601.9H578.0V601.8H579.0V601.9H580.0V602.1H581.0V601.9H582.0V602.1H583.0V602.0H584.0V602.1H585.0V601.7H586.0V601.8H587.0V602.0H588.0V602.0H589.0V602.0H590.0V602.0H591.0V601.7H592.0V601.9H593.0V602.0H594.0V602.0H595.0V601.8H596.0V602.0H597.0V601.7H598.0V601.8H599.0V601.8H600.0V602.1H601.0V601.7H602.0V602.0H603.0V600.3H604.0V600.2H605.0V601.7H606.0V602.0H607.0V601.7H608.0V602.1H609.0V602.1H610.0V601.8H611.0V601.8H612.0V601.7H613.0V602.1H614.0V602.0H615.0V602.1H616.0V602.0H617.0V602.1H618.0V601.9H619.0V601.7H620.0V599.1H621.0V599.4H622.0V599.3H623.0V602.1H624.0V601.9H625.0V601.8H626.0V601.8H627.0V602.1H628.0V602.0H629.0V602.0H630.0V601.9H631.0V601.7H632.0V602.0H633.0V601.7H634.0V602.0H635.0V601.7H636.0V601.7H637.0V602.1H638.0V601.8H639.0V600.2H640.0V600.2H641.0V601.8H642.0V601.7H643.0V601.9H644.0V601.9H645.0V601.7H646.0V602.0H647.0V602.0H648.0V601.7H649.0V602.1H650.0V601.9H651.0V601.8H652.0V602.0H653.0V602.1H654.0V601.8H655.0V601.8H656.0V601.8H657.0V602.0H658.0V601.8H659.0V601.9H660.0V601.7H661.0V601.7H662.0V601.7H663.0V602.0H664.0V602.1H665.0V601.9H666.0V601.7H667.0V598.4H668.0V597.2H669.0V598.2H670.0V602.0H671.0V602.1H672.0V601.7H673.0V602.1H674.0V602.0H675.0V602.0H676.0V601.9H677.0V601.8H678.0V601.8H679.0V600.4H680.0V600.2H681.0V601.8H682.0V602.0H682.8V602.3Z" stroke="none" fill="#eac81a" stroke-width="0.8"/>
<line x1="425.00" y1="602.30" x2="682.80" y2="602.30" stroke="#6a6418" stroke-width="1.1"/>
<path d="M425.0,620.3V616.3H426.0V614.3H427.0V614.5H428.0V616.2H429.0V614.5H430.0V617.2H431.0V620.0H432.0V619.8H433.0V619.8H434.0V620.1H435.0V619.7H436.0V620.1H437.0V619.7H438.0V620.1H439.0V619.7H440.0V619.9H441.0V619.9H442.0V619.8H443.0V619.7H444.0V619.9H445.0V619.7H446.0V618.4H447.0V618.4H448.0V619.9H449.0V619.8H450.0V619.7H451.0V619.8H452.0V620.0H453.0V620.0H454.0V619.9H455.0V620.0H456.0V619.7H457.0V619.7H458.0V619.9H459.0V619.9H460.0V620.1H461.0V619.7H462.0V619.9H463.0V620.0H464.0V619.8H465.0V619.9H466.0V619.4H467.0V619.3H468.0V620.0H469.0V620.1H470.0V620.0H471.0V619.9H472.0V619.7H473.0V620.1H474.0V620.0H475.0V619.8H476.0V620.1H477.0V619.7H478.0V619.9H479.0V619.8H480.0V620.1H481.0V619.9H482.0V620.0H483.0V620.1H484.0V619.9H485.0V619.7H486.0V620.1H487.0V619.8H488.0V619.9H489.0V619.9H490.0V620.0H491.0V619.9H492.0V620.1H493.0V620.0H494.0V620.0H495.0V619.8H496.0V619.8H497.0V619.8H498.0V620.0H499.0V619.7H500.0V620.1H501.0V619.9H502.0V619.7H503.0V620.0H504.0V619.8H505.0V620.0H506.0V620.1H507.0V619.9H508.0V619.7H509.0V619.8H510.0V619.9H511.0V619.7H512.0V620.0H513.0V619.7H514.0V619.7H515.0V620.0H516.0V620.1H517.0V619.7H518.0V619.7H519.0V619.9H520.0V619.9H521.0V620.0H522.0V619.8H523.0V619.9H524.0V619.9H525.0V619.9H526.0V619.8H527.0V619.3H528.0V619.3H529.0V620.0H530.0V619.9H531.0V620.1H532.0V619.8H533.0V620.0H534.0V620.1H535.0V620.0H536.0V619.7H537.0V619.9H538.0V620.1H539.0V619.9H540.0V619.9H541.0V620.1H542.0V619.9H543.0V619.9H544.0V620.0H545.0V619.9H546.0V619.7H547.0V619.8H548.0V619.9H549.0V619.8H550.0V619.9H551.0V619.9H552.0V619.7H553.0V619.7H554.0V620.0H555.0V619.7H556.0V620.1H557.0V619.8H558.0V619.7H559.0V619.8H560.0V619.9H561.0V619.8H562.0V620.0H563.0V619.9H564.0V619.8H565.0V620.0H566.0V619.9H567.0V619.8H568.0V619.8H569.0V620.0H570.0V619.9H571.0V620.0H572.0V619.7H573.0V620.1H574.0V620.1H575.0V619.8H576.0V620.1H577.0V620.0H578.0V619.7H579.0V619.9H580.0V619.7H581.0V620.0H582.0V619.8H583.0V619.9H584.0V619.7H585.0V619.9H586.0V619.7H587.0V620.1H588.0V619.9H589.0V620.1H590.0V619.9H591.0V620.0H592.0V620.1H593.0V619.7H594.0V620.0H595.0V620.0H596.0V620.0H597.0V619.7H598.0V620.1H599.0V620.1H600.0V617.3H601.0V617.1H602.0V617.2H603.0V619.9H604.0V620.1H605.0V620.1H606.0V619.7H607.0V619.9H608.0V620.1H609.0V619.8H610.0V619.7H611.0V619.8H612.0V619.9H613.0V620.0H614.0V619.9H615.0V620.0H616.0V620.0H617.0V620.0H618.0V620.1H619.0V619.7H620.0V619.7H621.0V619.9H622.0V619.7H623.0V615.6H624.0V615.5H625.0V617.2H626.0V620.1H627.0V619.7H628.0V619.9H629.0V619.7H630.0V620.1H631.0V619.9H632.0V620.0H633.0V619.8H634.0V619.7H635.0V619.8H636.0V619.7H637.0V619.9H638.0V619.9H639.0V620.0H640.0V619.9H641.0V619.7H642.0V619.9H643.0V620.1H644.0V620.0H645.0V619.9H646.0V619.7H647.0V619.8H648.0V620.0H649.0V619.9H650.0V619.8H651.0V619.7H652.0V619.8H653.0V619.8H654.0V619.8H655.0V619.9H656.0V619.9H657.0V620.1H658.0V620.1H659.0V620.1H660.0V619.8H661.0V620.1H662.0V619.7H663.0V619.8H664.0V619.7H665.0V619.7H666.0V619.8H667.0V615.0H668.0V614.0H669.0V614.4H670.0V616.2H671.0V619.9H672.0V620.1H673.0V619.8H674.0V619.7H675.0V619.7H676.0V620.0H677.0V620.0H678.0V620.0H679.0V617.4H680.0V617.4H681.0V619.7H682.0V620.0H682.8V620.3Z" stroke="none" fill="#d42a34" stroke-width="0.8"/>
<line x1="425.00" y1="620.30" x2="682.80" y2="620.30" stroke="#a01c26" stroke-width="1.1"/>
<path d="M425.0,638.3V637.8H426.0V638.0H427.0V637.8H428.0V634.3H429.0V630.4H430.0V630.8H431.0V634.4H432.0V636.3H433.0V638.0H434.0V638.0H435.0V638.0H436.0V637.8H437.0V637.8H438.0V637.7H439.0V637.7H440.0V637.8H441.0V637.7H442.0V638.1H443.0V638.0H444.0V638.0H445.0V638.0H446.0V637.9H447.0V637.9H448.0V637.7H449.0V638.0H450.0V638.0H451.0V637.7H452.0V638.1H453.0V638.1H454.0V638.1H455.0V637.8H456.0V637.8H457.0V637.9H458.0V638.0H459.0V637.8H460.0V638.1H461.0V637.8H462.0V637.7H463.0V637.8H464.0V638.1H465.0V638.0H466.0V638.0H467.0V637.7H468.0V636.2H469.0V636.3H470.0V638.0H471.0V638.1H472.0V637.8H473.0V638.0H474.0V637.8H475.0V637.9H476.0V637.9H477.0V637.7H478.0V638.1H479.0V638.1H480.0V637.8H481.0V638.1H482.0V637.7H483.0V638.1H484.0V637.7H485.0V637.8H486.0V637.7H487.0V638.1H488.0V638.1H489.0V637.7H490.0V638.0H491.0V637.7H492.0V638.1H493.0V637.9H494.0V637.8H495.0V637.8H496.0V638.0H497.0V638.0H498.0V637.7H499.0V637.7H500.0V638.0H501.0V637.9H502.0V638.0H503.0V638.0H504.0V637.9H505.0V637.8H506.0V637.8H507.0V638.0H508.0V638.1H509.0V637.8H510.0V637.9H511.0V636.2H512.0V636.2H513.0V637.8H514.0V637.9H515.0V638.1H516.0V637.8H517.0V637.8H518.0V638.0H519.0V638.0H520.0V637.9H521.0V637.7H522.0V638.0H523.0V638.0H524.0V637.7H525.0V634.3H526.0V633.3H527.0V633.1H528.0V634.5H529.0V638.0H530.0V633.3H531.0V633.4H532.0V634.2H533.0V634.3H534.0V637.7H535.0V635.3H536.0V635.2H537.0V637.9H538.0V638.0H539.0V635.4H540.0V635.1H541.0V637.7H542.0V638.0H543.0V638.1H544.0V638.1H545.0V637.7H546.0V637.9H547.0V636.3H548.0V636.3H549.0V638.0H550.0V638.0H551.0V637.8H552.0V637.7H553.0V637.8H554.0V637.8H555.0V637.8H556.0V638.1H557.0V637.9H558.0V637.8H559.0V637.8H560.0V638.1H561.0V637.9H562.0V637.9H563.0V636.3H564.0V636.3H565.0V637.9H566.0V638.1H567.0V637.8H568.0V637.7H569.0V637.9H570.0V637.8H571.0V637.7H572.0V637.8H573.0V637.7H574.0V637.7H575.0V637.7H576.0V637.9H577.0V637.8H578.0V637.8H579.0V638.0H580.0V637.9H581.0V638.0H582.0V638.0H583.0V637.7H584.0V637.7H585.0V637.9H586.0V638.0H587.0V638.0H588.0V637.8H589.0V637.9H590.0V637.9H591.0V637.8H592.0V638.1H593.0V637.9H594.0V637.7H595.0V637.9H596.0V637.7H597.0V638.0H598.0V637.8H599.0V637.7H600.0V638.0H601.0V637.9H602.0V638.1H603.0V637.9H604.0V638.0H605.0V638.1H606.0V637.9H607.0V637.9H608.0V637.7H609.0V638.1H610.0V637.9H611.0V637.8H612.0V638.0H613.0V637.8H614.0V637.9H615.0V637.9H616.0V638.1H617.0V637.8H618.0V638.0H619.0V637.7H620.0V637.7H621.0V637.7H622.0V637.8H623.0V637.8H624.0V635.4H625.0V635.1H626.0V636.3H627.0V637.9H628.0V638.1H629.0V638.1H630.0V637.8H631.0V637.9H632.0V638.0H633.0V637.9H634.0V637.9H635.0V637.7H636.0V638.0H637.0V637.8H638.0V638.0H639.0V637.8H640.0V637.8H641.0V638.1H642.0V637.7H643.0V637.9H644.0V638.1H645.0V638.0H646.0V637.7H647.0V638.0H648.0V637.8H649.0V637.9H650.0V637.8H651.0V638.1H652.0V638.1H653.0V637.8H654.0V637.9H655.0V638.1H656.0V637.7H657.0V637.7H658.0V638.0H659.0V637.9H660.0V637.8H661.0V638.0H662.0V638.1H663.0V638.1H664.0V637.8H665.0V638.0H666.0V638.0H667.0V634.2H668.0V632.2H669.0V632.6H670.0V634.5H671.0V638.0H672.0V637.7H673.0V637.9H674.0V637.9H675.0V638.1H676.0V638.1H677.0V638.1H678.0V637.8H679.0V638.0H680.0V637.9H681.0V637.8H682.0V637.7H682.8V638.3Z" stroke="none" fill="#ea6a2a" stroke-width="0.8"/>
<line x1="425.00" y1="638.30" x2="682.80" y2="638.30" stroke="#c0501c" stroke-width="1.1"/>
<path d="M425.0,667.8V666.9H426.0V664.6H427.0V667.3H428.0V662.5H429.0V658.7H430.0V660.5H431.0V661.7H432.0V663.2H433.0V666.9H434.0V667.2H435.0V664.8H436.0V664.1H437.0V664.6H438.0V666.8H439.0V666.6H440.0V665.7H441.0V666.0H442.0V665.3H443.0V664.6H444.0V665.0H445.0V666.2H446.0V667.3H447.0V662.6H448.0V666.6H449.0V665.6H450.0V665.5H451.0V666.1H452.0V667.1H453.0V664.6H454.0V666.5H455.0V664.9H456.0V666.0H457.0V665.8H458.0V666.6H459.0V666.5H460.0V666.6H461.0V666.8H462.0V665.7H463.0V664.5H464.0V666.2H465.0V667.1H466.0V665.0H467.0V664.9H468.0V666.7H469.0V664.5H470.0V665.3H471.0V666.9H472.0V667.0H473.0V664.8H474.0V667.1H475.0V667.3H476.0V667.1H477.0V665.8H478.0V666.0H479.0V664.6H480.0V667.1H481.0V664.5H482.0V664.8H483.0V666.7H484.0V664.1H485.0V663.0H486.0V666.8H487.0V665.5H488.0V664.7H489.0V665.1H490.0V666.5H491.0V665.9H492.0V666.5H493.0V665.7H494.0V667.3H495.0V666.0H496.0V666.7H497.0V665.1H498.0V666.1H499.0V664.8H500.0V666.6H501.0V667.2H502.0V666.3H503.0V667.1H504.0V665.7H505.0V664.0H506.0V666.7H507.0V661.4H508.0V662.3H509.0V665.4H510.0V665.3H511.0V666.8H512.0V665.0H513.0V666.3H514.0V667.1H515.0V667.0H516.0V666.1H517.0V665.2H518.0V666.7H519.0V667.2H520.0V666.0H521.0V665.4H522.0V665.7H523.0V665.5H524.0V666.8H525.0V664.9H526.0V665.9H527.0V665.0H528.0V663.3H529.0V665.6H530.0V665.8H531.0V666.8H532.0V665.2H533.0V667.1H534.0V665.7H535.0V666.4H536.0V664.9H537.0V666.2H538.0V664.6H539.0V666.5H540.0V664.7H541.0V665.1H542.0V666.1H543.0V665.3H544.0V664.7H545.0V666.2H546.0V665.4H547.0V665.4H548.0V664.8H549.0V663.7H550.0V663.3H551.0V665.3H552.0V665.8H553.0V664.9H554.0V666.6H555.0V664.6H556.0V667.2H557.0V665.8H558.0V665.2H559.0V665.7H560.0V666.3H561.0V667.2H562.0V666.4H563.0V666.8H564.0V665.7H565.0V666.2H566.0V666.2H567.0V666.3H568.0V664.4H569.0V659.9H570.0V665.5H571.0V665.6H572.0V664.5H573.0V667.0H574.0V666.1H575.0V667.3H576.0V665.7H577.0V664.6H578.0V666.8H579.0V665.8H580.0V665.0H581.0V665.4H582.0V665.2H583.0V662.1H584.0V656.9H585.0V662.3H586.0V666.6H587.0V664.0H588.0V664.5H589.0V664.3H590.0V665.9H591.0V666.0H592.0V667.0H593.0V666.0H594.0V665.1H595.0V665.1H596.0V665.7H597.0V664.5H598.0V665.6H599.0V665.8H600.0V665.8H601.0V664.8H602.0V663.8H603.0V665.4H604.0V665.9H605.0V665.1H606.0V666.0H607.0V665.8H608.0V664.7H609.0V664.7H610.0V664.8H611.0V664.7H612.0V666.9H613.0V666.9H614.0V665.6H615.0V660.6H616.0V655.2H617.0V661.3H618.0V661.1H619.0V661.1H620.0V662.7H621.0V664.7H622.0V664.9H623.0V660.5H624.0V666.9H625.0V664.8H626.0V664.6H627.0V665.1H628.0V666.9H629.0V665.5H630.0V666.6H631.0V666.5H632.0V666.6H633.0V666.3H634.0V663.5H635.0V664.9H636.0V665.9H637.0V666.7H638.0V665.5H639.0V665.1H640.0V664.7H641.0V664.8H642.0V666.9H643.0V666.0H644.0V666.1H645.0V663.7H646.0V666.5H647.0V664.1H648.0V664.7H649.0V665.9H650.0V667.0H651.0V664.7H652.0V664.8H653.0V667.3H654.0V666.4H655.0V665.8H656.0V666.5H657.0V665.1H658.0V666.2H659.0V665.9H660.0V667.1H661.0V666.3H662.0V664.2H663.0V666.2H664.0V664.5H665.0V667.2H666.0V667.0H667.0V666.9H668.0V658.5H669.0V650.3H670.0V653.2H671.0V661.6H672.0V657.6H673.0V664.1H674.0V663.9H675.0V665.8H676.0V664.8H677.0V657.9H678.0V661.0H679.0V665.9H680.0V666.7H681.0V664.7H682.0V665.4H682.8V667.8Z" stroke="none" fill="#4e8a80" stroke-width="0.8"/>
<line x1="425.00" y1="667.80" x2="682.80" y2="667.80" stroke="#1e2a28" stroke-width="1.1"/>
<path d="M425.0,685.0V683.9H426.0V682.2H427.0V680.6H428.0V682.7H429.0V679.0H430.0V681.8H431.0V682.9H432.0V684.5H433.0V681.9H434.0V682.6H435.0V682.3H436.0V682.3H437.0V682.5H438.0V683.9H439.0V682.0H440.0V682.8H441.0V682.5H442.0V682.5H443.0V682.4H444.0V682.9H445.0V684.4H446.0V682.2H447.0V682.7H448.0V682.9H449.0V682.9H450.0V684.5H451.0V684.2H452.0V682.6H453.0V683.0H454.0V682.5H455.0V683.8H456.0V684.3H457.0V683.6H458.0V683.8H459.0V682.7H460.0V683.7H461.0V682.1H462.0V683.2H463.0V683.5H464.0V682.0H465.0V682.6H466.0V682.2H467.0V684.2H468.0V683.4H469.0V682.1H470.0V683.8H471.0V683.0H472.0V682.1H473.0V683.4H474.0V683.2H475.0V682.4H476.0V683.9H477.0V684.4H478.0V683.3H479.0V684.4H480.0V681.9H481.0V684.3H482.0V683.9H483.0V678.2H484.0V678.3H485.0V678.3H486.0V684.1H487.0V683.0H488.0V684.1H489.0V682.1H490.0V681.8H491.0V682.8H492.0V683.8H493.0V682.9H494.0V683.5H495.0V683.1H496.0V684.2H497.0V684.2H498.0V683.2H499.0V683.4H500.0V681.5H501.0V683.8H502.0V681.3H503.0V682.3H504.0V683.2H505.0V681.7H506.0V684.3H507.0V683.0H508.0V682.1H509.0V682.6H510.0V683.8H511.0V683.1H512.0V684.5H513.0V683.7H514.0V682.3H515.0V683.4H516.0V683.3H517.0V682.0H518.0V682.5H519.0V682.7H520.0V683.6H521.0V681.5H522.0V682.4H523.0V683.3H524.0V682.2H525.0V684.0H526.0V683.4H527.0V682.9H528.0V683.0H529.0V683.0H530.0V682.4H531.0V682.6H532.0V684.0H533.0V683.6H534.0V682.0H535.0V683.4H536.0V684.1H537.0V683.3H538.0V682.1H539.0V684.1H540.0V683.8H541.0V683.4H542.0V682.8H543.0V684.2H544.0V683.8H545.0V683.2H546.0V684.2H547.0V683.2H548.0V682.6H549.0V683.0H550.0V683.1H551.0V682.4H552.0V683.4H553.0V684.4H554.0V682.4H555.0V681.9H556.0V682.9H557.0V681.5H558.0V682.2H559.0V683.0H560.0V683.7H561.0V683.0H562.0V682.6H563.0V684.0H564.0V682.2H565.0V683.7H566.0V683.2H567.0V684.1H568.0V681.8H569.0V681.8H570.0V683.9H571.0V683.5H572.0V684.5H573.0V682.8H574.0V682.1H575.0V681.9H576.0V682.9H577.0V684.4H578.0V683.7H579.0V682.4H580.0V683.7H581.0V681.9H582.0V683.0H583.0V682.1H584.0V683.0H585.0V681.7H586.0V683.8H587.0V682.2H588.0V683.1H589.0V683.3H590.0V682.1H591.0V682.0H592.0V684.4H593.0V682.5H594.0V682.6H595.0V683.0H596.0V682.8H597.0V682.3H598.0V683.3H599.0V683.1H600.0V682.6H601.0V684.5H602.0V682.0H603.0V681.9H604.0V682.7H605.0V684.0H606.0V684.4H607.0V683.2H608.0V681.6H609.0V682.2H610.0V683.0H611.0V680.3H612.0V682.3H613.0V681.3H614.0V683.8H615.0V683.0H616.0V684.5H617.0V683.8H618.0V677.8H619.0V678.5H620.0V676.2H621.0V679.1H622.0V682.6H623.0V684.3H624.0V682.8H625.0V679.5H626.0V674.2H627.0V674.9H628.0V684.3H629.0V683.4H630.0V682.1H631.0V683.4H632.0V683.2H633.0V680.8H634.0V683.0H635.0V683.8H636.0V682.6H637.0V683.6H638.0V684.1H639.0V684.1H640.0V684.3H641.0V683.1H642.0V681.8H643.0V683.1H644.0V682.8H645.0V681.9H646.0V679.2H647.0V679.9H648.0V680.5H649.0V681.8H650.0V684.0H651.0V683.1H652.0V683.7H653.0V683.7H654.0V682.6H655.0V679.8H656.0V680.2H657.0V680.3H658.0V683.5H659.0V683.7H660.0V681.8H661.0V682.8H662.0V682.2H663.0V682.2H664.0V683.2H665.0V683.5H666.0V684.2H667.0V683.4H668.0V675.1H669.0V668.3H670.0V675.6H671.0V675.2H672.0V672.0H673.0V676.9H674.0V676.6H675.0V680.1H676.0V682.6H677.0V683.7H678.0V680.5H679.0V678.4H680.0V681.3H681.0V683.2H682.0V682.1H682.8V685.0Z" stroke="none" fill="#4e8a80" stroke-width="0.8"/>
<line x1="425.00" y1="685.00" x2="682.80" y2="685.00" stroke="#1e2a28" stroke-width="1.1"/>
<path d="M425.0,703.9V702.6H426.0V701.4H427.0V703.3H428.0V691.6H429.0V698.4H430.0V697.8H431.0V697.7H432.0V695.6H433.0V703.2H434.0V701.4H435.0V702.4H436.0V700.8H437.0V702.0H438.0V701.6H439.0V702.6H440.0V701.2H441.0V702.3H442.0V700.8H443.0V702.5H444.0V701.6H445.0V702.4H446.0V699.7H447.0V700.6H448.0V702.2H449.0V700.7H450.0V700.9H451.0V703.3H452.0V702.6H453.0V703.0H454.0V702.9H455.0V702.3H456.0V703.4H457.0V701.6H458.0V701.6H459.0V701.6H460.0V701.4H461.0V701.9H462.0V702.2H463.0V701.0H464.0V698.8H465.0V698.7H466.0V699.5H467.0V701.4H468.0V701.9H469.0V702.0H470.0V702.7H471.0V701.5H472.0V701.1H473.0V702.1H474.0V702.2H475.0V702.8H476.0V703.3H477.0V703.2H478.0V702.3H479.0V701.9H480.0V703.3H481.0V703.0H482.0V701.2H483.0V701.6H484.0V699.1H485.0V698.8H486.0V702.0H487.0V702.3H488.0V703.0H489.0V701.5H490.0V701.8H491.0V702.6H492.0V700.9H493.0V702.0H494.0V699.0H495.0V695.5H496.0V698.5H497.0V701.4H498.0V703.1H499.0V702.1H500.0V702.9H501.0V702.4H502.0V701.7H503.0V702.1H504.0V701.1H505.0V701.4H506.0V700.0H507.0V703.1H508.0V701.5H509.0V703.1H510.0V702.8H511.0V702.7H512.0V702.0H513.0V701.8H514.0V702.9H515.0V702.2H516.0V702.0H517.0V700.7H518.0V697.2H519.0V698.0H520.0V702.2H521.0V703.4H522.0V701.2H523.0V700.8H524.0V701.7H525.0V702.5H526.0V703.3H527.0V701.9H528.0V703.3H529.0V701.0H530.0V702.5H531.0V702.4H532.0V700.7H533.0V701.5H534.0V703.3H535.0V700.8H536.0V702.3H537.0V701.8H538.0V701.3H539.0V701.0H540.0V703.3H541.0V702.6H542.0V703.3H543.0V702.7H544.0V695.5H545.0V698.1H546.0V699.1H547.0V696.3H548.0V699.4H549.0V695.3H550.0V698.7H551.0V694.2H552.0V698.3H553.0V699.3H554.0V701.0H555.0V702.9H556.0V703.1H557.0V702.9H558.0V699.1H559.0V698.9H560.0V696.7H561.0V697.8H562.0V699.1H563.0V696.8H564.0V695.6H565.0V696.7H566.0V702.8H567.0V702.0H568.0V696.8H569.0V700.2H570.0V702.0H571.0V702.3H572.0V701.4H573.0V700.8H574.0V702.5H575.0V700.8H576.0V701.4H577.0V702.5H578.0V700.7H579.0V702.5H580.0V701.2H581.0V702.6H582.0V702.6H583.0V701.6H584.0V701.6H585.0V700.6H586.0V703.2H587.0V702.4H588.0V701.0H589.0V702.4H590.0V700.5H591.0V703.2H592.0V702.4H593.0V701.1H594.0V702.8H595.0V701.8H596.0V701.4H597.0V700.9H598.0V701.5H599.0V700.8H600.0V702.4H601.0V700.8H602.0V702.1H603.0V701.0H604.0V702.7H605.0V701.3H606.0V701.6H607.0V701.3H608.0V700.4H609.0V695.5H610.0V702.0H611.0V702.6H612.0V700.8H613.0V701.5H614.0V702.4H615.0V702.1H616.0V701.2H617.0V703.1H618.0V703.0H619.0V702.2H620.0V703.2H621.0V700.7H622.0V701.9H623.0V700.7H624.0V701.6H625.0V701.4H626.0V702.1H627.0V703.4H628.0V703.1H629.0V703.2H630.0V702.9H631.0V703.1H632.0V701.3H633.0V702.5H634.0V703.2H635.0V702.9H636.0V702.2H637.0V700.9H638.0V703.0H639.0V702.9H640.0V701.4H641.0V702.6H642.0V701.3H643.0V702.6H644.0V700.8H645.0V702.3H646.0V702.6H647.0V701.6H648.0V701.5H649.0V702.2H650.0V700.7H651.0V702.8H652.0V701.9H653.0V702.9H654.0V702.4H655.0V703.2H656.0V702.3H657.0V703.0H658.0V702.3H659.0V703.4H660.0V701.4H661.0V701.5H662.0V701.8H663.0V702.0H664.0V703.0H665.0V700.8H666.0V703.0H667.0V697.8H668.0V690.1H669.0V686.4H670.0V686.4H671.0V692.2H672.0V696.7H673.0V693.9H674.0V701.5H675.0V702.9H676.0V701.8H677.0V702.6H678.0V701.2H679.0V701.4H680.0V700.7H681.0V702.3H682.0V701.5H682.8V703.9Z" stroke="none" fill="#4e8a80" stroke-width="0.8"/>
<line x1="425.00" y1="703.90" x2="682.80" y2="703.90" stroke="#1e2a28" stroke-width="1.1"/>
<text x="421.20" y="496.60" font-size="8.23" text-anchor="end" fill="#231f20" stroke="#231f20" stroke-width="0.08" textLength="25.04" lengthAdjust="spacingAndGlyphs">Plasma</text>
<text x="421.20" y="514.50" font-size="8.23" text-anchor="end" fill="#231f20" stroke="#231f20" stroke-width="0.08" textLength="18.31" lengthAdjust="spacingAndGlyphs">B cell</text>
<text x="421.20" y="532.20" font-size="8.23" text-anchor="end" fill="#231f20" stroke="#231f20" stroke-width="0.08" textLength="15.93" lengthAdjust="spacingAndGlyphs">T/NK</text>
<text x="421.20" y="550.20" font-size="8.23" text-anchor="end" fill="#231f20" stroke="#231f20" stroke-width="0.08" textLength="25.92" lengthAdjust="spacingAndGlyphs">Stromal</text>
<text x="421.20" y="568.50" font-size="8.23" text-anchor="end" fill="#231f20" stroke="#231f20" stroke-width="0.08" textLength="25.93" lengthAdjust="spacingAndGlyphs">Myeloid</text>
<text x="421.20" y="599.00" font-size="8.23" text-anchor="end" fill="#231f20" stroke="#231f20" stroke-width="0.08" textLength="18.27" lengthAdjust="spacingAndGlyphs">BLCA</text>
<text x="421.20" y="617.00" font-size="8.23" text-anchor="end" fill="#231f20" stroke="#231f20" stroke-width="0.08" textLength="19.44" lengthAdjust="spacingAndGlyphs">BRCA</text>
<text x="421.20" y="634.70" font-size="8.23" text-anchor="end" fill="#231f20" stroke="#231f20" stroke-width="0.08" textLength="20.21" lengthAdjust="spacingAndGlyphs">COAD</text>
<text x="421.20" y="665.00" font-size="8.23" text-anchor="end" fill="#231f20" stroke="#231f20" stroke-width="0.08" textLength="18.27" lengthAdjust="spacingAndGlyphs">BLCA</text>
<text x="421.20" y="682.90" font-size="8.23" text-anchor="end" fill="#231f20" stroke="#231f20" stroke-width="0.08" textLength="19.44" lengthAdjust="spacingAndGlyphs">BRCA</text>
<text x="421.20" y="701.80" font-size="8.23" text-anchor="end" fill="#231f20" stroke="#231f20" stroke-width="0.08" textLength="20.21" lengthAdjust="spacingAndGlyphs">COAD</text>
<text x="421.20" y="715.20" font-size="8.23" text-anchor="end" fill="#231f20" stroke="#231f20" stroke-width="0.08" textLength="20.4" lengthAdjust="spacingAndGlyphs">Loops</text>
<line x1="387.40" y1="484.70" x2="387.40" y2="573.50" stroke="#555" stroke-width="0.7"/>
<line x1="387.40" y1="584.80" x2="387.40" y2="638.30" stroke="#555" stroke-width="0.7"/>
<line x1="387.40" y1="651.20" x2="387.40" y2="703.30" stroke="#555" stroke-width="0.7"/>
<text x="384.30" y="529.20" font-size="8.23" text-anchor="middle" fill="#231f20" stroke="#231f20" stroke-width="0.08" textLength="70.4" lengthAdjust="spacingAndGlyphs" transform="rotate(-90 384.30 529.20)">(nonmalignant cells)</text>
<text x="383.00" y="611.50" font-size="8.23" text-anchor="middle" fill="#231f20" stroke="#231f20" stroke-width="0.08" textLength="58" lengthAdjust="spacingAndGlyphs" transform="rotate(-90 383.00 611.50)">(malignant cells)</text>
<text x="364.30" y="563.40" font-size="8.23" text-anchor="middle" fill="#231f20" stroke="#231f20" stroke-width="0.08" textLength="90.6" lengthAdjust="spacingAndGlyphs" transform="rotate(-90 364.30 563.40)">Norm scATAC–seq (0–0.3)</text>
<text x="364.80" y="677.00" font-size="7.02" text-anchor="middle" fill="#231f20" stroke="#231f20" stroke-width="0.08" textLength="28.79" lengthAdjust="spacingAndGlyphs" transform="rotate(-90 364.80 677.00)">HiChIP 1D</text>
<text x="374.60" y="678.00" font-size="8.23" text-anchor="middle" fill="#231f20" stroke="#231f20" stroke-width="0.08" textLength="31" lengthAdjust="spacingAndGlyphs" transform="rotate(-90 374.60 678.00)">H3K27ac</text>
<text x="383.40" y="677.40" font-size="8.23" text-anchor="middle" fill="#231f20" stroke="#231f20" stroke-width="0.08" textLength="40" lengthAdjust="spacingAndGlyphs" transform="rotate(-90 383.40 677.40)">Signal (0–1)</text>
<path d="M427.30,705.00C427.30,729.61 675.40,729.61 675.40,705.00" stroke="#3a1848" fill="none" stroke-width="0.85"/>
<path d="M433.80,705.00C433.80,727.61 675.40,727.61 675.40,705.00" stroke="#3a1848" fill="none" stroke-width="0.85"/>
<path d="M434.60,705.00C434.60,726.55 675.40,726.55 675.40,705.00" stroke="#3a1848" fill="none" stroke-width="0.8"/>
<path d="M481.90,705.00C481.90,723.62 675.40,723.62 675.40,705.00" stroke="#3a1848" fill="none" stroke-width="0.8"/>
<path d="M532.20,705.00C532.20,720.29 675.40,720.29 675.40,705.00" stroke="#3a1848" fill="none" stroke-width="0.8"/>
<path d="M619.20,705.00C619.20,711.38 675.40,711.38 675.40,705.00" stroke="#3a1848" fill="none" stroke-width="0.8"/>
<line x1="425.00" y1="725.60" x2="682.80" y2="725.60" stroke="#333" stroke-width="0.8"/>
<rect x="668.60" y="726.00" width="6.40" height="11.60" fill="#e8303a"/>
<line x1="670.70" y1="726.00" x2="670.70" y2="737.60" stroke="#f8b0b0" stroke-width="0.5"/>
<line x1="672.60" y1="726.00" x2="672.60" y2="737.60" stroke="#f8b0b0" stroke-width="0.5"/>
<text x="667.00" y="735.30" font-size="8.71" text-anchor="end" fill="#e8303a" stroke="#e8303a" stroke-width="0.08" font-style="italic" textLength="16.45" lengthAdjust="spacingAndGlyphs">MYC</text>
<line x1="428.00" y1="738.00" x2="428.00" y2="740.00" stroke="#444" stroke-width="0.6"/>
<text x="428.00" y="747.20" font-size="7.62" text-anchor="middle" fill="#231f20" stroke="#231f20" stroke-width="0.08" textLength="17.64" lengthAdjust="spacingAndGlyphs">127.4</text>
<line x1="499.90" y1="738.00" x2="499.90" y2="740.00" stroke="#444" stroke-width="0.6"/>
<text x="499.90" y="747.20" font-size="7.62" text-anchor="middle" fill="#231f20" stroke="#231f20" stroke-width="0.08" textLength="17.64" lengthAdjust="spacingAndGlyphs">127.5</text>
<line x1="571.80" y1="738.00" x2="571.80" y2="740.00" stroke="#444" stroke-width="0.6"/>
<text x="571.80" y="747.20" font-size="7.62" text-anchor="middle" fill="#231f20" stroke="#231f20" stroke-width="0.08" textLength="17.64" lengthAdjust="spacingAndGlyphs">127.6</text>
<line x1="643.70" y1="738.00" x2="643.70" y2="740.00" stroke="#444" stroke-width="0.6"/>
<text x="636.20" y="747.20" font-size="7.62" fill="#231f20" stroke="#231f20" stroke-width="0.08" textLength="28.19" lengthAdjust="spacingAndGlyphs">127.7 Mb</text>
<linearGradient id="cb2" x1="0" x2="1" y1="0" y2="0"><stop offset="0" stop-color="#dbe9f8"/><stop offset="0.3" stop-color="#5a86d0"/><stop offset="0.55" stop-color="#4a3a9a"/><stop offset="0.75" stop-color="#8a2a8a"/><stop offset="1" stop-color="#0a0008"/></linearGradient>
<rect x="361.80" y="733.10" width="35.10" height="7.60" fill="url(#cb2)"/>
<text x="362.40" y="725.50" font-size="8.23" fill="#231f20" stroke="#231f20" stroke-width="0.08">−log<tspan font-size="4.3" dy="1.5">10</tspan><tspan dy="-1.5">(</tspan><tspan font-style="italic">P</tspan><tspan font-size="4.3" font-style="italic" dy="1.5">adj</tspan><tspan dy="-1.5">)</tspan></text>
<text x="362.30" y="747.30" font-size="7.02" text-anchor="middle" fill="#231f20" stroke="#231f20" stroke-width="0.08" textLength="3.61" lengthAdjust="spacingAndGlyphs">0</text>
<text x="370.80" y="747.30" font-size="7.02" text-anchor="middle" fill="#231f20" stroke="#231f20" stroke-width="0.08" textLength="3.61" lengthAdjust="spacingAndGlyphs">2</text>
<text x="379.90" y="747.30" font-size="7.02" text-anchor="middle" fill="#231f20" stroke="#231f20" stroke-width="0.08" textLength="3.61" lengthAdjust="spacingAndGlyphs">4</text>
<text x="388.60" y="747.30" font-size="7.02" text-anchor="middle" fill="#231f20" stroke="#231f20" stroke-width="0.08" textLength="3.61" lengthAdjust="spacingAndGlyphs">6</text>
</svg></body></html>
